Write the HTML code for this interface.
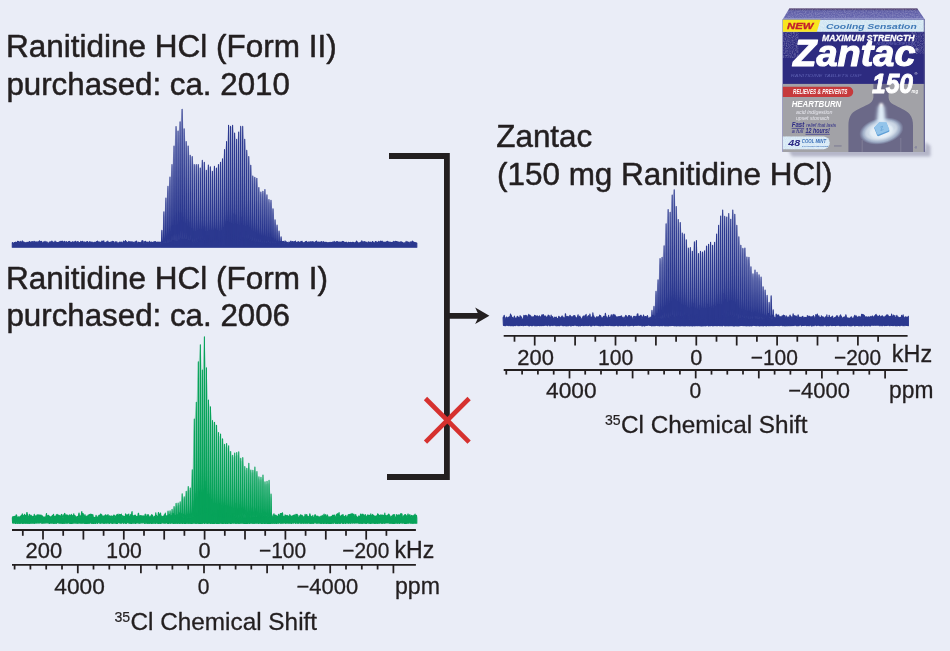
<!DOCTYPE html>
<html lang="en"><head><meta charset="utf-8"><title>Ranitidine HCl 35Cl NMR</title>
<style>
html,body{margin:0;padding:0;background:#eaedf7;}
body{width:950px;height:651px;overflow:hidden;position:relative;font-family:"Liberation Sans",Arial,sans-serif;}
svg{position:absolute;left:0;top:0;display:block}
text{font-family:"Liberation Sans",Arial,sans-serif;fill:#231f20}
</style></head><body>
<svg width="950" height="651" viewBox="0 0 950 651">
<rect x="0" y="0" width="950" height="651" fill="#eaedf7"/>

<g id="spectra" stroke-linejoin="round">
<path d="M160.9,247.7 161.9,232.3 163.9,213.9 165.9,200.1 168.0,188.6 170.0,179.3 172.0,165.5 174.0,147.1 176.0,127.5 178.1,132.1 180.1,122.9 182.1,110.2 184.1,129.8 186.1,142.5 188.2,147.1 190.2,156.3 192.2,157.5 194.2,165.5 196.2,165.5 198.3,165.5 200.3,169.0 202.3,161.4 204.3,163.2 206.3,171.3 208.4,166.0 210.4,167.8 212.4,172.4 214.4,167.4 216.4,169.0 218.5,165.5 220.5,163.2 222.5,159.8 224.5,150.5 226.5,142.5 228.6,126.2 230.6,127.4 232.6,126.2 234.6,134.0 236.6,140.3 238.7,133.1 240.7,127.4 242.7,127.4 244.7,140.3 246.7,151.4 248.8,157.5 250.8,166.3 252.8,177.0 254.8,178.2 256.8,180.5 258.9,189.7 260.9,194.3 262.9,193.2 264.9,192.0 266.9,197.3 269.0,201.9 271.0,202.4 273.0,211.1 275.0,222.0 277.0,227.3 279.1,233.5 281.1,239.2 282.1,247.7 Z" fill="#2b388f" opacity="0.12"/>
<path d="M167.0,523.2 168.0,513.8 170.1,513.5 172.1,512.3 174.1,509.2 176.1,506.1 178.1,505.5 180.2,504.6 182.2,496.9 184.2,499.4 186.2,493.8 188.2,489.2 190.3,490.8 192.3,472.3 194.3,420.1 196.3,403.2 198.3,362.8 200.4,345.7 202.4,371.1 204.4,337.9 206.4,368.8 208.4,401.0 210.5,407.8 212.5,421.6 214.5,423.2 216.5,426.2 218.5,435.5 220.6,437.0 222.6,441.6 224.6,447.1 226.6,446.2 228.6,449.3 230.7,453.9 232.7,457.6 234.7,456.3 236.7,455.4 238.7,454.5 240.8,461.6 242.8,460.0 244.8,469.2 246.8,470.8 248.8,466.2 250.9,472.3 252.9,472.9 254.9,469.9 256.9,473.9 258.9,479.1 261.0,480.0 263.0,477.9 265.0,484.6 267.0,484.0 269.0,483.1 271.1,496.9 272.1,523.2 Z" fill="#07a35a" opacity="0.2"/>
<path d="M651.0,325.8 652.0,313.0 654.0,309.0 656.0,293.9 658.0,282.4 660.1,261.6 662.1,258.2 664.1,246.7 666.1,224.8 668.1,210.5 670.2,213.3 672.2,196.0 674.2,190.7 676.2,207.5 678.2,220.6 680.3,223.6 682.3,234.0 684.3,235.1 686.3,240.9 688.3,249.0 690.4,248.5 692.4,252.2 694.4,242.9 696.4,241.6 698.4,254.5 700.5,252.2 702.5,253.1 704.5,251.9 706.5,247.1 708.5,245.2 710.6,243.2 712.6,246.2 714.6,243.2 716.6,235.1 718.6,226.3 720.7,217.1 722.7,211.1 724.7,217.4 726.7,218.1 728.7,214.6 730.8,220.2 732.8,211.1 734.8,215.3 736.8,226.3 738.8,237.9 740.9,246.2 742.9,249.4 744.9,249.1 746.9,260.5 748.9,258.2 751.0,269.7 753.0,276.6 755.0,273.2 757.0,275.0 759.0,277.8 761.1,280.1 763.1,289.3 765.1,292.8 767.1,298.5 769.1,305.4 771.2,298.5 773.2,312.3 774.2,325.8 Z" fill="#2b388f" opacity="0.12"/>
<path d="M12.30,242.8 12.55,242.5 12.80,243.4 13.05,243.3 13.30,243.3 13.55,243.4 13.80,243.2 14.05,242.9 14.30,242.7 14.55,242.5 14.80,242.5 15.05,242.4 15.30,242.6 15.55,242.2 15.80,243.0 16.05,242.5 16.30,242.5 16.55,242.6 16.80,243.1 17.05,242.9 17.30,241.8 17.55,241.2 17.80,242.3 18.05,242.1 18.30,241.4 18.55,241.7 18.80,243.1 19.05,243.6 19.30,243.0 19.55,242.1 19.80,242.9 20.05,242.5 20.30,241.4 20.55,242.0 20.80,242.3 21.05,242.6 21.30,242.1 21.55,242.1 21.80,243.0 22.05,241.9 22.30,240.8 22.55,241.7 22.80,242.5 23.05,242.3 23.30,243.0 23.55,242.5 23.80,241.8 24.05,242.6 24.30,243.1 24.55,243.4 24.80,243.4 25.05,242.6 25.30,242.9 25.55,243.0 25.80,242.9 26.05,243.2 26.30,242.8 26.55,242.9 26.80,242.4 27.05,242.4 27.30,243.0 27.55,242.7 27.80,242.3 28.05,242.8 28.30,243.2 28.55,242.6 28.80,242.2 29.05,242.1 29.30,241.5 29.55,241.8 29.80,241.8 30.05,242.9 30.30,243.0 30.55,242.2 30.80,242.6 31.05,242.7 31.30,241.8 31.55,242.3 31.80,242.1 32.05,241.8 32.30,241.6 32.55,242.0 32.80,242.1 33.05,242.7 33.30,242.6 33.55,241.9 33.80,242.0 34.05,241.3 34.30,241.8 34.55,242.4 34.80,242.7 35.05,241.7 35.30,242.2 35.55,242.5 35.80,242.7 36.05,242.6 36.30,241.8 36.55,242.4 36.80,243.3 37.05,242.7 37.30,242.7 37.55,242.3 37.80,241.8 38.05,242.2 38.30,241.7 38.55,242.3 38.80,243.0 39.05,241.8 39.30,241.3 39.55,240.7 39.80,242.5 40.05,242.9 40.30,241.6 40.55,242.1 40.80,242.9 41.05,242.2 41.30,241.7 41.55,241.4 41.80,242.1 42.05,243.2 42.30,243.7 42.55,243.8 42.80,243.7 43.05,242.9 43.30,242.0 43.55,242.2 43.80,242.2 44.05,242.1 44.30,243.0 44.55,243.0 44.80,242.1 45.05,241.2 45.30,242.3 45.55,243.1 45.80,242.4 46.05,242.5 46.30,242.2 46.55,242.3 46.80,241.8 47.05,241.9 47.30,242.5 47.55,243.2 47.80,243.5 48.05,243.5 48.30,243.6 48.55,243.4 48.80,243.0 49.05,242.3 49.30,242.6 49.55,243.5 49.80,243.0 50.05,241.5 50.30,242.2 50.55,243.0 50.80,242.9 51.05,242.4 51.30,242.8 51.55,242.1 51.80,241.1 52.05,241.6 52.30,242.7 52.55,242.6 52.80,242.1 53.05,242.0 53.30,243.1 53.55,243.7 53.80,243.4 54.05,242.7 54.30,242.3 54.55,242.4 54.80,242.2 55.05,241.1 55.30,242.0 55.55,242.6 55.80,242.4 56.05,242.0 56.30,242.2 56.55,243.0 56.80,243.3 57.05,242.8 57.30,242.5 57.55,242.7 57.80,242.5 58.05,243.1 58.30,242.9 58.55,242.2 58.80,242.7 59.05,242.4 59.30,242.1 59.55,241.7 59.80,242.8 60.05,243.2 60.30,242.2 60.55,241.7 60.80,241.2 61.05,241.6 61.30,243.1 61.55,243.1 61.80,242.1 62.05,241.1 62.30,241.1 62.55,241.8 62.80,241.6 63.05,242.1 63.30,242.6 63.55,242.5 63.80,242.3 64.05,242.1 64.30,241.3 64.55,241.4 64.80,242.0 65.05,241.6 65.30,242.8 65.55,243.4 65.80,243.2 66.05,242.9 66.30,243.0 66.55,241.6 66.80,241.9 67.05,243.3 67.30,243.3 67.55,243.1 67.80,242.9 68.05,242.2 68.30,242.2 68.55,241.6 68.80,241.8 69.05,241.6 69.30,241.4 69.55,241.5 69.80,242.3 70.05,242.3 70.30,242.1 70.55,242.6 70.80,242.6 71.05,242.6 71.30,243.2 71.55,242.7 71.80,242.4 72.05,242.1 72.30,242.3 72.55,241.8 72.80,242.3 73.05,242.8 73.30,242.1 73.55,242.4 73.80,243.2 74.05,242.8 74.30,242.0 74.55,241.9 74.80,242.7 75.05,241.6 75.30,241.8 75.55,241.3 75.80,241.8 76.05,241.9 76.30,242.2 76.55,242.4 76.80,242.7 77.05,242.4 77.30,241.9 77.55,241.6 77.80,241.8 78.05,241.8 78.30,241.8 78.55,242.4 78.80,242.4 79.05,242.5 79.30,242.7 79.55,242.7 79.80,242.8 80.05,242.7 80.30,242.4 80.55,242.1 80.80,241.2 81.05,242.0 81.30,242.9 81.55,242.8 81.80,242.6 82.05,241.8 82.30,241.4 82.55,241.4 82.80,242.1 83.05,242.9 83.30,242.7 83.55,242.0 83.80,242.1 84.05,242.0 84.30,242.1 84.55,242.1 84.80,242.2 85.05,242.0 85.30,242.3 85.55,242.6 85.80,243.0 86.05,243.3 86.30,243.1 86.55,242.7 86.80,241.5 87.05,242.3 87.30,241.9 87.55,241.5 87.80,242.0 88.05,242.5 88.30,243.0 88.55,242.8 88.80,242.9 89.05,242.9 89.30,242.6 89.55,242.4 89.80,241.5 90.05,241.5 90.30,242.8 90.55,243.3 90.80,243.1 91.05,242.5 91.30,242.3 91.55,242.9 91.80,242.8 92.05,242.0 92.30,242.4 92.55,242.5 92.80,243.0 93.05,243.2 93.30,242.7 93.55,242.7 93.80,243.0 94.05,242.5 94.30,242.3 94.55,242.4 94.80,242.8 95.05,242.4 95.30,242.8 95.55,242.5 95.80,242.3 96.05,243.2 96.30,242.8 96.55,241.7 96.80,241.6 97.05,242.0 97.30,241.5 97.55,241.1 97.80,241.4 98.05,241.9 98.30,242.8 98.55,242.4 98.80,242.1 99.05,242.1 99.30,242.2 99.55,242.9 99.80,242.2 100.05,242.1 100.30,242.8 100.55,242.9 100.80,242.5 101.05,242.5 101.30,242.1 101.55,242.3 101.80,241.6 102.05,240.9 102.30,242.4 102.55,242.8 102.80,241.9 103.05,241.8 103.30,241.2 103.55,241.3 103.80,240.8 104.05,241.9 104.30,242.6 104.55,243.1 104.80,243.1 105.05,243.5 105.30,243.1 105.55,242.5 105.80,243.2 106.05,242.7 106.30,241.8 106.55,241.9 106.80,242.3 107.05,242.9 107.30,242.7 107.55,241.9 107.80,241.1 108.05,242.5 108.30,243.1 108.55,242.8 108.80,242.2 109.05,242.7 109.30,243.2 109.55,242.9 109.80,242.7 110.05,242.2 110.30,242.9 110.55,243.3 110.80,242.4 111.05,241.9 111.30,242.3 111.55,242.2 111.80,242.3 112.05,242.1 112.30,241.2 112.55,241.9 112.80,243.0 113.05,242.5 113.30,242.1 113.55,241.6 113.80,242.7 114.05,243.2 114.30,243.3 114.55,243.0 114.80,243.0 115.05,242.3 115.30,241.8 115.55,241.9 115.80,242.1 116.05,242.4 116.30,242.0 116.55,242.2 116.80,241.9 117.05,242.3 117.30,243.2 117.55,243.6 117.80,243.7 118.05,243.5 118.30,243.0 118.55,243.3 118.80,243.3 119.05,242.4 119.30,242.4 119.55,242.2 119.80,242.5 120.05,242.6 120.30,242.6 120.55,242.4 120.80,242.1 121.05,242.2 121.30,242.0 121.55,242.8 121.80,242.5 122.05,242.8 122.30,242.8 122.55,243.3 122.80,243.0 123.05,243.0 123.30,241.5 123.55,241.2 123.80,241.5 124.05,241.7 124.30,242.9 124.55,243.3 124.80,243.0 125.05,242.2 125.30,241.1 125.55,240.6 125.80,241.6 126.05,241.8 126.30,241.6 126.55,242.5 126.80,243.1 127.05,243.3 127.30,243.0 127.55,242.3 127.80,242.9 128.05,242.8 128.30,242.2 128.55,242.1 128.80,241.3 129.05,242.4 129.30,242.7 129.55,242.5 129.80,241.8 130.05,242.4 130.30,242.7 130.55,242.2 130.80,241.8 131.05,242.8 131.30,242.2 131.55,241.9 131.80,243.0 132.05,242.8 132.30,242.5 132.55,241.9 132.80,242.1 133.05,242.2 133.30,242.4 133.55,242.4 133.80,243.0 134.05,243.4 134.30,242.8 134.55,242.7 134.80,242.3 135.05,241.7 135.30,242.4 135.55,242.9 135.80,242.5 136.05,241.3 136.30,241.0 136.55,241.3 136.80,241.6 137.05,242.8 137.30,243.4 137.55,243.2 137.80,243.0 138.05,243.0 138.30,242.5 138.55,242.4 138.80,242.2 139.05,242.7 139.30,242.5 139.55,242.7 139.80,242.6 140.05,242.9 140.30,243.4 140.55,243.0 140.80,242.4 141.05,242.4 141.30,242.6 141.55,242.9 141.80,242.0 142.05,240.5 142.30,241.3 142.55,241.8 142.80,240.9 143.05,241.2 143.30,242.4 143.55,243.4 143.80,243.6 144.05,243.4 144.30,242.9 144.55,242.3 144.80,241.5 145.05,242.1 145.30,241.3 145.55,241.5 145.80,241.7 146.05,242.0 146.30,242.2 146.55,242.7 146.80,243.4 147.05,243.0 147.30,242.5 147.55,242.2 147.80,242.5 148.05,242.8 148.30,243.3 148.55,243.4 148.80,242.5 149.05,242.2 149.30,241.3 149.55,242.5 149.80,242.8 150.05,242.4 150.30,242.1 150.55,242.6 150.80,243.2 151.05,242.9 151.30,242.5 151.55,242.1 151.80,242.2 152.05,243.2 152.30,243.5 152.55,242.6 152.80,242.3 153.05,243.1 153.30,242.4 153.55,242.2 153.80,242.2 154.05,241.6 154.30,242.3 154.55,243.3 154.80,242.6 155.05,241.7 155.30,241.6 155.55,242.0 155.80,242.1 156.05,242.4 156.30,242.8 156.55,242.4 156.80,242.3 157.05,242.4 157.30,242.1 157.55,242.6 157.80,242.4 158.05,242.5 158.30,242.2 158.55,242.3 158.80,242.1 159.05,242.7 159.30,242.8 159.55,242.3 159.80,242.5 160.05,242.1 160.30,242.1 160.55,242.9 160.80,243.2 161.05,243.2 161.15,243.2 161.30,243.1 161.40,243.5 161.54,241.1 161.55,240.5 161.66,236.5 161.78,232.3 161.80,231.7 161.90,230.2 162.02,231.9 162.05,232.9 162.14,236.5 162.26,240.7 162.30,241.6 162.40,242.1 162.55,241.5 162.65,241.9 162.79,242.6 162.80,242.6 162.91,241.6 163.03,242.7 163.05,243.1 163.17,242.8 163.30,242.8 163.42,242.1 163.55,236.5 163.56,235.9 163.68,226.3 163.80,216.1 163.92,211.8 164.04,216.1 164.05,216.8 164.16,226.1 164.28,235.6 164.30,236.9 164.42,241.6 164.55,241.4 164.67,242.1 164.80,242.3 164.81,242.8 164.93,242.3 165.05,242.8 165.19,242.9 165.30,243.0 165.44,240.0 165.55,233.6 165.58,231.2 165.70,218.1 165.80,206.2 165.82,204.3 165.94,198.1 166.05,203.3 166.06,204.1 166.18,218.0 166.30,231.1 166.44,239.6 166.55,242.0 166.69,242.5 166.80,241.4 166.83,242.5 166.95,242.8 167.05,243.0 167.07,242.4 167.21,242.5 167.30,241.7 167.46,237.6 167.55,232.0 167.60,227.1 167.72,211.1 167.80,199.1 167.84,193.9 167.96,186.4 168.05,190.7 168.08,194.0 168.20,210.9 168.30,224.6 168.32,227.0 168.46,237.4 168.55,240.2 168.71,241.0 168.80,242.5 168.85,242.7 168.97,241.6 169.05,241.4 169.09,241.9 169.23,242.3 169.30,241.8 169.48,237.2 169.55,232.5 169.62,224.9 169.74,206.0 169.80,195.5 169.86,186.1 169.98,177.1 170.05,180.4 170.10,185.9 170.22,205.8 170.30,219.3 170.34,224.9 170.48,237.0 170.55,239.6 170.73,241.5 170.80,241.7 170.87,241.8 170.99,241.7 171.05,241.5 171.11,241.2 171.25,240.5 171.30,240.0 171.50,233.7 171.55,229.7 171.64,219.1 171.76,197.1 171.80,188.7 171.88,174.9 172.00,164.5 172.05,166.4 172.12,174.8 172.24,196.6 172.30,208.5 172.36,218.6 172.50,233.1 172.55,235.7 172.75,239.6 172.80,239.8 172.89,239.8 173.01,239.9 173.05,239.9 173.13,239.9 173.27,239.3 173.30,239.0 173.52,231.7 173.55,228.9 173.66,213.4 173.78,186.5 173.80,181.5 173.90,158.9 174.02,146.1 174.05,147.0 174.14,158.9 174.26,186.3 174.30,196.4 174.38,213.7 174.52,231.8 174.55,233.6 174.77,239.7 174.80,239.9 174.91,240.2 175.03,240.7 175.05,240.5 175.15,240.4 175.29,240.2 175.30,240.2 175.54,231.3 175.55,230.5 175.68,209.8 175.80,177.8 175.92,142.3 176.04,126.5 176.05,126.6 176.16,142.3 176.28,177.8 176.30,182.8 176.40,209.9 176.54,231.6 176.55,232.2 176.79,240.5 176.80,240.8 176.93,241.2 177.05,241.3 177.17,240.9 177.30,240.3 177.31,240.2 177.55,232.4 177.56,231.4 177.70,210.6 177.80,184.8 177.82,178.9 177.94,146.2 178.05,131.2 178.06,131.1 178.18,146.1 178.30,178.8 178.42,210.5 178.55,230.0 178.56,230.7 178.80,239.1 178.81,239.0 178.95,239.4 179.05,239.4 179.07,239.3 179.19,239.0 179.30,238.4 179.33,238.0 179.55,230.6 179.58,228.1 179.72,205.8 179.80,184.5 179.84,173.4 179.96,137.8 180.05,123.0 180.08,121.9 180.20,137.7 180.30,166.9 180.32,173.2 180.44,205.6 180.55,224.4 180.58,227.5 180.80,237.0 180.83,237.3 180.97,238.3 181.05,238.4 181.09,238.5 181.21,238.6 181.30,238.4 181.35,237.9 181.55,231.6 181.60,227.5 181.74,202.9 181.80,185.9 181.86,166.8 181.98,126.9 182.05,112.5 182.10,109.2 182.22,127.0 182.30,152.7 182.34,166.9 182.46,203.2 182.55,221.4 182.60,227.8 182.80,237.7 182.85,238.4 182.99,238.9 183.05,239.0 183.11,239.0 183.23,239.0 183.30,239.0 183.37,238.6 183.55,234.2 183.62,229.4 183.76,208.6 183.80,199.2 183.88,177.8 184.00,143.9 184.05,134.2 184.12,128.8 184.24,143.9 184.30,159.9 184.36,177.8 184.48,208.5 184.55,221.2 184.62,229.5 184.80,237.6 184.87,238.3 185.01,238.7 185.05,238.8 185.13,238.9 185.25,238.8 185.30,238.4 185.39,237.5 185.55,234.4 185.64,229.5 185.78,211.2 185.80,207.1 185.90,183.1 186.02,154.6 186.05,149.1 186.14,141.5 186.26,154.7 186.30,163.7 186.38,183.2 186.50,211.2 186.55,219.8 186.64,229.8 186.80,237.4 186.89,238.8 187.03,239.6 187.05,239.7 187.15,240.0 187.27,240.3 187.30,240.3 187.41,240.1 187.55,238.0 187.66,232.7 187.80,214.9 187.92,187.5 188.04,159.2 188.05,157.2 188.16,146.1 188.28,159.2 188.30,163.5 188.40,187.6 188.52,215.0 188.55,220.3 188.66,233.1 188.80,239.1 188.91,240.3 189.05,240.4 189.17,240.0 189.29,239.9 189.30,239.9 189.43,239.1 189.55,237.3 189.68,231.9 189.80,218.8 189.82,215.5 189.94,191.3 190.05,168.5 190.06,166.7 190.18,155.3 190.30,166.8 190.42,191.4 190.54,215.9 190.55,217.6 190.68,232.1 190.80,237.6 190.93,239.5 191.05,240.0 191.07,240.2 191.19,240.8 191.30,241.0 191.31,241.0 191.45,241.0 191.55,240.2 191.70,234.8 191.80,224.8 191.84,218.7 191.96,193.6 192.05,174.2 192.08,168.3 192.20,156.5 192.30,165.0 192.32,168.4 192.44,194.1 192.55,217.5 192.56,219.2 192.70,235.6 192.80,240.1 192.95,242.0 193.05,241.5 193.09,242.5 193.21,242.4 193.30,242.3 193.33,242.2 193.47,242.3 193.55,241.7 193.72,236.1 193.80,229.1 193.86,221.2 193.98,198.4 194.05,183.6 194.10,175.3 194.22,164.5 194.30,169.5 194.34,175.3 194.46,198.4 194.55,216.4 194.58,221.4 194.72,236.3 194.80,239.8 194.97,242.1 195.05,242.4 195.11,242.5 195.23,242.0 195.30,240.7 195.35,241.3 195.49,241.7 195.55,241.2 195.74,235.8 195.80,231.1 195.88,220.9 196.00,198.2 196.05,187.3 196.12,175.3 196.24,164.5 196.30,167.3 196.36,175.2 196.48,197.9 196.55,212.1 196.60,220.7 196.74,235.3 196.80,238.2 196.99,241.3 197.05,241.4 197.13,241.6 197.25,241.4 197.30,241.1 197.37,241.1 197.51,240.4 197.55,240.0 197.76,233.8 197.80,230.9 197.90,218.9 198.02,196.7 198.05,190.7 198.14,174.9 198.26,164.5 198.30,165.7 198.38,174.9 198.50,196.7 198.55,207.0 198.62,219.0 198.76,233.6 198.80,235.7 199.01,240.1 199.05,240.2 199.15,240.5 199.27,240.8 199.30,240.9 199.39,241.1 199.53,240.9 199.55,240.7 199.78,234.9 199.80,233.4 199.92,220.7 200.04,199.5 200.05,197.4 200.16,178.1 200.28,168.0 200.30,168.3 200.40,178.1 200.52,199.7 200.55,205.6 200.64,220.9 200.78,234.8 200.80,235.9 201.03,240.7 201.05,240.7 201.17,241.1 201.29,241.2 201.30,240.9 201.41,240.7 201.55,240.1 201.80,233.4 201.94,218.4 202.05,197.3 202.06,195.2 202.18,171.4 202.30,160.4 202.42,171.4 202.54,195.1 202.55,197.3 202.66,218.2 202.80,233.7 203.05,240.8 203.19,241.4 203.30,241.5 203.31,241.2 203.43,241.1 203.55,241.2 203.57,241.0 203.80,236.3 203.82,235.0 203.96,220.1 204.05,203.3 204.08,196.6 204.20,173.2 204.30,162.5 204.32,162.2 204.44,173.3 204.55,194.7 204.56,196.9 204.68,220.3 204.80,234.1 204.82,235.5 205.05,242.0 205.07,242.1 205.21,242.0 205.30,242.1 205.33,242.4 205.45,242.5 205.55,242.2 205.59,241.9 205.80,238.4 205.84,236.5 205.98,222.5 206.05,211.1 206.10,201.4 206.22,178.9 206.30,171.5 206.34,170.3 206.46,179.0 206.55,195.4 206.58,201.3 206.70,222.4 206.80,233.3 206.84,236.1 207.05,241.7 207.09,241.9 207.23,242.0 207.30,242.1 207.35,242.1 207.47,241.8 207.55,241.3 207.61,241.0 207.80,237.5 207.86,234.7 208.00,220.1 208.05,211.7 208.12,197.9 208.24,175.5 208.30,167.8 208.36,165.0 208.48,175.4 208.55,187.4 208.60,197.8 208.72,220.1 208.80,229.7 208.86,234.2 209.05,239.9 209.11,240.4 209.25,240.8 209.30,240.7 209.37,240.7 209.49,240.8 209.55,240.8 209.63,240.2 209.80,237.6 209.88,234.1 210.02,219.9 210.05,215.4 210.14,198.6 210.26,176.9 210.30,171.5 210.38,166.8 210.50,176.9 210.55,184.1 210.62,198.3 210.74,219.8 210.80,227.2 210.88,233.9 211.05,239.5 211.13,240.3 211.27,240.9 211.30,241.0 211.39,241.1 211.51,241.1 211.55,241.0 211.65,240.7 211.80,239.0 211.90,234.8 212.04,221.5 212.05,220.2 212.16,201.4 212.28,179.9 212.30,178.2 212.40,171.4 212.52,179.7 212.55,184.6 212.64,201.3 212.76,221.6 212.80,226.6 212.90,235.0 213.05,239.8 213.15,240.4 213.29,240.6 213.30,240.6 213.41,240.8 213.53,240.7 213.55,240.6 213.67,240.0 213.80,238.1 213.92,233.4 214.05,220.7 214.06,219.4 214.18,198.2 214.30,176.5 214.42,166.4 214.54,176.5 214.55,178.1 214.66,197.8 214.78,219.2 214.80,222.1 214.92,233.6 215.05,238.5 215.17,239.8 215.30,240.5 215.31,240.5 215.43,240.4 215.55,240.4 215.69,240.1 215.80,238.9 215.94,234.0 216.05,224.1 216.08,220.1 216.20,199.1 216.30,180.1 216.32,177.9 216.44,168.0 216.55,176.5 216.56,178.0 216.68,199.1 216.80,220.4 216.94,234.3 217.05,238.7 217.19,240.7 217.30,241.0 217.33,241.2 217.45,241.3 217.55,241.4 217.57,241.5 217.71,241.3 217.80,240.4 217.96,234.9 218.05,227.0 218.10,220.3 218.22,197.7 218.30,181.1 218.34,175.2 218.46,164.5 218.55,170.7 218.58,175.2 218.70,197.8 218.80,217.0 218.82,220.5 218.96,235.5 219.05,239.5 219.21,241.7 219.30,242.0 219.35,241.9 219.47,241.8 219.55,240.7 219.59,241.2 219.73,241.6 219.80,241.0 219.98,235.2 220.05,229.1 220.12,219.8 220.24,196.7 220.30,183.7 220.36,173.2 220.48,162.2 220.55,166.1 220.60,173.2 220.72,196.7 220.80,213.0 220.84,219.8 220.98,234.7 221.05,238.4 221.23,241.3 221.30,241.3 221.37,241.5 221.49,241.7 221.55,241.8 221.61,241.6 221.75,241.1 221.80,240.6 222.00,233.9 222.05,229.8 222.14,218.3 222.26,194.4 222.30,185.3 222.38,170.2 222.50,158.8 222.55,160.9 222.62,170.1 222.74,194.2 222.80,207.2 222.86,218.1 223.00,233.5 223.05,236.3 223.25,240.1 223.30,240.2 223.39,240.4 223.51,240.3 223.55,240.0 223.63,239.7 223.77,239.1 223.80,238.9 224.02,231.4 224.05,228.8 224.16,214.3 224.28,188.3 224.30,183.2 224.40,161.8 224.52,149.5 224.55,150.3 224.64,161.6 224.76,187.9 224.80,197.5 224.88,213.9 225.02,230.9 225.05,232.9 225.27,238.2 225.30,238.2 225.41,238.4 225.53,238.5 225.55,238.7 225.65,238.3 225.79,237.5 225.80,237.5 226.04,229.3 226.05,228.4 226.18,210.4 226.30,182.4 226.42,154.6 226.54,141.5 226.55,141.6 226.66,154.5 226.78,182.6 226.80,187.8 226.90,210.3 227.04,228.7 227.05,229.6 227.29,237.0 227.30,237.0 227.43,237.4 227.55,237.4 227.67,237.4 227.80,236.7 227.81,236.5 228.05,227.9 228.06,227.1 228.20,205.7 228.30,179.5 228.32,174.6 228.44,140.4 228.55,125.3 228.56,125.2 228.68,140.5 228.80,174.8 228.92,205.9 229.05,226.5 229.06,227.5 229.30,237.1 229.31,237.0 229.45,238.1 229.55,238.8 229.57,238.9 229.69,238.9 229.80,238.5 229.83,238.5 230.05,232.3 230.08,230.0 230.22,208.6 230.30,187.8 230.34,176.9 230.46,141.9 230.55,127.4 230.58,126.4 230.70,142.0 230.80,170.8 230.82,177.1 230.94,208.7 231.05,227.0 231.08,230.1 231.30,238.9 231.33,239.2 231.47,239.6 231.55,239.5 231.59,239.6 231.71,239.3 231.80,239.2 231.85,238.9 232.05,233.6 232.10,229.6 232.24,208.0 232.30,193.0 232.36,176.1 232.48,140.9 232.55,128.1 232.60,125.2 232.72,140.8 232.80,163.5 232.84,176.0 232.96,207.6 233.05,224.0 233.10,229.6 233.30,237.9 233.35,238.5 233.49,239.1 233.55,239.1 233.61,238.9 233.73,238.6 233.80,238.3 233.87,238.4 234.05,234.5 234.12,229.9 234.26,209.6 234.30,200.2 234.38,178.8 234.50,147.5 234.55,138.2 234.62,133.0 234.74,147.5 234.80,162.8 234.86,178.9 234.98,209.2 235.05,221.6 235.12,229.8 235.30,237.7 235.37,238.6 235.51,239.3 235.55,239.0 235.63,239.1 235.75,239.2 235.80,239.0 235.89,238.7 236.05,235.7 236.14,230.2 236.28,211.1 236.30,207.2 236.40,182.3 236.52,153.0 236.55,147.2 236.64,139.3 236.76,153.0 236.80,162.4 236.88,182.5 237.00,211.2 237.05,220.2 237.14,230.8 237.30,238.1 237.39,239.2 237.53,239.7 237.55,239.7 237.65,239.6 237.77,239.5 237.80,239.7 237.91,239.0 238.05,236.4 238.16,230.3 238.30,210.3 238.42,179.2 238.54,146.9 238.55,144.7 238.66,132.1 238.78,146.9 238.80,151.8 238.90,178.8 239.02,210.3 239.05,216.4 239.16,230.9 239.30,238.1 239.41,239.8 239.55,240.3 239.67,240.3 239.79,240.3 239.80,240.3 239.93,240.1 240.05,238.4 240.18,231.5 240.30,214.0 240.32,209.4 240.44,177.6 240.55,144.7 240.56,142.2 240.68,126.4 240.80,142.1 240.92,177.5 241.04,209.4 241.05,211.8 241.18,231.2 241.30,237.9 241.43,239.8 241.55,240.2 241.57,240.2 241.69,240.0 241.80,239.5 241.81,239.4 241.95,238.4 242.05,236.9 242.20,229.0 242.30,215.7 242.34,207.5 242.46,176.2 242.55,149.4 242.58,141.7 242.70,126.4 242.80,137.3 242.82,141.7 242.94,176.2 243.05,205.4 243.06,207.7 243.20,229.1 243.30,235.4 243.45,238.7 243.55,239.5 243.59,239.6 243.71,240.0 243.80,240.1 243.83,240.1 243.97,239.9 244.05,239.3 244.22,232.4 244.30,223.5 244.36,212.9 244.48,183.3 244.55,165.5 244.60,153.3 244.72,139.3 244.80,145.8 244.84,153.3 244.96,183.8 245.05,206.8 245.08,213.3 245.22,232.5 245.30,237.1 245.47,239.9 245.55,240.1 245.61,240.0 245.73,240.0 245.80,239.9 245.85,239.6 245.99,239.1 246.05,238.3 246.24,231.2 246.30,225.8 246.38,214.4 246.50,188.6 246.55,177.7 246.62,162.5 246.74,150.4 246.80,153.6 246.86,162.4 246.98,188.2 247.05,204.0 247.10,213.9 247.24,230.8 247.30,234.5 247.49,238.7 247.55,238.9 247.63,238.8 247.75,239.0 247.80,239.1 247.87,238.8 248.01,238.4 248.05,238.2 248.26,231.6 248.30,228.4 248.40,216.0 248.52,192.2 248.55,185.4 248.64,167.7 248.76,156.5 248.80,157.8 248.88,167.8 249.00,192.0 249.05,203.0 249.12,216.1 249.26,232.0 249.30,234.4 249.51,239.2 249.55,239.2 249.65,239.7 249.77,239.9 249.80,240.1 249.89,240.1 250.03,239.5 250.05,239.1 250.28,233.2 250.30,232.1 250.42,219.2 250.54,197.3 250.55,195.1 250.66,175.5 250.78,165.3 250.80,165.6 250.90,175.6 251.02,197.5 251.05,203.6 251.14,219.4 251.28,233.7 251.30,234.9 251.53,240.2 251.55,240.2 251.67,240.7 251.79,240.9 251.80,241.1 251.91,241.1 252.05,240.5 252.30,235.4 252.44,223.1 252.55,205.8 252.56,203.8 252.68,183.9 252.80,176.0 252.92,183.9 253.04,204.2 253.05,205.9 253.16,223.2 253.30,235.8 253.55,241.3 253.69,241.7 253.80,241.5 253.81,241.6 253.93,241.6 254.05,241.1 254.07,241.0 254.30,236.6 254.32,235.3 254.46,222.8 254.55,209.4 254.58,204.4 254.70,184.8 254.80,177.5 254.82,177.2 254.94,184.9 255.05,202.9 255.06,204.6 255.18,223.2 255.30,234.5 255.32,235.5 255.55,240.9 255.57,241.3 255.71,241.7 255.80,241.7 255.83,241.7 255.95,241.8 256.05,241.6 256.09,241.5 256.30,238.2 256.34,236.8 256.48,224.7 256.55,214.4 256.60,206.2 256.72,187.0 256.80,179.4 256.84,178.3 256.96,187.2 257.05,201.4 257.08,206.5 257.20,224.7 257.30,234.2 257.34,236.4 257.55,241.2 257.59,241.6 257.73,242.0 257.80,242.0 257.85,241.6 257.97,241.9 258.05,241.7 258.11,241.6 258.30,239.1 258.36,237.0 258.50,226.9 258.55,221.1 258.62,211.3 258.74,194.7 258.80,189.4 258.86,187.5 258.98,194.7 259.05,203.8 259.10,211.0 259.22,226.7 259.30,233.9 259.36,237.1 259.55,241.1 259.61,241.4 259.75,241.7 259.80,242.0 259.87,242.1 259.99,242.0 260.05,241.9 260.13,241.8 260.30,240.1 260.38,237.7 260.52,228.0 260.55,224.8 260.64,214.0 260.76,198.8 260.80,195.2 260.88,192.1 261.00,198.9 261.05,204.7 261.12,214.2 261.24,228.5 261.30,233.2 261.38,237.6 261.55,241.6 261.63,242.3 261.77,241.5 261.80,241.7 261.89,242.1 262.01,242.6 262.05,242.2 262.15,242.6 262.30,241.6 262.40,238.8 262.54,229.0 262.55,228.1 262.66,214.0 262.78,197.9 262.80,196.0 262.90,191.2 263.02,198.4 263.05,202.0 263.14,214.5 263.26,229.4 263.30,233.0 263.40,239.3 263.55,242.7 263.65,241.5 263.79,241.0 263.80,241.5 263.91,241.4 264.03,242.5 264.05,241.8 264.17,242.3 264.30,241.9 264.42,238.6 264.55,229.6 264.56,228.7 264.68,213.2 264.80,197.0 264.92,189.6 265.04,196.8 265.05,197.9 265.16,213.5 265.28,228.8 265.30,230.7 265.42,238.9 265.55,242.3 265.67,243.0 265.80,243.1 265.81,242.8 265.93,242.1 266.05,242.5 266.19,243.0 266.30,242.2 266.44,239.3 266.55,232.8 266.58,230.3 266.70,216.3 266.80,203.5 266.82,201.7 266.94,194.9 267.05,200.4 267.06,201.7 267.18,216.6 267.30,230.4 267.44,239.5 267.55,242.1 267.69,242.8 267.80,242.6 267.83,241.5 267.95,241.4 268.05,242.0 268.07,241.9 268.21,241.9 268.30,240.7 268.46,239.8 268.55,235.6 268.60,231.7 268.72,218.8 268.80,209.6 268.84,205.6 268.96,199.6 269.05,203.1 269.08,205.7 269.20,218.8 269.30,229.6 269.32,231.5 269.46,239.6 269.55,242.1 269.71,242.5 269.80,242.5 269.85,242.5 269.97,242.5 270.05,242.3 270.09,243.2 270.23,243.6 270.30,243.2 270.48,239.9 270.55,236.5 270.62,231.4 270.74,219.2 270.80,212.2 270.86,206.0 270.98,200.3 271.05,202.5 271.10,206.3 271.22,219.5 271.30,228.0 271.34,231.6 271.48,239.9 271.55,241.8 271.73,242.6 271.80,241.5 271.87,241.5 271.99,242.1 272.05,242.6 272.11,242.7 272.25,242.3 272.30,241.3 272.50,241.2 272.55,239.7 272.64,234.8 272.76,224.4 272.80,220.4 272.88,213.6 273.00,208.8 273.05,209.8 273.12,213.5 273.24,224.5 273.30,230.2 273.36,234.7 273.50,241.4 273.55,242.0 273.75,242.8 273.80,242.4 273.89,241.6 274.01,241.8 274.05,242.0 274.13,241.4 274.27,242.5 274.30,242.5 274.52,241.3 274.55,241.3 274.66,237.5 274.78,230.7 274.80,229.4 274.90,223.2 275.02,219.9 275.05,219.9 275.14,223.0 275.26,230.6 275.30,233.3 275.38,237.7 275.52,242.3 275.55,242.4 275.77,242.4 275.80,242.4 275.91,242.2 276.03,242.6 276.05,242.0 276.15,241.6 276.29,242.9 276.30,242.7 276.54,242.9 276.55,242.6 276.68,239.5 276.80,233.9 276.92,227.6 277.04,225.0 277.05,225.2 277.16,227.8 277.28,234.1 277.30,235.1 277.40,239.8 277.54,242.7 277.55,242.7 277.79,242.3 277.80,242.1 277.93,242.3 278.05,242.1 278.17,241.7 278.30,241.8 278.31,242.2 278.55,242.6 278.56,242.4 278.70,241.2 278.80,238.1 278.82,237.5 278.94,233.1 279.05,231.1 279.06,231.3 279.18,233.0 279.30,237.3 279.42,241.5 279.55,243.4 279.56,243.0 279.80,242.0 279.81,243.0 279.95,242.9 280.05,242.5 280.07,242.4 280.19,241.5 280.30,242.5 280.33,242.6 280.55,242.4 280.58,242.8 280.72,242.7 280.80,241.6 280.84,240.6 280.96,238.1 281.05,237.1 281.08,236.9 281.20,238.2 281.30,240.3 281.32,240.8 281.44,242.7 281.55,242.1 281.58,241.8 281.80,241.3 281.83,242.5 281.97,242.4 282.05,241.7 282.09,242.0 282.21,242.1 282.30,242.4 282.55,241.9 282.80,241.5 283.05,242.4 283.30,241.7 283.55,241.4 283.80,243.1 284.05,243.4 284.30,243.1 284.55,242.5 284.80,242.3 285.05,240.8 285.30,241.7 285.55,241.9 285.80,242.7 286.05,242.5 286.30,241.9 286.55,242.2 286.80,242.5 287.05,242.5 287.30,242.4 287.55,242.7 287.80,243.2 288.05,243.4 288.30,243.4 288.55,243.3 288.80,242.5 289.05,241.9 289.30,242.7 289.55,243.2 289.80,242.8 290.05,242.4 290.30,242.4 290.55,241.7 290.80,241.1 291.05,241.4 291.30,242.0 291.55,242.4 291.80,242.5 292.05,242.8 292.30,241.6 292.55,242.2 292.80,241.7 293.05,241.6 293.30,241.9 293.55,242.8 293.80,243.0 294.05,242.5 294.30,241.9 294.55,242.1 294.80,241.6 295.05,242.3 295.30,242.0 295.55,241.0 295.80,242.1 296.05,243.2 296.30,242.9 296.55,242.7 296.80,242.6 297.05,243.0 297.30,243.1 297.55,242.3 297.80,241.9 298.05,241.9 298.30,242.6 298.55,242.0 298.80,241.7 299.05,242.2 299.30,243.0 299.55,243.0 299.80,242.7 300.05,242.5 300.30,242.5 300.55,242.4 300.80,241.7 301.05,241.4 301.30,241.5 301.55,241.6 301.80,241.8 302.05,241.3 302.30,241.9 302.55,242.4 302.80,242.6 303.05,242.6 303.30,243.3 303.55,243.4 303.80,243.1 304.05,242.6 304.30,243.0 304.55,243.1 304.80,243.4 305.05,242.7 305.30,241.5 305.55,242.3 305.80,243.0 306.05,242.3 306.30,241.3 306.55,241.6 306.80,242.5 307.05,242.7 307.30,242.3 307.55,242.8 307.80,243.2 308.05,243.0 308.30,242.1 308.55,242.3 308.80,242.3 309.05,241.9 309.30,241.9 309.55,242.6 309.80,242.8 310.05,242.3 310.30,242.7 310.55,241.7 310.80,241.8 311.05,241.7 311.30,242.2 311.55,242.9 311.80,242.9 312.05,242.2 312.30,241.5 312.55,242.6 312.80,242.7 313.05,242.6 313.30,242.0 313.55,241.9 313.80,242.6 314.05,243.2 314.30,243.4 314.55,243.3 314.80,242.9 315.05,242.2 315.30,241.9 315.55,242.4 315.80,241.5 316.05,241.7 316.30,241.6 316.55,241.1 316.80,242.2 317.05,242.4 317.30,242.2 317.55,242.5 317.80,243.0 318.05,243.3 318.30,242.9 318.55,242.1 318.80,242.0 319.05,241.9 319.30,242.4 319.55,242.8 319.80,242.5 320.05,243.0 320.30,243.1 320.55,242.0 320.80,242.4 321.05,242.5 321.30,241.8 321.55,241.6 321.80,243.0 322.05,243.3 322.30,243.0 322.55,242.9 322.80,242.4 323.05,241.7 323.30,241.6 323.55,242.3 323.80,243.0 324.05,242.9 324.30,242.4 324.55,242.7 324.80,242.4 325.05,242.2 325.30,242.9 325.55,243.3 325.80,243.6 326.05,243.0 326.30,242.2 326.55,243.0 326.80,243.3 327.05,243.3 327.30,242.6 327.55,242.8 327.80,242.9 328.05,243.1 328.30,242.9 328.55,242.7 328.80,242.6 329.05,242.8 329.30,243.0 329.55,242.4 329.80,242.9 330.05,242.9 330.30,242.9 330.55,242.8 330.80,242.3 331.05,242.5 331.30,242.9 331.55,242.8 331.80,242.6 332.05,242.4 332.30,242.6 332.55,242.0 332.80,242.3 333.05,242.6 333.30,243.0 333.55,243.1 333.80,242.2 334.05,241.3 334.30,242.7 334.55,242.8 334.80,242.0 335.05,242.2 335.30,242.8 335.55,242.9 335.80,242.7 336.05,242.3 336.30,241.9 336.55,241.7 336.80,242.1 337.05,242.5 337.30,241.6 337.55,241.8 337.80,242.7 338.05,242.6 338.30,242.1 338.55,242.7 338.80,242.6 339.05,242.6 339.30,242.1 339.55,242.4 339.80,242.3 340.05,242.8 340.30,242.5 340.55,242.1 340.80,242.6 341.05,243.0 341.30,242.3 341.55,242.1 341.80,242.7 342.05,242.4 342.30,241.5 342.55,241.4 342.80,241.9 343.05,242.1 343.30,241.6 343.55,241.8 343.80,243.2 344.05,242.9 344.30,242.3 344.55,242.3 344.80,243.0 345.05,243.0 345.30,242.9 345.55,242.7 345.80,242.5 346.05,242.3 346.30,242.4 346.55,242.3 346.80,242.4 347.05,242.9 347.30,243.6 347.55,243.3 347.80,243.1 348.05,243.0 348.30,242.5 348.55,242.3 348.80,242.5 349.05,242.7 349.30,242.5 349.55,243.2 349.80,243.4 350.05,242.5 350.30,242.4 350.55,242.4 350.80,243.1 351.05,243.4 351.30,242.8 351.55,242.5 351.80,243.1 352.05,243.1 352.30,242.7 352.55,242.2 352.80,242.2 353.05,242.9 353.30,242.6 353.55,242.5 353.80,242.4 354.05,242.8 354.30,242.8 354.55,243.2 354.80,243.5 355.05,242.9 355.30,242.9 355.55,242.4 355.80,242.2 356.05,242.1 356.30,242.0 356.55,241.0 356.80,242.0 357.05,242.4 357.30,242.1 357.55,242.3 357.80,242.7 358.05,242.7 358.30,243.0 358.55,243.1 358.80,243.3 359.05,242.9 359.30,242.8 359.55,242.8 359.80,243.2 360.05,242.8 360.30,242.7 360.55,242.4 360.80,242.1 361.05,242.4 361.30,242.4 361.55,242.1 361.80,240.7 362.05,241.9 362.30,241.8 362.55,242.6 362.80,242.5 363.05,241.8 363.30,241.9 363.55,242.1 363.80,242.4 364.05,241.8 364.30,241.5 364.55,242.3 364.80,242.7 365.05,243.2 365.30,242.9 365.55,242.3 365.80,241.9 366.05,242.7 366.30,242.3 366.55,242.3 366.80,242.6 367.05,243.4 367.30,243.4 367.55,243.3 367.80,243.4 368.05,242.3 368.30,241.7 368.55,242.2 368.80,242.4 369.05,242.4 369.30,242.8 369.55,242.7 369.80,242.3 370.05,242.1 370.30,242.8 370.55,242.8 370.80,242.3 371.05,242.8 371.30,243.5 371.55,243.4 371.80,243.1 372.05,242.6 372.30,242.1 372.55,241.5 372.80,241.6 373.05,242.4 373.30,242.3 373.55,242.7 373.80,242.9 374.05,242.9 374.30,242.9 374.55,243.0 374.80,243.1 375.05,242.8 375.30,241.6 375.55,241.8 375.80,241.5 376.05,241.8 376.30,242.3 376.55,242.1 376.80,242.3 377.05,242.7 377.30,242.5 377.55,242.3 377.80,242.9 378.05,243.5 378.30,242.9 378.55,241.8 378.80,241.4 379.05,242.2 379.30,242.8 379.55,242.3 379.80,242.2 380.05,241.9 380.30,241.4 380.55,241.2 380.80,241.7 381.05,241.7 381.30,241.8 381.55,241.8 381.80,241.4 382.05,241.1 382.30,241.5 382.55,242.6 382.80,243.0 383.05,242.1 383.30,242.2 383.55,242.2 383.80,242.2 384.05,242.8 384.30,242.3 384.55,242.9 384.80,242.4 385.05,242.2 385.30,242.3 385.55,242.7 385.80,242.9 386.05,242.4 386.30,241.7 386.55,242.1 386.80,242.3 387.05,242.1 387.30,241.2 387.55,241.8 387.80,242.5 388.05,242.3 388.30,242.1 388.55,241.9 388.80,242.8 389.05,243.3 389.30,243.2 389.55,242.6 389.80,242.0 390.05,242.5 390.30,242.4 390.55,242.3 390.80,242.8 391.05,243.1 391.30,242.4 391.55,242.7 391.80,242.8 392.05,242.6 392.30,242.5 392.55,243.0 392.80,242.9 393.05,242.8 393.30,241.4 393.55,242.0 393.80,242.8 394.05,243.0 394.30,242.1 394.55,241.7 394.80,242.3 395.05,242.3 395.30,242.3 395.55,241.4 395.80,241.8 396.05,241.9 396.30,241.6 396.55,242.2 396.80,241.6 397.05,241.8 397.30,241.9 397.55,242.1 397.80,241.8 398.05,242.2 398.30,242.9 398.55,242.6 398.80,242.5 399.05,241.9 399.30,242.7 399.55,243.2 399.80,243.3 400.05,242.8 400.30,242.4 400.55,242.1 400.80,241.7 401.05,242.5 401.30,242.4 401.55,241.9 401.80,242.1 402.05,242.3 402.30,242.7 402.55,242.6 402.80,242.5 403.05,243.2 403.30,243.6 403.55,243.3 403.80,243.0 404.05,243.2 404.30,242.8 404.55,243.2 404.80,243.1 405.05,242.9 405.30,243.2 405.55,243.3 405.80,242.9 406.05,241.3 406.30,241.9 406.55,242.9 406.80,243.4 407.05,242.9 407.30,242.3 407.55,241.7 407.80,242.4 408.05,242.4 408.30,242.4 408.55,242.9 408.80,242.5 409.05,242.2 409.30,242.9 409.55,242.8 409.80,243.5 410.05,243.9 410.30,243.5 410.55,242.5 410.80,241.7 411.05,242.6 411.30,243.0 411.55,242.1 411.80,242.3 412.05,242.4 412.30,241.1 412.55,241.3 412.80,242.7 413.05,243.0 413.30,242.3 413.55,241.9 413.80,242.5 414.05,242.6 414.30,243.1 414.55,243.0 414.80,242.4 415.05,243.0 415.30,242.9 415.55,242.6 415.80,243.5 416.05,243.6 416.30,243.1 416.55,242.9 416.80,243.1 416.8,247.3 12.3,247.3 Z" fill="#2b388f" stroke="#2b388f" stroke-width="1.1"/>
<path d="M12.30,517.7 12.55,517.9 12.80,516.8 13.05,516.6 13.30,516.8 13.55,517.2 13.80,517.2 14.05,516.5 14.30,517.0 14.55,517.1 14.80,516.2 15.05,516.5 15.30,517.4 15.55,517.0 15.80,516.9 16.05,515.3 16.30,514.8 16.55,515.5 16.80,515.5 17.05,517.2 17.30,517.2 17.55,517.7 17.80,517.4 18.05,518.0 18.30,517.7 18.55,516.7 18.80,517.4 19.05,518.0 19.30,517.6 19.55,517.0 19.80,516.9 20.05,517.1 20.30,516.2 20.55,516.3 20.80,516.5 21.05,516.3 21.30,515.4 21.55,516.1 21.80,517.0 22.05,515.3 22.30,513.9 22.55,515.1 22.80,515.0 23.05,516.2 23.30,516.4 23.55,516.5 23.80,516.3 24.05,515.5 24.30,515.3 24.55,514.2 24.80,515.9 25.05,517.7 25.30,516.7 25.55,515.3 25.80,516.7 26.05,518.2 26.30,518.0 26.55,516.8 26.80,512.7 27.05,512.5 27.30,514.5 27.55,515.4 27.80,515.7 28.05,517.2 28.30,517.2 28.55,516.6 28.80,517.2 29.05,517.0 29.30,514.2 29.55,515.6 29.80,516.6 30.05,517.0 30.30,517.3 30.55,516.5 30.80,515.1 31.05,515.3 31.30,517.0 31.55,517.8 31.80,516.1 32.05,516.6 32.30,516.8 32.55,517.7 32.80,516.5 33.05,516.5 33.30,516.5 33.55,516.7 33.80,516.8 34.05,515.5 34.30,514.2 34.55,516.8 34.80,517.7 35.05,517.7 35.30,515.9 35.55,515.9 35.80,517.1 36.05,516.7 36.30,515.9 36.55,516.0 36.80,516.6 37.05,514.9 37.30,515.3 37.55,516.6 37.80,515.1 38.05,514.8 38.30,515.1 38.55,516.2 38.80,516.5 39.05,514.8 39.30,515.7 39.55,516.9 39.80,516.6 40.05,515.0 40.30,516.0 40.55,516.2 40.80,515.6 41.05,515.0 41.30,515.9 41.55,517.1 41.80,516.4 42.05,516.3 42.30,516.0 42.55,515.9 42.80,517.1 43.05,517.8 43.30,518.0 43.55,517.9 43.80,518.1 44.05,516.7 44.30,517.1 44.55,517.8 44.80,518.0 45.05,517.6 45.30,517.5 45.55,517.2 45.80,516.6 46.05,515.8 46.30,514.1 46.55,513.5 46.80,517.0 47.05,517.4 47.30,516.5 47.55,516.7 47.80,515.6 48.05,516.4 48.30,515.7 48.55,515.3 48.80,515.7 49.05,517.8 49.30,517.4 49.55,516.4 49.80,517.9 50.05,518.4 50.30,517.2 50.55,516.7 50.80,518.1 51.05,518.6 51.30,518.3 51.55,517.0 51.80,516.2 52.05,516.6 52.30,515.3 52.55,516.0 52.80,516.3 53.05,516.7 53.30,515.5 53.55,514.2 53.80,516.1 54.05,517.3 54.30,516.9 54.55,516.6 54.80,516.4 55.05,516.8 55.30,518.1 55.55,517.8 55.80,516.6 56.05,515.5 56.30,514.9 56.55,515.2 56.80,515.3 57.05,514.3 57.30,516.1 57.55,516.3 57.80,515.2 58.05,514.9 58.30,515.7 58.55,515.2 58.80,515.9 59.05,516.3 59.30,518.4 59.55,517.8 59.80,515.3 60.05,516.7 60.30,516.5 60.55,517.1 60.80,517.5 61.05,516.3 61.30,514.6 61.55,515.0 61.80,514.4 62.05,515.2 62.30,516.1 62.55,516.6 62.80,517.7 63.05,518.4 63.30,517.1 63.55,515.8 63.80,514.7 64.05,515.0 64.30,514.4 64.55,513.5 64.80,513.4 65.05,515.0 65.30,517.2 65.55,517.4 65.80,516.8 66.05,514.9 66.30,515.1 66.55,516.4 66.80,516.0 67.05,514.9 67.30,515.1 67.55,516.5 67.80,515.6 68.05,515.6 68.30,517.8 68.55,518.0 68.80,517.2 69.05,516.7 69.30,514.9 69.55,515.0 69.80,515.2 70.05,515.4 70.30,516.8 70.55,517.1 70.80,516.3 71.05,515.8 71.30,514.4 71.55,515.4 71.80,516.1 72.05,515.3 72.30,516.6 72.55,517.1 72.80,515.8 73.05,516.3 73.30,516.8 73.55,515.1 73.80,513.7 74.05,515.8 74.30,515.3 74.55,515.6 74.80,516.8 75.05,515.6 75.30,516.4 75.55,517.4 75.80,516.8 76.05,517.2 76.30,517.9 76.55,518.2 76.80,517.7 77.05,516.7 77.30,516.4 77.55,517.2 77.80,516.5 78.05,517.6 78.30,517.4 78.55,515.5 78.80,513.8 79.05,513.0 79.30,515.0 79.55,516.7 79.80,517.5 80.05,516.9 80.30,517.2 80.55,516.5 80.80,515.6 81.05,515.2 81.30,515.5 81.55,512.4 81.80,511.6 82.05,513.9 82.30,515.2 82.55,515.0 82.80,514.0 83.05,513.4 83.30,514.3 83.55,515.9 83.80,517.4 84.05,516.6 84.30,516.9 84.55,516.9 84.80,514.8 85.05,514.7 85.30,515.9 85.55,516.4 85.80,516.6 86.05,517.1 86.30,516.9 86.55,517.2 86.80,517.5 87.05,515.9 87.30,517.5 87.55,517.6 87.80,517.9 88.05,516.9 88.30,514.8 88.55,515.8 88.80,516.1 89.05,517.4 89.30,516.9 89.55,514.6 89.80,514.5 90.05,515.6 90.30,514.0 90.55,515.1 90.80,516.3 91.05,516.8 91.30,516.2 91.55,514.2 91.80,515.0 92.05,516.5 92.30,518.0 92.55,516.9 92.80,514.6 93.05,515.7 93.30,517.3 93.55,518.4 93.80,517.8 94.05,517.6 94.30,517.6 94.55,517.4 94.80,517.8 95.05,518.4 95.30,518.0 95.55,517.2 95.80,517.0 96.05,515.2 96.30,516.6 96.55,516.8 96.80,516.8 97.05,517.2 97.30,517.3 97.55,517.5 97.80,517.6 98.05,517.5 98.30,516.0 98.55,515.9 98.80,516.2 99.05,515.2 99.30,516.1 99.55,516.1 99.80,516.3 100.05,516.2 100.30,514.3 100.55,514.1 100.80,514.0 101.05,514.4 101.30,517.5 101.55,516.3 101.80,514.8 102.05,517.0 102.30,517.4 102.55,516.4 102.80,516.0 103.05,516.8 103.30,516.7 103.55,516.1 103.80,517.2 104.05,516.0 104.30,516.1 104.55,515.8 104.80,516.0 105.05,516.8 105.30,514.8 105.55,514.8 105.80,516.6 106.05,517.8 106.30,518.1 106.55,517.1 106.80,515.5 107.05,515.2 107.30,516.7 107.55,517.4 107.80,516.3 108.05,514.6 108.30,517.1 108.55,517.5 108.80,516.4 109.05,517.4 109.30,517.0 109.55,515.7 109.80,516.5 110.05,516.2 110.30,516.3 110.55,517.2 110.80,517.4 111.05,516.7 111.30,515.7 111.55,517.9 111.80,518.2 112.05,517.4 112.30,517.2 112.55,516.4 112.80,516.2 113.05,516.5 113.30,516.9 113.55,516.2 113.80,515.1 114.05,515.0 114.30,515.6 114.55,515.8 114.80,517.8 115.05,517.6 115.30,516.0 115.55,516.6 115.80,516.9 116.05,516.4 116.30,516.1 116.55,514.9 116.80,515.7 117.05,515.2 117.30,515.1 117.55,514.6 117.80,515.1 118.05,514.1 118.30,515.9 118.55,517.6 118.80,515.7 119.05,515.2 119.30,516.3 119.55,514.4 119.80,515.2 120.05,515.8 120.30,516.2 120.55,514.5 120.80,515.2 121.05,515.4 121.30,514.0 121.55,515.4 121.80,516.7 122.05,517.7 122.30,516.4 122.55,515.7 122.80,516.3 123.05,515.9 123.30,516.3 123.55,517.1 123.80,516.5 124.05,516.5 124.30,516.7 124.55,516.5 124.80,517.6 125.05,517.2 125.30,515.8 125.55,513.7 125.80,514.8 126.05,516.1 126.30,517.3 126.55,517.0 126.80,516.1 127.05,514.6 127.30,515.4 127.55,515.0 127.80,515.0 128.05,515.4 128.30,517.1 128.55,514.5 128.80,514.0 129.05,517.1 129.30,518.2 129.55,517.2 129.80,516.3 130.05,516.3 130.30,516.0 130.55,514.7 130.80,515.0 131.05,514.3 131.30,515.8 131.55,516.3 131.80,512.6 132.05,511.6 132.30,514.9 132.55,515.4 132.80,516.0 133.05,517.0 133.30,516.3 133.55,515.7 133.80,515.9 134.05,516.1 134.30,515.8 134.55,515.3 134.80,515.7 135.05,516.7 135.30,515.1 135.55,515.7 135.80,515.9 136.05,516.9 136.30,517.7 136.55,516.5 136.80,516.5 137.05,516.5 137.30,517.2 137.55,517.6 137.80,516.8 138.05,514.7 138.30,513.3 138.55,513.2 138.80,515.4 139.05,515.9 139.30,516.7 139.55,516.0 139.80,515.9 140.05,515.5 140.30,516.4 140.55,516.0 140.80,516.9 141.05,515.6 141.30,516.5 141.55,517.6 141.80,517.0 142.05,515.9 142.30,516.5 142.55,517.4 142.80,517.1 143.05,515.9 143.30,516.2 143.55,517.2 143.80,516.1 144.05,517.3 144.30,518.0 144.55,518.2 144.80,516.5 145.05,514.5 145.30,514.1 145.55,516.2 145.80,517.6 146.05,517.0 146.30,517.1 146.55,517.3 146.80,516.5 147.05,514.6 147.30,516.5 147.55,518.2 147.80,516.8 148.05,515.4 148.30,514.8 148.55,515.0 148.80,515.8 149.05,517.1 149.30,517.1 149.55,516.9 149.80,517.5 150.05,517.3 150.30,518.0 150.55,517.6 150.80,515.9 151.05,516.9 151.30,516.6 151.55,515.4 151.80,514.5 152.05,516.5 152.30,517.0 152.55,515.4 152.80,516.6 153.05,517.5 153.30,517.6 153.55,517.1 153.80,517.3 154.05,517.1 154.30,516.8 154.55,516.2 154.80,516.2 155.05,516.1 155.30,516.9 155.55,515.7 155.80,512.9 156.05,515.5 156.30,515.5 156.55,515.3 156.80,516.1 157.05,517.9 157.30,518.2 157.55,516.6 157.80,517.6 158.05,516.5 158.30,512.8 158.55,512.5 158.80,513.8 159.05,515.6 159.30,516.4 159.55,516.6 159.80,516.0 160.05,513.8 160.30,513.5 160.55,513.0 160.80,515.8 161.05,516.1 161.30,515.8 161.55,516.4 161.80,516.5 162.05,517.3 162.30,517.5 162.55,517.4 162.80,516.4 163.05,516.7 163.30,516.8 163.55,517.2 163.80,517.3 164.05,515.0 164.30,515.3 164.55,516.1 164.80,514.8 165.05,514.3 165.30,513.1 165.55,515.8 165.80,517.9 166.05,517.6 166.30,515.9 166.55,516.1 166.80,517.0 167.05,516.5 167.29,515.8 167.30,515.5 167.54,517.7 167.55,518.0 167.68,517.2 167.80,515.4 167.92,511.9 168.04,511.1 168.05,511.2 168.16,512.4 168.28,515.2 168.30,516.1 168.40,517.3 168.54,517.0 168.55,517.4 168.79,516.3 168.80,515.7 168.93,515.2 169.05,516.3 169.17,517.1 169.30,517.3 169.31,516.6 169.55,514.4 169.56,514.9 169.70,516.5 169.80,516.0 169.82,515.5 169.94,512.2 170.05,510.7 170.06,511.0 170.18,512.3 170.30,515.1 170.42,516.3 170.55,516.5 170.56,516.8 170.80,516.0 170.81,517.2 170.95,517.0 171.05,517.3 171.07,517.3 171.19,515.7 171.30,516.8 171.33,516.6 171.55,516.3 171.58,516.9 171.72,516.6 171.80,515.7 171.84,514.6 171.96,511.3 172.05,509.8 172.08,509.3 172.20,511.0 172.30,513.7 172.32,514.5 172.44,516.9 172.55,516.2 172.58,514.8 172.80,513.9 172.83,514.2 172.97,516.6 173.05,517.4 173.09,516.6 173.21,513.7 173.30,514.8 173.35,515.7 173.55,516.6 173.60,517.2 173.74,516.9 173.80,515.0 173.86,512.6 173.98,508.1 174.05,506.6 174.10,506.7 174.22,508.7 174.30,511.1 174.34,512.7 174.46,516.9 174.55,516.7 174.60,517.8 174.80,518.5 174.85,518.7 174.99,517.7 175.05,517.0 175.11,517.8 175.23,518.0 175.30,516.3 175.37,515.3 175.55,517.7 175.62,517.1 175.76,514.9 175.80,514.1 175.88,510.5 176.00,505.3 176.05,504.3 176.12,503.4 176.24,505.7 176.30,507.6 176.36,510.3 176.48,515.8 176.55,516.1 176.62,517.3 176.80,516.6 176.87,516.2 177.01,515.8 177.05,515.0 177.13,514.7 177.25,516.3 177.30,517.1 177.39,515.5 177.55,516.8 177.64,516.2 177.78,515.6 177.80,514.5 177.90,510.4 178.02,505.2 178.05,504.0 178.14,503.0 178.26,505.5 178.30,507.0 178.38,510.7 178.50,515.6 178.55,514.9 178.64,515.2 178.80,514.5 178.89,516.4 179.03,516.3 179.05,514.4 179.15,513.1 179.27,515.5 179.30,515.8 179.41,514.5 179.55,515.9 179.66,515.9 179.80,514.3 179.92,509.8 180.04,504.5 180.05,503.6 180.16,501.8 180.28,504.3 180.30,504.9 180.40,509.8 180.52,514.5 180.55,516.0 180.66,517.4 180.80,514.8 180.91,516.1 181.05,516.4 181.17,514.1 181.29,515.2 181.30,514.6 181.43,515.9 181.55,516.7 181.68,515.7 181.80,512.6 181.82,511.4 181.94,504.8 182.05,498.1 182.06,497.2 182.18,493.7 182.30,497.4 182.42,504.8 182.54,511.8 182.55,512.4 182.68,515.8 182.80,516.4 182.93,516.4 183.05,517.3 183.07,517.9 183.19,517.4 183.30,516.9 183.31,516.6 183.45,516.0 183.55,516.5 183.70,516.6 183.80,514.9 183.84,513.4 183.96,506.6 184.05,501.5 184.08,499.9 184.20,496.7 184.30,498.8 184.32,499.9 184.44,506.7 184.55,512.3 184.56,513.0 184.70,516.6 184.80,515.7 184.95,516.0 185.05,516.9 185.09,517.9 185.21,517.9 185.30,517.6 185.33,515.9 185.47,515.4 185.55,516.7 185.72,517.8 185.80,515.1 185.86,511.5 185.98,503.3 186.05,498.5 186.10,495.4 186.22,491.3 186.30,493.2 186.34,495.4 186.46,503.7 186.55,510.0 186.58,511.8 186.72,514.9 186.80,515.2 186.97,517.2 187.05,518.0 187.11,516.7 187.23,514.7 187.30,515.2 187.35,516.5 187.49,515.8 187.55,516.1 187.74,516.6 187.80,514.4 187.88,510.5 188.00,501.2 188.05,496.8 188.12,491.0 188.24,486.6 188.30,487.8 188.36,491.4 188.48,501.3 188.55,507.2 188.60,510.6 188.74,516.8 188.80,516.1 188.99,514.1 189.05,514.5 189.13,516.1 189.25,517.4 189.30,518.2 189.37,516.7 189.51,516.8 189.55,516.7 189.76,516.4 189.80,515.9 189.90,511.1 190.02,502.1 190.05,499.5 190.14,492.1 190.26,488.0 190.30,488.7 190.38,492.2 190.50,502.2 190.55,506.3 190.62,511.1 190.76,516.8 190.80,517.6 191.01,517.4 191.05,516.9 191.15,516.7 191.27,517.4 191.30,517.8 191.39,516.6 191.53,515.8 191.55,516.3 191.78,513.8 191.80,512.9 191.92,504.3 192.04,491.0 192.05,489.8 192.16,476.3 192.28,469.7 192.30,469.9 192.40,476.4 192.52,490.7 192.55,494.4 192.64,504.2 192.78,513.3 192.80,513.8 193.03,517.2 193.05,516.9 193.17,515.2 193.29,516.6 193.30,516.3 193.41,515.7 193.55,514.7 193.80,508.4 193.94,489.8 194.05,463.2 194.06,461.0 194.18,431.2 194.30,419.1 194.42,430.9 194.54,460.9 194.55,463.9 194.66,489.3 194.80,507.3 195.05,513.5 195.19,514.1 195.30,515.5 195.31,516.1 195.43,516.1 195.55,515.3 195.57,514.6 195.80,507.1 195.82,505.6 195.96,483.5 196.05,460.1 196.08,451.3 196.20,417.8 196.30,402.7 196.32,402.2 196.44,417.7 196.55,447.9 196.56,451.1 196.68,483.6 196.80,503.3 196.82,505.5 197.05,514.6 197.07,514.7 197.21,515.3 197.30,515.0 197.33,515.0 197.45,514.8 197.55,514.9 197.59,514.6 197.80,506.7 197.84,502.3 197.98,473.7 198.05,449.5 198.10,429.1 198.22,383.0 198.30,364.3 198.34,361.8 198.46,383.0 198.55,417.9 198.58,428.7 198.70,472.9 198.80,496.0 198.84,502.6 199.05,513.8 199.09,514.0 199.23,515.0 199.30,515.3 199.35,515.3 199.47,514.9 199.55,514.7 199.61,514.2 199.80,507.1 199.86,500.3 200.00,467.6 200.05,449.0 200.12,420.7 200.24,368.1 200.30,350.9 200.36,344.7 200.48,368.0 200.55,397.3 200.60,420.5 200.72,468.2 200.80,490.0 200.86,500.4 201.05,512.4 201.11,513.3 201.25,514.2 201.30,514.4 201.37,514.2 201.49,513.8 201.55,513.7 201.63,513.0 201.80,508.0 201.88,500.9 202.02,473.6 202.05,464.6 202.14,431.9 202.26,389.7 202.30,379.2 202.38,370.1 202.50,389.6 202.55,406.6 202.62,432.1 202.74,473.2 202.80,487.5 202.88,500.2 203.05,510.7 203.13,512.3 203.27,513.2 203.30,512.8 203.39,512.5 203.51,512.9 203.55,513.1 203.65,512.7 203.80,508.4 203.90,498.8 204.04,465.2 204.05,460.8 204.16,415.7 204.28,361.2 204.30,354.1 204.40,336.9 204.52,361.1 204.55,373.2 204.64,415.5 204.76,465.3 204.80,477.5 204.90,498.1 205.05,509.6 205.15,511.6 205.29,512.2 205.30,512.3 205.41,512.1 205.53,511.6 205.55,511.6 205.67,510.6 205.80,506.8 205.92,498.1 206.05,473.8 206.06,470.8 206.18,429.1 206.30,387.2 206.42,367.8 206.54,387.3 206.55,390.4 206.66,429.8 206.78,471.3 206.80,476.4 206.92,498.0 207.05,507.7 207.17,511.0 207.30,512.0 207.31,512.0 207.43,512.9 207.55,513.0 207.69,513.0 207.80,511.8 207.94,504.3 208.05,488.7 208.08,482.2 208.20,449.2 208.30,420.8 208.32,415.7 208.44,400.0 208.55,413.5 208.56,415.8 208.68,449.9 208.80,483.0 208.94,504.7 209.05,511.7 209.19,514.0 209.30,514.5 209.33,514.4 209.45,514.2 209.55,514.1 209.57,514.3 209.71,513.5 209.80,511.8 209.96,504.0 210.05,492.5 210.10,483.5 210.22,453.0 210.30,430.1 210.34,421.4 210.46,406.8 210.55,415.3 210.58,421.5 210.70,452.8 210.80,479.8 210.82,484.2 210.96,504.5 211.05,509.9 211.21,513.7 211.30,513.9 211.35,514.5 211.47,514.9 211.55,515.0 211.59,515.0 211.73,514.3 211.80,513.6 211.98,506.8 212.05,500.2 212.12,489.2 212.24,461.3 212.30,445.9 212.36,431.5 212.48,420.6 212.55,425.3 212.60,432.0 212.72,461.6 212.80,481.2 212.84,489.7 212.98,507.8 213.05,511.7 213.23,515.0 213.30,512.2 213.37,511.7 213.49,515.8 213.55,516.2 213.61,516.2 213.75,515.3 213.80,514.4 214.00,507.6 214.05,503.4 214.14,489.8 214.26,461.9 214.30,451.3 214.38,432.8 214.50,422.2 214.55,424.6 214.62,433.2 214.74,462.6 214.80,477.3 214.86,490.4 215.00,508.4 215.05,511.2 215.25,516.0 215.30,516.3 215.39,516.6 215.51,516.8 215.55,516.8 215.63,516.1 215.77,515.1 215.80,515.1 216.02,508.7 216.05,506.4 216.16,492.0 216.28,465.1 216.30,459.9 216.40,436.5 216.52,425.2 216.55,426.1 216.64,436.2 216.76,464.5 216.80,474.0 216.88,491.6 217.02,509.0 217.05,511.2 217.27,515.1 217.30,516.4 217.41,516.6 217.53,515.1 217.55,516.5 217.65,516.5 217.79,515.7 217.80,515.5 218.04,509.0 218.05,508.3 218.18,493.3 218.30,469.4 218.42,444.3 218.54,432.6 218.55,432.8 218.66,444.0 218.78,469.3 218.80,473.6 218.90,493.2 219.04,508.7 219.05,508.8 219.29,515.2 219.30,515.3 219.43,515.8 219.55,516.0 219.67,515.8 219.80,515.5 219.81,515.3 220.05,509.5 220.06,508.9 220.20,493.6 220.30,475.0 220.32,470.6 220.44,445.8 220.55,434.6 220.56,434.1 220.68,444.8 220.80,470.3 220.92,493.7 221.05,507.9 221.06,508.7 221.30,514.2 221.31,515.9 221.45,516.9 221.55,516.0 221.57,514.2 221.69,516.8 221.80,516.4 221.83,515.4 222.05,512.4 222.08,510.7 222.22,496.4 222.30,482.2 222.34,473.7 222.46,449.1 222.55,439.4 222.58,438.9 222.70,449.2 222.80,469.3 222.82,473.7 222.94,496.0 223.05,508.3 223.08,510.3 223.30,516.5 223.33,515.2 223.47,515.8 223.55,517.2 223.59,517.2 223.71,517.0 223.80,515.8 223.85,516.5 224.05,512.8 224.10,510.0 224.24,496.4 224.30,487.3 224.36,476.5 224.48,454.8 224.55,446.6 224.60,444.3 224.72,454.3 224.80,468.3 224.84,475.5 224.96,495.6 225.05,505.7 225.10,509.3 225.30,514.7 225.35,515.9 225.49,515.9 225.55,515.7 225.61,516.3 225.73,515.3 225.80,514.0 225.87,515.4 226.05,512.6 226.12,509.2 226.26,495.9 226.30,489.7 226.38,475.2 226.50,453.3 226.55,447.2 226.62,443.5 226.74,453.5 226.80,463.9 226.86,475.8 226.98,496.3 227.05,504.8 227.12,509.9 227.30,514.8 227.37,516.5 227.51,516.9 227.55,513.3 227.63,513.1 227.75,516.5 227.80,516.5 227.89,516.7 228.05,514.8 228.14,510.8 228.28,497.7 228.30,495.3 228.40,477.9 228.52,456.1 228.55,451.3 228.64,445.7 228.76,456.1 228.80,462.5 228.88,477.5 229.00,497.8 229.05,503.9 229.14,511.2 229.30,516.2 229.39,515.7 229.53,514.5 229.55,514.1 229.65,516.1 229.77,516.9 229.80,515.2 229.91,516.3 230.05,515.0 230.16,511.0 230.30,498.4 230.42,479.8 230.54,460.0 230.55,459.1 230.66,451.6 230.78,459.7 230.80,463.1 230.90,480.2 231.02,498.8 231.05,501.7 231.16,510.3 231.30,515.1 231.41,516.4 231.55,516.1 231.67,517.2 231.79,517.1 231.80,515.7 231.93,512.0 232.05,512.2 232.18,511.4 232.30,502.5 232.32,500.3 232.44,482.4 232.55,464.8 232.56,463.7 232.68,455.2 232.80,463.2 232.92,481.9 233.04,499.6 233.05,501.1 233.18,512.0 233.30,516.1 233.43,517.4 233.55,517.5 233.57,516.3 233.69,516.8 233.80,517.1 233.81,517.4 233.95,516.9 234.05,515.8 234.20,511.0 234.30,503.2 234.34,499.5 234.46,481.3 234.55,465.5 234.58,461.3 234.70,453.0 234.80,459.6 234.82,462.4 234.94,481.6 235.05,497.9 235.06,498.9 235.20,511.1 235.30,514.7 235.45,514.9 235.55,516.5 235.59,516.3 235.71,515.5 235.80,514.7 235.83,516.6 235.97,517.8 236.05,517.3 236.22,512.8 236.30,507.2 236.36,500.5 236.48,481.6 236.55,469.3 236.60,461.5 236.72,452.6 236.80,456.7 236.84,461.6 236.96,481.5 237.05,496.3 237.08,500.2 237.22,512.4 237.30,515.1 237.47,516.7 237.55,516.5 237.61,517.9 237.73,517.1 237.80,516.8 237.85,518.3 237.99,518.6 238.05,517.7 238.24,513.0 238.30,508.8 238.38,500.6 238.50,481.4 238.55,472.0 238.62,460.9 238.74,451.7 238.80,454.2 238.86,461.0 238.98,480.8 239.05,493.3 239.10,500.3 239.24,512.2 239.30,514.9 239.49,514.4 239.55,515.5 239.63,517.4 239.75,516.8 239.80,514.0 239.87,515.4 240.01,516.0 240.05,516.8 240.26,512.0 240.30,509.9 240.40,501.1 240.52,484.9 240.55,480.0 240.64,466.3 240.76,458.4 240.80,459.5 240.88,466.7 241.00,484.4 241.05,491.6 241.12,500.9 241.26,512.0 241.30,513.4 241.51,516.2 241.55,515.7 241.65,515.2 241.77,516.6 241.80,517.4 241.89,517.4 242.03,516.7 242.05,515.2 242.28,511.9 242.30,510.7 242.42,500.6 242.54,483.7 242.55,481.8 242.66,465.4 242.78,457.6 242.80,457.7 242.90,465.8 243.02,483.8 243.05,488.3 243.14,500.4 243.28,511.7 243.30,512.4 243.53,514.4 243.55,514.0 243.67,515.2 243.79,514.1 243.80,516.6 243.91,517.8 244.05,517.7 244.30,513.6 244.44,503.8 244.55,490.8 244.56,488.9 244.68,473.4 244.80,466.5 244.92,473.1 245.04,488.7 245.05,490.5 245.16,504.0 245.30,513.1 245.55,514.7 245.69,515.0 245.80,517.3 245.81,518.4 245.93,517.1 246.05,515.2 246.07,514.4 246.30,514.6 246.32,514.3 246.46,504.8 246.55,494.6 246.58,490.6 246.70,475.3 246.80,468.3 246.82,468.3 246.94,475.3 247.05,489.2 247.06,490.6 247.18,505.2 247.30,513.8 247.32,514.4 247.55,515.8 247.57,515.3 247.71,517.0 247.80,516.5 247.83,515.0 247.95,515.4 248.05,515.2 248.09,514.9 248.30,515.8 248.34,514.7 248.48,504.3 248.55,495.6 248.60,488.4 248.72,471.2 248.80,464.5 248.84,463.3 248.96,470.9 249.05,483.2 249.08,487.6 249.20,503.6 249.30,511.8 249.34,513.8 249.55,516.0 249.59,516.8 249.73,516.9 249.80,517.0 249.85,516.7 249.97,516.8 250.05,517.3 250.11,517.7 250.30,515.8 250.36,514.0 250.50,504.8 250.55,499.7 250.62,490.9 250.74,476.2 250.80,471.7 250.86,470.0 250.98,476.3 251.05,484.4 251.10,490.7 251.22,504.2 251.30,510.5 251.36,513.9 251.55,517.4 251.61,516.6 251.75,517.1 251.80,518.1 251.87,516.8 251.99,513.5 252.05,513.3 252.13,516.4 252.30,517.4 252.38,514.8 252.52,506.0 252.55,503.2 252.64,492.2 252.76,477.1 252.80,473.1 252.88,470.3 253.00,476.9 253.05,483.0 253.12,492.4 253.24,506.2 253.30,510.8 253.38,515.0 253.55,515.2 253.63,516.0 253.77,516.5 253.80,517.3 253.89,515.8 254.01,515.2 254.05,515.5 254.15,517.2 254.30,516.7 254.40,515.0 254.54,505.5 254.55,503.9 254.66,489.9 254.78,474.3 254.80,472.3 254.90,467.0 255.02,473.9 255.05,477.6 255.14,489.9 255.26,505.3 255.30,508.9 255.40,514.7 255.55,516.5 255.65,516.3 255.79,515.8 255.80,516.0 255.91,516.8 256.03,517.5 256.05,517.2 256.17,516.8 256.30,515.2 256.42,514.0 256.55,506.4 256.56,505.3 256.68,491.8 256.80,477.7 256.92,471.5 257.04,477.6 257.05,478.8 257.16,492.0 257.28,505.6 257.30,507.1 257.42,514.3 257.55,515.9 257.67,512.9 257.80,513.3 257.81,515.3 257.93,515.4 258.05,514.9 258.19,515.7 258.30,517.2 258.44,515.0 258.55,509.0 258.58,506.8 258.70,495.0 258.80,483.7 258.82,482.0 258.94,476.7 259.05,481.7 259.06,482.1 259.18,494.9 259.30,506.7 259.44,515.3 259.55,518.1 259.69,517.6 259.80,517.3 259.83,518.0 259.95,517.4 260.05,516.1 260.07,513.9 260.21,515.9 260.30,515.8 260.46,516.1 260.55,511.7 260.60,508.0 260.72,495.8 260.80,486.5 260.84,483.0 260.96,477.2 261.05,480.4 261.08,483.2 261.20,495.9 261.30,505.8 261.32,507.7 261.46,515.5 261.55,516.0 261.71,514.8 261.80,514.8 261.85,516.1 261.97,516.0 262.05,515.4 262.09,515.3 262.23,516.3 262.30,517.2 262.48,516.0 262.55,512.4 262.62,507.3 262.74,494.9 262.80,487.5 262.86,481.3 262.98,475.1 263.05,477.5 263.10,481.2 263.22,494.8 263.30,503.8 263.34,507.2 263.48,514.8 263.55,514.6 263.73,515.9 263.80,516.2 263.87,515.3 263.99,514.7 264.05,516.0 264.11,515.8 264.25,516.2 264.30,517.0 264.50,515.3 264.55,513.3 264.64,508.2 264.76,497.5 264.80,493.7 264.88,486.5 265.00,481.7 265.05,482.9 265.12,487.1 265.24,498.2 265.30,503.9 265.36,509.0 265.50,516.0 265.55,517.0 265.75,516.9 265.80,514.6 265.89,513.9 266.01,516.0 266.05,516.0 266.13,516.1 266.27,515.2 266.30,515.4 266.52,514.3 266.55,514.8 266.66,509.3 266.78,498.5 266.80,496.2 266.90,486.5 267.02,481.2 267.05,481.5 267.14,486.9 267.26,498.6 267.30,502.2 267.38,508.8 267.52,516.4 267.55,517.1 267.77,518.1 267.80,516.9 267.91,516.7 268.03,517.3 268.05,516.4 268.15,516.0 268.29,516.0 268.30,515.9 268.54,515.8 268.55,515.4 268.68,508.3 268.80,497.5 268.92,486.0 269.04,480.8 269.05,480.4 269.16,485.7 269.28,497.2 269.30,499.1 269.40,508.5 269.54,515.9 269.55,515.9 269.79,515.4 269.80,516.0 269.93,514.4 270.05,513.2 270.17,514.5 270.30,515.1 270.31,517.2 270.55,516.6 270.56,514.9 270.70,512.9 270.80,507.3 270.82,506.0 270.94,497.9 271.05,494.2 271.06,494.0 271.18,497.9 271.30,506.1 271.42,513.0 271.55,514.2 271.56,515.8 271.80,515.4 271.81,516.0 271.95,515.8 272.05,515.1 272.07,517.5 272.19,517.4 272.30,517.2 272.55,516.7 272.80,516.8 273.05,517.2 273.30,516.5 273.55,515.9 273.80,513.9 274.05,513.9 274.30,515.8 274.55,515.5 274.80,515.8 275.05,516.8 275.30,516.5 275.55,515.1 275.80,516.3 276.05,515.4 276.30,515.5 276.55,517.0 276.80,517.0 277.05,516.6 277.30,516.3 277.55,516.2 277.80,516.6 278.05,516.3 278.30,515.7 278.55,514.2 278.80,515.1 279.05,516.0 279.30,516.5 279.55,517.6 279.80,517.1 280.05,515.0 280.30,513.5 280.55,514.9 280.80,513.6 281.05,515.8 281.30,515.8 281.55,513.5 281.80,514.4 282.05,515.0 282.30,512.7 282.55,512.9 282.80,516.1 283.05,515.9 283.30,516.8 283.55,517.2 283.80,516.7 284.05,516.8 284.30,517.1 284.55,516.4 284.80,516.8 285.05,514.8 285.30,516.0 285.55,515.9 285.80,515.7 286.05,515.4 286.30,517.3 286.55,518.4 286.80,517.6 287.05,515.8 287.30,515.4 287.55,516.9 287.80,516.9 288.05,517.3 288.30,516.1 288.55,517.5 288.80,517.5 289.05,516.2 289.30,516.5 289.55,516.3 289.80,514.5 290.05,515.8 290.30,517.3 290.55,516.7 290.80,515.8 291.05,516.6 291.30,517.8 291.55,517.9 291.80,517.3 292.05,516.3 292.30,515.9 292.55,516.6 292.80,517.3 293.05,516.6 293.30,515.4 293.55,516.4 293.80,516.2 294.05,515.8 294.30,514.8 294.55,517.5 294.80,517.2 295.05,516.2 295.30,517.7 295.55,516.5 295.80,514.2 296.05,515.5 296.30,517.7 296.55,517.3 296.80,514.2 297.05,514.3 297.30,516.2 297.55,515.1 297.80,515.2 298.05,516.6 298.30,517.5 298.55,517.9 298.80,517.5 299.05,517.1 299.30,517.8 299.55,516.4 299.80,515.8 300.05,515.5 300.30,515.6 300.55,516.6 300.80,514.5 301.05,515.6 301.30,516.8 301.55,517.2 301.80,515.7 302.05,515.2 302.30,517.3 302.55,517.0 302.80,516.1 303.05,517.4 303.30,516.9 303.55,517.0 303.80,516.9 304.05,517.5 304.30,517.2 304.55,517.0 304.80,515.9 305.05,514.3 305.30,516.8 305.55,517.1 305.80,516.2 306.05,516.0 306.30,514.8 306.55,515.4 306.80,514.5 307.05,516.5 307.30,516.7 307.55,516.2 307.80,516.2 308.05,516.5 308.30,516.6 308.55,517.3 308.80,517.7 309.05,517.8 309.30,516.7 309.55,515.6 309.80,513.7 310.05,514.4 310.30,515.7 310.55,517.0 310.80,517.1 311.05,516.3 311.30,517.4 311.55,518.0 311.80,517.2 312.05,516.6 312.30,517.5 312.55,517.3 312.80,515.4 313.05,516.6 313.30,518.4 313.55,518.1 313.80,518.2 314.05,517.6 314.30,517.1 314.55,516.8 314.80,514.8 315.05,515.4 315.30,514.7 315.55,515.2 315.80,517.5 316.05,517.9 316.30,517.1 316.55,517.5 316.80,516.1 317.05,516.3 317.30,516.1 317.55,517.1 317.80,517.0 318.05,516.3 318.30,517.2 318.55,517.6 318.80,517.6 319.05,518.0 319.30,516.7 319.55,517.5 319.80,517.9 320.05,518.0 320.30,517.2 320.55,517.0 320.80,516.3 321.05,516.1 321.30,517.2 321.55,517.0 321.80,516.6 322.05,516.4 322.30,515.4 322.55,517.6 322.80,518.0 323.05,517.1 323.30,516.4 323.55,516.9 323.80,514.7 324.05,514.1 324.30,515.5 324.55,516.7 324.80,517.2 325.05,516.5 325.30,515.0 325.55,515.2 325.80,514.5 326.05,516.0 326.30,517.6 326.55,517.6 326.80,516.4 327.05,516.6 327.30,515.5 327.55,514.9 327.80,517.8 328.05,518.4 328.30,517.4 328.55,517.1 328.80,516.9 329.05,516.7 329.30,517.0 329.55,517.8 329.80,517.6 330.05,517.9 330.30,517.4 330.55,516.8 330.80,517.9 331.05,517.3 331.30,516.5 331.55,516.9 331.80,516.6 332.05,516.4 332.30,515.7 332.55,515.2 332.80,516.1 333.05,515.0 333.30,515.5 333.55,516.1 333.80,515.5 334.05,516.0 334.30,515.4 334.55,515.0 334.80,516.4 335.05,516.7 335.30,517.0 335.55,517.9 335.80,518.3 336.05,517.4 336.30,514.8 336.55,514.5 336.80,515.8 337.05,514.4 337.30,513.6 337.55,515.1 337.80,516.6 338.05,516.2 338.30,516.4 338.55,514.7 338.80,513.2 339.05,512.6 339.30,514.9 339.55,516.5 339.80,515.8 340.05,517.1 340.30,518.1 340.55,517.9 340.80,517.3 341.05,516.0 341.30,515.5 341.55,516.6 341.80,515.9 342.05,514.9 342.30,516.4 342.55,517.8 342.80,516.1 343.05,514.6 343.30,516.2 343.55,516.9 343.80,516.5 344.05,516.7 344.30,517.6 344.55,517.0 344.80,516.9 345.05,516.1 345.30,516.1 345.55,515.8 345.80,515.3 346.05,516.2 346.30,517.3 346.55,518.1 346.80,518.1 347.05,517.3 347.30,517.1 347.55,516.8 347.80,515.7 348.05,515.2 348.30,514.6 348.55,517.1 348.80,517.8 349.05,516.5 349.30,514.6 349.55,515.0 349.80,515.4 350.05,514.4 350.30,516.3 350.55,515.6 350.80,514.1 351.05,514.6 351.30,517.1 351.55,516.8 351.80,513.9 352.05,513.4 352.30,516.0 352.55,517.1 352.80,514.7 353.05,514.0 353.30,517.2 353.55,518.3 353.80,516.0 354.05,514.4 354.30,516.2 354.55,517.1 354.80,516.7 355.05,516.8 355.30,516.6 355.55,514.8 355.80,514.6 356.05,517.1 356.30,518.1 356.55,516.6 356.80,516.3 357.05,517.5 357.30,518.3 357.55,518.0 357.80,517.4 358.05,517.5 358.30,517.9 358.55,516.8 358.80,515.8 359.05,517.3 359.30,518.1 359.55,517.3 359.80,517.0 360.05,516.2 360.30,515.8 360.55,514.0 360.80,514.6 361.05,515.9 361.30,517.7 361.55,517.3 361.80,516.0 362.05,514.1 362.30,514.3 362.55,517.3 362.80,516.0 363.05,514.3 363.30,514.8 363.55,515.5 363.80,517.2 364.05,517.6 364.30,518.1 364.55,516.9 364.80,515.1 365.05,515.0 365.30,514.5 365.55,517.1 365.80,516.7 366.05,516.5 366.30,518.0 366.55,517.4 366.80,517.6 367.05,516.1 367.30,515.1 367.55,515.6 367.80,515.0 368.05,515.8 368.30,516.2 368.55,515.2 368.80,515.7 369.05,515.2 369.30,515.4 369.55,516.2 369.80,516.3 370.05,515.5 370.30,515.0 370.55,515.7 370.80,513.7 371.05,516.7 371.30,518.3 371.55,518.6 371.80,517.5 372.05,515.5 372.30,514.9 372.55,514.4 372.80,515.2 373.05,516.4 373.30,516.9 373.55,515.4 373.80,515.3 374.05,516.5 374.30,516.7 374.55,516.8 374.80,517.5 375.05,516.0 375.30,516.5 375.55,518.1 375.80,517.7 376.05,516.7 376.30,515.9 376.55,516.3 376.80,515.7 377.05,517.6 377.30,517.1 377.55,513.9 377.80,514.7 378.05,514.7 378.30,514.3 378.55,516.0 378.80,515.7 379.05,516.1 379.30,515.2 379.55,515.6 379.80,517.9 380.05,518.0 380.30,517.1 380.55,515.8 380.80,514.7 381.05,516.8 381.30,517.6 381.55,515.3 381.80,515.1 382.05,515.7 382.30,515.8 382.55,515.0 382.80,516.6 383.05,515.8 383.30,515.2 383.55,517.5 383.80,516.5 384.05,515.4 384.30,516.5 384.55,515.6 384.80,513.1 385.05,515.3 385.30,517.5 385.55,516.5 385.80,515.5 386.05,515.7 386.30,517.5 386.55,517.0 386.80,516.7 387.05,516.5 387.30,515.0 387.55,516.6 387.80,515.6 388.05,516.4 388.30,515.6 388.55,514.1 388.80,514.4 389.05,514.3 389.30,515.1 389.55,515.7 389.80,515.8 390.05,516.0 390.30,517.6 390.55,517.6 390.80,517.4 391.05,518.2 391.30,517.5 391.55,516.1 391.80,516.6 392.05,516.6 392.30,515.9 392.55,515.8 392.80,515.0 393.05,516.2 393.30,515.6 393.55,514.8 393.80,514.5 394.05,515.7 394.30,514.5 394.55,516.6 394.80,518.4 395.05,517.8 395.30,517.4 395.55,517.1 395.80,518.2 396.05,517.1 396.30,514.5 396.55,515.3 396.80,515.9 397.05,515.8 397.30,515.8 397.55,516.5 397.80,515.4 398.05,514.8 398.30,516.2 398.55,517.2 398.80,515.8 399.05,514.9 399.30,514.9 399.55,516.9 399.80,516.6 400.05,517.7 400.30,517.0 400.55,514.4 400.80,513.6 401.05,513.6 401.30,516.1 401.55,516.1 401.80,513.9 402.05,514.3 402.30,517.4 402.55,518.5 402.80,517.7 403.05,517.0 403.30,517.4 403.55,515.9 403.80,515.9 404.05,516.5 404.30,515.6 404.55,514.7 404.80,516.8 405.05,516.0 405.30,514.6 405.55,514.6 405.80,516.4 406.05,515.7 406.30,515.7 406.55,515.8 406.80,516.2 407.05,517.7 407.30,517.5 407.55,517.2 407.80,514.4 408.05,513.9 408.30,514.9 408.55,515.6 408.80,516.2 409.05,515.9 409.30,516.2 409.55,516.9 409.80,514.5 410.05,515.0 410.30,517.2 410.55,516.5 410.80,516.3 411.05,517.7 411.30,517.3 411.55,515.4 411.80,516.2 412.05,516.3 412.30,515.7 412.55,515.8 412.80,516.8 413.05,517.0 413.30,517.2 413.55,516.8 413.80,515.2 414.05,515.6 414.30,515.4 414.55,515.1 414.80,514.9 415.05,514.1 415.30,515.4 415.55,516.1 415.80,516.8 416.05,517.1 416.30,515.4 416.55,515.8 416.80,518.0 416.8,523.3 416.3,522.9 415.8,523.2 415.3,523.2 414.8,523.0 414.3,523.0 413.8,523.4 413.3,523.1 412.8,523.0 412.3,523.4 411.8,523.3 411.3,523.0 410.8,523.0 410.3,523.3 409.8,522.7 409.3,522.8 408.8,523.1 408.3,523.2 407.8,522.9 407.3,523.3 406.8,522.9 406.3,523.5 405.8,523.5 405.3,523.2 404.8,523.5 404.3,523.4 403.8,522.7 403.3,523.1 402.8,522.9 402.3,523.3 401.8,523.3 401.3,522.6 400.8,522.9 400.3,523.0 399.8,523.2 399.3,523.5 398.8,522.8 398.3,522.9 397.8,523.5 397.3,522.9 396.8,522.7 396.3,523.3 395.8,523.2 395.3,522.8 394.8,523.2 394.3,523.4 393.8,523.2 393.3,523.4 392.8,523.5 392.3,523.3 391.8,523.2 391.3,523.3 390.8,523.4 390.3,523.0 389.8,522.7 389.3,523.3 388.8,522.9 388.3,522.7 387.8,523.0 387.3,522.9 386.8,522.9 386.3,523.0 385.8,522.9 385.3,522.9 384.8,523.5 384.3,522.7 383.8,523.1 383.3,522.8 382.8,523.4 382.3,523.3 381.8,523.0 381.3,523.4 380.8,523.1 380.3,522.7 379.8,523.2 379.3,523.2 378.8,523.3 378.3,522.8 377.8,523.5 377.3,523.0 376.8,523.1 376.3,523.0 375.8,523.5 375.3,522.9 374.8,523.3 374.3,523.5 373.8,523.1 373.3,523.1 372.8,522.8 372.3,523.2 371.8,523.2 371.3,523.3 370.8,523.4 370.3,523.5 369.8,523.2 369.3,523.3 368.8,523.3 368.3,522.8 367.8,523.0 367.3,522.9 366.8,523.3 366.3,523.5 365.8,522.8 365.3,523.4 364.8,523.3 364.3,523.1 363.8,522.8 363.3,523.1 362.8,523.5 362.3,523.0 361.8,523.1 361.3,523.4 360.8,523.2 360.3,523.2 359.8,522.8 359.3,523.4 358.8,523.1 358.3,523.2 357.8,522.7 357.3,523.0 356.8,522.9 356.3,523.1 355.8,522.9 355.3,523.1 354.8,522.9 354.3,523.2 353.8,522.9 353.3,522.9 352.8,522.7 352.3,523.3 351.8,523.0 351.3,522.7 350.8,522.7 350.3,523.4 349.8,522.9 349.3,523.1 348.8,523.1 348.3,523.4 347.8,523.1 347.3,523.0 346.8,522.7 346.3,522.9 345.8,523.4 345.3,523.5 344.8,522.8 344.3,522.8 343.8,523.2 343.3,523.5 342.8,522.7 342.3,523.4 341.8,522.7 341.3,522.8 340.8,522.9 340.3,523.5 339.8,523.0 339.3,523.4 338.8,522.7 338.3,523.3 337.8,523.0 337.3,523.5 336.8,523.4 336.3,523.0 335.8,523.1 335.3,523.5 334.8,522.7 334.3,522.8 333.8,522.7 333.3,523.4 332.8,522.7 332.3,523.2 331.8,523.3 331.3,523.4 330.8,523.2 330.3,523.4 329.8,523.5 329.3,523.1 328.8,523.5 328.3,523.0 327.8,523.2 327.3,523.2 326.8,523.4 326.3,523.3 325.8,523.4 325.3,522.8 324.8,523.1 324.3,523.4 323.8,523.2 323.3,523.5 322.8,522.7 322.3,523.1 321.8,523.5 321.3,523.2 320.8,522.9 320.3,523.5 319.8,523.3 319.3,523.1 318.8,522.7 318.3,523.2 317.8,523.0 317.3,523.3 316.8,523.2 316.3,523.3 315.8,523.1 315.3,522.8 314.8,522.7 314.3,522.8 313.8,523.5 313.3,523.0 312.8,523.3 312.3,523.2 311.8,523.5 311.3,522.9 310.8,523.1 310.3,523.5 309.8,523.5 309.3,522.9 308.8,522.8 308.3,522.9 307.8,523.4 307.3,523.0 306.8,522.9 306.3,523.3 305.8,523.4 305.3,522.9 304.8,522.8 304.3,523.3 303.8,523.0 303.3,523.4 302.8,522.7 302.3,523.1 301.8,523.2 301.3,523.2 300.8,523.4 300.3,523.1 299.8,522.6 299.3,523.0 298.8,523.2 298.3,523.3 297.8,523.4 297.3,523.1 296.8,522.8 296.3,522.7 295.8,523.5 295.3,523.0 294.8,522.6 294.3,522.8 293.8,523.0 293.3,523.2 292.8,522.7 292.3,523.1 291.8,523.2 291.3,523.5 290.8,522.8 290.3,523.2 289.8,523.0 289.3,523.3 288.8,523.0 288.3,523.2 287.8,523.3 287.3,523.1 286.8,522.9 286.3,523.3 285.8,522.8 285.3,523.4 284.8,522.9 284.3,523.0 283.8,522.8 283.3,523.2 282.8,523.1 282.3,523.2 281.8,523.0 281.3,523.3 280.8,523.4 280.3,522.7 279.8,522.9 279.3,522.9 278.8,522.7 278.3,523.3 277.8,522.7 277.3,523.1 276.8,523.5 276.3,523.4 275.8,523.3 275.3,523.2 274.8,522.8 274.3,523.4 273.8,523.3 273.3,523.3 272.8,522.8 272.3,523.4 272.1,522.7 271.9,523.2 271.8,523.1 271.6,523.0 271.3,522.9 271.1,523.4 270.9,523.0 270.8,523.1 270.6,523.1 270.3,523.4 270.2,522.9 269.9,523.5 269.8,523.5 269.5,523.0 269.3,523.0 269.2,522.8 269.0,523.5 268.8,523.3 268.6,523.4 268.3,523.2 268.1,523.4 268.0,523.3 267.8,522.9 267.6,522.8 267.4,523.3 267.3,523.5 267.1,523.1 266.9,522.6 266.8,523.0 266.6,523.0 266.3,523.1 266.1,523.5 266.0,523.2 265.8,522.7 265.6,523.1 265.4,523.1 265.2,523.0 265.1,523.5 264.9,522.8 264.8,522.9 264.6,522.9 264.3,523.4 264.1,523.1 264.0,523.0 263.8,523.4 263.6,522.9 263.3,522.6 263.2,522.8 263.1,522.7 262.9,522.7 262.7,522.8 262.6,523.4 262.3,523.0 262.1,523.2 262.0,523.4 261.8,523.3 261.6,523.4 261.3,522.7 261.2,523.5 261.1,522.7 260.8,523.0 260.7,522.9 260.6,523.2 260.3,523.1 260.1,523.0 259.9,523.1 259.8,522.9 259.6,523.2 259.3,523.1 259.1,522.7 258.9,522.7 258.8,523.4 258.6,522.8 258.4,523.4 258.2,523.2 257.9,523.1 257.8,523.1 257.6,522.8 257.3,522.7 257.2,522.6 257.0,523.2 256.8,523.3 256.6,523.2 256.4,523.0 256.2,523.0 256.0,523.3 255.8,523.3 255.7,523.0 255.4,522.7 255.3,523.1 255.1,522.8 254.9,523.3 254.8,523.0 254.6,523.0 254.4,522.7 254.2,523.5 254.0,522.7 253.8,523.2 253.6,522.9 253.4,522.8 253.2,523.0 253.1,523.5 252.9,523.0 252.8,523.4 252.6,523.2 252.4,523.2 252.1,522.6 252.0,523.0 251.8,523.0 251.6,522.9 251.4,523.2 251.2,523.3 251.1,523.0 250.9,522.9 250.7,522.8 250.6,522.6 250.4,523.1 250.1,522.7 250.0,522.8 249.8,523.4 249.6,523.1 249.3,523.5 249.2,523.3 249.1,522.6 248.8,523.2 248.7,522.7 248.6,522.8 248.3,522.7 248.1,522.7 247.9,523.4 247.8,523.1 247.6,523.0 247.3,523.5 247.2,523.0 247.1,523.3 246.8,523.2 246.7,523.1 246.6,523.4 246.3,523.5 246.1,523.2 245.9,522.8 245.8,522.8 245.6,523.5 245.2,523.5 245.0,523.5 244.8,523.4 244.6,523.2 244.4,523.5 244.1,522.8 243.8,523.1 243.7,523.4 243.5,523.3 243.3,523.0 243.1,523.2 242.9,523.3 242.8,522.9 242.6,522.6 242.4,522.8 242.3,523.3 242.0,522.7 241.8,523.3 241.7,523.0 241.5,523.0 241.3,522.8 241.1,523.3 240.9,522.9 240.8,522.9 240.6,523.1 240.4,523.0 240.3,523.2 240.0,523.4 239.8,523.2 239.6,522.7 239.5,522.8 239.2,522.8 239.1,522.9 238.9,523.5 238.7,523.4 238.6,523.0 238.4,523.0 238.2,523.1 238.0,523.1 237.8,523.0 237.6,523.2 237.5,522.9 237.2,523.0 237.1,523.2 236.8,523.1 236.7,523.5 236.6,522.8 236.4,522.8 236.2,522.9 236.0,522.9 235.8,523.2 235.6,522.8 235.4,523.4 235.2,522.9 235.1,523.4 234.8,523.1 234.7,522.8 234.6,522.6 234.3,522.7 234.2,522.7 233.9,522.7 233.8,523.1 233.6,522.9 233.4,523.1 233.2,523.2 233.0,523.0 232.8,523.0 232.6,523.1 232.4,523.0 232.3,523.0 232.1,522.9 231.8,522.7 231.7,523.4 231.4,523.1 231.2,523.2 231.0,522.7 230.8,523.1 230.7,523.5 230.5,523.2 230.3,523.4 230.1,523.1 229.8,522.9 229.7,523.3 229.5,523.2 229.3,522.9 229.1,523.1 228.9,522.8 228.8,523.3 228.6,523.1 228.4,522.9 228.3,523.0 228.1,522.8 227.8,523.5 227.6,523.4 227.5,523.5 227.3,523.0 227.1,523.3 226.9,523.0 226.7,523.0 226.6,522.7 226.4,522.9 226.3,523.4 226.1,522.7 225.8,523.4 225.6,523.1 225.5,523.0 225.3,523.5 225.1,523.1 224.8,522.7 224.7,522.8 224.6,523.3 224.4,523.3 224.2,523.1 224.1,522.7 223.8,522.8 223.6,523.4 223.5,522.7 223.3,523.5 223.1,523.4 222.8,523.2 222.7,523.5 222.6,523.3 222.3,522.9 222.2,523.4 222.1,523.3 221.8,523.4 221.6,522.9 221.4,523.1 221.3,523.3 221.1,523.0 220.8,522.6 220.6,522.9 220.4,522.7 220.3,523.2 220.1,523.4 219.8,522.6 219.7,523.4 219.4,522.7 219.3,522.8 219.0,523.3 218.8,522.9 218.7,523.5 218.5,522.7 218.3,523.1 218.1,522.7 217.8,523.5 217.7,523.3 217.5,522.7 217.3,523.4 217.1,522.9 216.9,523.1 216.8,523.4 216.6,522.8 216.4,523.5 216.3,522.6 216.1,523.4 215.8,522.7 215.6,523.0 215.5,523.0 215.3,522.6 215.1,523.1 214.9,523.4 214.7,523.2 214.6,522.9 214.4,523.5 214.3,523.5 214.1,522.9 213.8,523.5 213.6,523.0 213.5,523.0 213.3,523.1 213.1,523.3 212.8,523.5 212.7,522.9 212.6,522.7 212.4,522.9 212.2,523.4 212.1,523.4 211.8,523.3 211.6,523.0 211.5,523.0 211.3,522.7 211.1,523.4 210.8,522.9 210.7,523.3 210.6,523.1 210.3,523.4 210.2,522.9 210.1,523.1 209.8,523.1 209.6,523.1 209.4,523.1 209.3,522.8 209.1,523.2 208.8,523.3 208.6,522.9 208.4,523.2 208.3,523.3 208.1,523.2 207.9,523.0 207.7,522.9 207.4,523.4 207.3,522.7 207.1,523.4 206.8,523.1 206.7,522.8 206.5,523.2 206.3,522.9 206.1,522.7 205.9,523.1 205.7,523.0 205.5,522.8 205.3,522.8 205.2,523.1 204.9,522.9 204.8,523.4 204.6,523.1 204.4,523.0 204.3,523.4 204.1,523.2 203.9,523.1 203.7,522.9 203.5,522.7 203.3,522.6 203.1,522.9 202.9,522.9 202.7,523.4 202.6,522.8 202.4,523.2 202.3,523.3 202.1,523.3 201.9,522.8 201.6,523.0 201.5,523.1 201.3,523.5 201.1,523.2 200.9,522.9 200.7,523.5 200.6,522.7 200.4,523.3 200.2,523.0 200.1,523.1 199.9,523.4 199.6,523.4 199.5,522.6 199.3,522.9 199.1,523.2 198.8,523.5 198.7,523.1 198.6,522.9 198.3,523.0 198.2,523.1 198.1,523.3 197.8,523.2 197.6,523.3 197.4,523.1 197.3,523.0 197.1,523.2 196.8,522.7 196.7,522.8 196.6,523.5 196.3,522.7 196.2,523.2 196.1,522.7 195.8,523.0 195.6,522.9 195.4,523.3 195.3,523.4 195.1,522.9 194.7,523.2 194.5,522.7 194.3,523.1 194.1,522.7 193.9,522.8 193.6,523.1 193.3,523.0 193.2,523.0 193.0,523.3 192.8,523.4 192.6,523.3 192.4,523.2 192.3,522.7 192.1,522.8 191.9,522.7 191.8,522.9 191.5,523.5 191.3,522.9 191.2,523.1 191.0,523.4 190.8,522.8 190.6,523.3 190.4,522.8 190.3,523.5 190.1,523.5 189.9,523.3 189.8,523.3 189.5,522.7 189.3,523.2 189.1,523.0 189.0,522.7 188.7,523.3 188.6,523.2 188.4,523.1 188.2,523.5 188.1,523.2 187.9,523.5 187.7,522.8 187.5,522.8 187.3,522.8 187.1,522.9 187.0,522.7 186.7,523.1 186.6,523.0 186.3,522.7 186.2,523.1 186.1,523.0 185.9,523.4 185.7,523.0 185.5,523.3 185.3,523.5 185.1,523.4 184.9,523.5 184.7,523.0 184.6,523.5 184.3,523.5 184.2,522.8 184.1,523.3 183.8,523.2 183.7,522.7 183.4,522.7 183.3,522.7 183.1,523.1 182.9,523.1 182.7,523.5 182.5,522.9 182.3,523.1 182.1,523.4 181.9,523.2 181.8,523.2 181.6,522.7 181.3,523.2 181.2,523.0 180.9,522.7 180.7,523.1 180.5,522.8 180.3,522.9 180.2,523.4 180.0,522.9 179.8,523.3 179.6,523.5 179.3,523.2 179.2,522.7 179.0,522.8 178.8,523.1 178.6,522.9 178.4,523.3 178.3,523.2 178.1,523.0 177.9,523.3 177.8,522.8 177.6,523.1 177.3,523.1 177.1,523.5 177.0,522.8 176.8,522.6 176.6,522.9 176.4,523.2 176.2,522.7 176.1,523.3 175.9,523.1 175.8,523.4 175.6,523.2 175.3,522.9 175.1,523.1 175.0,523.2 174.8,522.9 174.6,523.1 174.3,523.4 174.2,523.0 174.1,522.9 173.9,523.5 173.7,523.2 173.6,523.0 173.3,523.4 173.1,522.8 173.0,522.6 172.8,523.3 172.6,522.9 172.3,523.0 172.2,522.7 172.1,523.3 171.8,522.8 171.7,522.9 171.6,522.9 171.3,522.9 171.1,522.9 170.9,523.3 170.8,523.2 170.6,522.7 170.3,523.3 170.1,523.4 169.9,522.7 169.8,522.8 169.6,522.7 169.3,522.9 169.2,522.7 168.9,523.1 168.8,523.4 168.5,523.0 168.3,523.5 168.2,523.0 168.0,522.9 167.8,522.7 167.6,523.5 167.3,523.1 167.1,522.9 166.6,522.9 166.1,523.1 165.6,523.3 165.1,522.9 164.6,523.0 164.1,523.4 163.6,522.9 163.1,522.9 162.6,522.7 162.1,522.9 161.6,523.2 161.1,522.8 160.6,523.5 160.1,523.5 159.6,523.1 159.1,523.2 158.6,523.5 158.1,523.5 157.6,523.1 157.1,523.3 156.6,522.7 156.1,522.9 155.6,523.4 155.1,523.2 154.6,523.3 154.1,522.8 153.6,522.8 153.1,523.5 152.6,523.3 152.1,523.3 151.6,523.5 151.1,523.2 150.6,523.1 150.1,523.1 149.6,523.2 149.1,523.4 148.6,523.3 148.1,523.2 147.6,523.4 147.1,523.0 146.6,523.2 146.1,522.8 145.6,522.7 145.1,523.5 144.6,523.5 144.1,522.8 143.6,522.8 143.1,523.0 142.6,522.9 142.1,522.8 141.6,522.9 141.1,522.7 140.6,522.8 140.1,523.2 139.6,522.8 139.1,523.3 138.6,522.8 138.1,523.1 137.6,522.7 137.1,523.0 136.6,523.0 136.1,523.0 135.6,523.5 135.1,523.1 134.6,523.2 134.1,522.6 133.6,522.8 133.1,523.3 132.6,522.6 132.1,523.3 131.6,523.4 131.1,523.4 130.6,522.9 130.1,523.4 129.6,522.9 129.1,523.3 128.6,523.0 128.1,522.7 127.5,522.7 127.0,522.7 126.5,523.4 126.0,522.8 125.5,523.4 125.0,523.1 124.5,522.9 124.0,522.7 123.5,523.4 123.0,522.7 122.5,522.8 122.0,522.9 121.5,523.3 121.0,523.3 120.5,523.3 120.0,522.9 119.5,523.1 119.0,522.7 118.5,522.8 118.0,522.6 117.5,523.5 117.0,523.5 116.5,523.0 116.0,523.5 115.5,522.8 115.0,523.1 114.5,523.1 114.0,522.6 113.5,522.8 113.0,523.4 112.5,523.4 112.0,522.7 111.5,523.2 111.0,522.9 110.5,523.0 110.0,522.7 109.5,523.4 109.0,523.4 108.5,523.0 108.0,523.0 107.5,522.8 107.0,523.3 106.5,523.3 106.0,522.7 105.5,523.2 105.0,523.1 104.5,523.2 104.0,523.4 103.5,523.2 103.0,522.8 102.5,522.9 102.0,523.2 101.5,523.0 101.0,522.8 100.5,523.2 100.0,523.4 99.5,522.8 99.0,522.7 98.5,522.8 98.0,522.8 97.5,523.5 97.0,523.1 96.5,522.8 96.0,522.7 95.5,523.5 95.0,523.0 94.5,522.8 94.0,523.4 93.5,523.4 93.0,523.2 92.5,523.2 92.0,523.5 91.5,523.2 91.0,522.8 90.5,522.7 90.0,523.1 89.5,523.3 89.0,523.4 88.5,523.2 88.0,522.9 87.5,523.5 87.0,522.7 86.5,523.5 86.0,523.0 85.5,523.4 85.0,523.5 84.5,522.7 84.0,523.4 83.5,522.8 83.0,522.9 82.5,523.2 82.0,523.2 81.5,523.3 81.0,523.3 80.5,522.9 80.0,523.3 79.5,523.0 79.0,523.0 78.5,522.6 78.0,523.5 77.5,523.1 77.0,523.1 76.5,522.8 76.0,523.4 75.5,522.9 75.0,522.7 74.5,522.7 74.0,523.3 73.5,522.8 73.0,523.1 72.5,523.2 72.0,523.4 71.5,523.5 71.0,522.7 70.5,523.5 70.0,523.0 69.5,523.4 69.0,522.6 68.5,522.7 68.0,522.9 67.5,523.2 67.0,523.0 66.5,523.3 66.0,522.8 65.5,522.8 65.0,523.4 64.5,522.8 64.0,523.4 63.5,523.2 63.0,522.8 62.5,523.4 62.0,523.4 61.5,523.0 61.0,523.2 60.5,523.2 60.0,522.9 59.5,523.3 59.0,523.1 58.5,523.0 58.0,522.7 57.5,522.6 57.0,522.7 56.5,523.4 56.0,522.7 55.5,523.1 55.0,523.5 54.5,523.0 54.0,522.8 53.5,523.5 53.0,522.7 52.5,523.0 52.0,523.4 51.5,523.0 51.0,523.0 50.5,523.1 50.0,523.1 49.5,523.5 49.0,523.0 48.5,523.1 48.0,522.7 47.5,523.0 47.0,522.8 46.5,523.0 46.0,522.8 45.5,523.0 45.0,523.1 44.5,523.1 44.0,522.7 43.5,523.2 43.0,523.1 42.5,523.1 42.0,523.4 41.5,523.0 41.0,522.6 40.5,522.8 40.0,523.0 39.5,522.7 39.0,523.2 38.5,522.9 38.0,522.8 37.5,522.8 37.0,523.3 36.5,522.9 36.0,522.9 35.5,522.7 35.0,523.3 34.5,523.2 34.0,523.5 33.5,522.7 33.0,523.1 32.5,523.0 32.0,523.3 31.6,523.3 31.1,522.8 30.6,523.3 30.1,523.3 29.6,523.5 29.1,522.8 28.6,523.4 28.1,522.6 27.6,523.4 27.1,523.0 26.6,523.1 26.1,523.4 25.6,523.2 25.1,523.2 24.6,523.2 24.1,523.0 23.6,523.4 23.1,522.9 22.6,523.4 22.1,523.5 21.6,522.6 21.1,523.0 20.6,523.4 20.1,523.0 19.6,523.2 19.1,523.5 18.6,522.8 18.1,523.3 17.6,523.4 17.1,522.8 16.6,522.8 16.1,523.5 15.6,523.5 15.1,523.3 14.6,523.0 14.1,522.8 13.6,523.0 13.1,523.3 12.6,522.9Z" fill="#07a35a" stroke="#07a35a" stroke-width="1.1"/>
<path d="M503.10,317.8 503.35,317.0 503.60,317.9 503.85,317.1 504.10,315.4 504.35,315.7 504.60,318.4 504.85,319.2 505.10,319.3 505.35,318.7 505.60,319.2 505.85,318.0 506.10,317.3 506.35,317.8 506.60,317.1 506.85,317.6 507.10,319.0 507.35,318.1 507.60,318.2 507.85,318.2 508.10,318.0 508.35,317.2 508.60,317.8 508.85,318.5 509.10,317.4 509.35,316.7 509.60,318.0 509.85,318.6 510.10,317.4 510.35,314.7 510.60,314.0 510.85,315.5 511.10,315.2 511.35,315.8 511.60,317.8 511.85,318.7 512.10,317.4 512.35,317.3 512.60,318.1 512.85,318.5 513.10,318.1 513.35,317.9 513.60,318.4 513.85,318.4 514.10,317.4 514.35,316.1 514.60,317.0 514.85,318.2 515.10,318.4 515.35,318.1 515.60,318.7 515.85,318.6 516.10,318.2 516.35,318.8 516.60,318.1 516.85,317.7 517.10,316.7 517.35,316.3 517.60,316.4 517.85,316.8 518.10,317.5 518.35,317.3 518.60,317.7 518.85,317.6 519.10,318.0 519.35,318.3 519.60,319.2 519.85,317.9 520.10,315.5 520.35,317.2 520.60,317.0 520.85,316.6 521.10,316.7 521.35,317.2 521.60,317.7 521.85,319.2 522.10,319.6 522.35,319.2 522.60,319.2 522.85,319.4 523.10,319.0 523.35,318.0 523.60,317.6 523.85,315.4 524.10,316.2 524.35,317.0 524.60,317.0 524.85,317.3 525.10,315.4 525.35,315.4 525.60,316.4 525.85,316.9 526.10,316.0 526.35,316.1 526.60,316.2 526.85,315.4 527.10,316.6 527.35,317.7 527.60,317.8 527.85,318.6 528.10,318.5 528.35,316.7 528.60,315.4 528.85,314.2 529.10,315.3 529.35,317.4 529.60,318.7 529.85,317.3 530.10,315.3 530.35,315.9 530.60,317.3 530.85,317.9 531.10,318.7 531.35,319.2 531.60,318.6 531.85,316.2 532.10,316.9 532.35,318.5 532.60,318.6 532.85,319.3 533.10,318.6 533.35,316.9 533.60,316.8 533.85,317.6 534.10,318.0 534.35,316.5 534.60,315.2 534.85,317.4 535.10,319.4 535.35,319.8 535.60,318.5 535.85,315.6 536.10,316.2 536.35,316.5 536.60,318.3 536.85,318.3 537.10,316.6 537.35,315.8 537.60,317.9 537.85,318.6 538.10,316.8 538.35,317.4 538.60,317.2 538.85,318.0 539.10,316.8 539.35,315.8 539.60,316.5 539.85,317.4 540.10,317.3 540.35,318.5 540.60,318.5 540.85,317.4 541.10,316.4 541.35,317.5 541.60,316.0 541.85,315.1 542.10,314.7 542.35,317.3 542.60,318.7 542.85,318.1 543.10,315.8 543.35,314.5 543.60,316.1 543.85,317.6 544.10,317.7 544.35,316.0 544.60,316.1 544.85,318.6 545.10,318.3 545.35,316.1 545.60,316.0 545.85,317.8 546.10,318.4 546.35,317.9 546.60,317.9 546.85,318.3 547.10,316.7 547.35,316.7 547.60,316.8 547.85,317.2 548.10,315.1 548.35,316.0 548.60,317.0 548.85,315.3 549.10,315.7 549.35,316.5 549.60,319.1 549.85,319.2 550.10,317.4 550.35,317.8 550.60,318.0 550.85,317.6 551.10,315.1 551.35,316.2 551.60,316.8 551.85,318.5 552.10,318.5 552.35,318.4 552.60,316.5 552.85,317.6 553.10,319.4 553.35,319.3 553.60,318.3 553.85,319.1 554.10,318.9 554.35,318.0 554.60,317.5 554.85,317.1 555.10,317.2 555.35,317.6 555.60,317.6 555.85,318.6 556.10,318.1 556.35,317.0 556.60,318.5 556.85,318.9 557.10,318.5 557.35,318.5 557.60,320.0 557.85,319.8 558.10,318.5 558.35,318.4 558.60,316.9 558.85,316.2 559.10,316.7 559.35,316.9 559.60,318.1 559.85,319.2 560.10,318.3 560.35,317.8 560.60,317.7 560.85,318.8 561.10,318.3 561.35,316.9 561.60,317.9 561.85,317.3 562.10,315.8 562.35,317.8 562.60,318.6 562.85,317.1 563.10,317.0 563.35,317.6 563.60,319.0 563.85,318.9 564.10,319.7 564.35,318.6 564.60,317.6 564.85,318.9 565.10,317.5 565.35,313.8 565.60,314.0 565.85,316.5 566.10,316.6 566.35,316.9 566.60,317.0 566.85,316.5 567.10,317.6 567.35,317.1 567.60,318.1 567.85,316.4 568.10,316.5 568.35,317.3 568.60,317.1 568.85,317.1 569.10,317.0 569.35,318.4 569.60,317.4 569.85,315.4 570.10,315.4 570.35,317.9 570.60,317.9 570.85,316.2 571.10,317.9 571.35,318.8 571.60,317.4 571.85,317.3 572.10,316.8 572.35,317.3 572.60,317.6 572.85,317.9 573.10,317.6 573.35,315.9 573.60,316.1 573.85,315.8 574.10,315.8 574.35,317.1 574.60,315.5 574.85,315.5 575.10,317.0 575.35,317.7 575.60,318.3 575.85,317.3 576.10,318.1 576.35,318.1 576.60,319.0 576.85,319.1 577.10,317.6 577.35,317.2 577.60,316.6 577.85,315.4 578.10,314.8 578.35,317.7 578.60,317.5 578.85,317.0 579.10,316.9 579.35,317.2 579.60,316.8 579.85,316.1 580.10,317.1 580.35,317.3 580.60,317.3 580.85,318.6 581.10,318.5 581.35,319.1 581.60,319.6 581.85,320.0 582.10,319.3 582.35,318.6 582.60,317.7 582.85,316.9 583.10,316.3 583.35,316.6 583.60,316.0 583.85,317.0 584.10,316.7 584.35,317.0 584.60,317.3 584.85,317.4 585.10,315.4 585.35,316.3 585.60,318.2 585.85,316.5 586.10,314.3 586.35,318.0 586.60,318.3 586.85,317.4 587.10,318.5 587.35,317.1 587.60,316.8 587.85,316.6 588.10,316.4 588.35,315.6 588.60,317.2 588.85,317.9 589.10,318.8 589.35,317.9 589.60,316.7 589.85,314.0 590.10,314.8 590.35,318.4 590.60,319.8 590.85,319.5 591.10,318.5 591.35,317.0 591.60,317.1 591.85,317.4 592.10,318.2 592.35,319.5 592.60,317.0 592.85,312.9 593.10,314.9 593.35,317.2 593.60,317.7 593.85,316.0 594.10,317.0 594.35,317.5 594.60,318.4 594.85,318.4 595.10,318.2 595.35,318.5 595.60,319.1 595.85,317.9 596.10,318.2 596.35,317.4 596.60,316.8 596.85,317.0 597.10,318.1 597.35,318.0 597.60,317.0 597.85,317.9 598.10,318.1 598.35,316.7 598.60,318.2 598.85,316.7 599.10,317.7 599.35,317.1 599.60,315.0 599.85,316.6 600.10,317.0 600.35,316.9 600.60,315.6 600.85,316.2 601.10,317.8 601.35,318.9 601.60,318.3 601.85,317.9 602.10,318.1 602.35,317.9 602.60,318.3 602.85,317.8 603.10,317.3 603.35,316.7 603.60,316.3 603.85,316.6 604.10,317.5 604.35,317.2 604.60,316.2 604.85,317.2 605.10,315.7 605.35,313.2 605.60,314.4 605.85,316.9 606.10,317.9 606.35,317.1 606.60,316.8 606.85,317.4 607.10,318.0 607.35,318.2 607.60,319.1 607.85,318.9 608.10,318.6 608.35,316.6 608.60,315.4 608.85,318.3 609.10,319.2 609.35,317.4 609.60,317.7 609.85,318.1 610.10,319.2 610.35,318.7 610.60,317.1 610.85,316.5 611.10,315.3 611.35,314.8 611.60,317.0 611.85,317.3 612.10,317.5 612.35,317.6 612.60,316.9 612.85,314.8 613.10,316.6 613.35,318.2 613.60,316.4 613.85,314.3 614.10,315.0 614.35,317.4 614.60,318.8 614.85,316.4 615.10,315.0 615.35,316.2 615.60,317.6 615.85,317.6 616.10,317.2 616.35,318.1 616.60,316.9 616.85,317.6 617.10,318.5 617.35,316.9 617.60,317.8 617.85,319.1 618.10,318.4 618.35,316.8 618.60,317.7 618.85,316.5 619.10,316.5 619.35,318.5 619.60,317.8 619.85,316.6 620.10,316.7 620.35,316.2 620.60,317.2 620.85,317.5 621.10,317.8 621.35,316.1 621.60,315.8 621.85,317.1 622.10,318.1 622.35,318.0 622.60,317.7 622.85,318.5 623.10,318.0 623.35,318.2 623.60,318.3 623.85,317.8 624.10,316.8 624.35,318.3 624.60,318.9 624.85,319.3 625.10,319.6 625.35,317.9 625.60,315.7 625.85,315.4 626.10,317.1 626.35,317.3 626.60,316.1 626.85,316.9 627.10,317.2 627.35,317.4 627.60,318.3 627.85,317.1 628.10,318.3 628.35,317.2 628.60,315.5 628.85,316.9 629.10,317.7 629.35,316.4 629.60,315.5 629.85,317.1 630.10,318.3 630.35,317.1 630.60,318.5 630.85,317.0 631.10,316.0 631.35,317.9 631.60,317.5 631.85,317.1 632.10,318.5 632.35,319.0 632.60,319.5 632.85,319.4 633.10,319.2 633.35,318.2 633.60,316.7 633.85,316.3 634.10,316.3 634.35,316.4 634.60,316.7 634.85,318.2 635.10,318.2 635.35,319.1 635.60,317.7 635.85,316.3 636.10,317.4 636.35,318.3 636.60,318.4 636.85,317.4 637.10,315.0 637.35,314.0 637.60,314.8 637.85,313.9 638.10,315.8 638.35,317.9 638.60,317.7 638.85,316.6 639.10,316.4 639.35,316.7 639.60,317.7 639.85,317.8 640.10,315.8 640.35,316.6 640.60,315.4 640.85,316.8 641.10,315.2 641.35,316.6 641.60,317.1 641.85,319.0 642.10,318.5 642.35,318.1 642.60,317.0 642.85,316.8 643.10,317.2 643.35,316.0 643.60,315.0 643.85,317.8 644.10,317.6 644.35,316.8 644.60,317.1 644.85,317.6 645.10,316.5 645.35,317.3 645.60,316.5 645.85,317.5 646.10,318.2 646.35,317.1 646.60,318.1 646.85,316.8 647.10,316.4 647.35,315.6 647.60,316.0 647.85,317.8 648.10,318.9 648.35,319.2 648.60,319.5 648.85,318.1 649.10,318.9 649.35,319.1 649.60,318.6 649.85,317.8 650.10,317.1 650.35,317.5 650.60,318.0 650.85,318.9 651.10,318.7 651.23,318.2 651.35,317.6 651.48,318.8 651.60,317.5 651.62,316.8 651.74,315.7 651.85,312.5 651.86,312.2 651.98,310.4 652.10,312.1 652.22,315.6 652.34,314.8 652.35,315.1 652.48,315.4 652.60,316.4 652.73,317.0 652.85,315.6 652.87,317.2 652.99,318.2 653.10,317.3 653.11,317.6 653.25,316.3 653.35,316.5 653.50,317.9 653.60,317.6 653.64,316.7 653.76,313.0 653.85,309.4 653.88,308.5 654.00,306.2 654.10,307.5 654.12,308.2 654.24,312.9 654.35,316.8 654.36,317.9 654.50,318.7 654.60,317.5 654.75,317.7 654.85,317.8 654.89,318.9 655.01,319.0 655.10,317.9 655.13,317.4 655.27,318.2 655.35,316.5 655.52,315.7 655.60,315.9 655.66,312.9 655.78,304.6 655.85,299.1 655.90,295.4 656.02,291.3 656.10,292.9 656.14,294.9 656.26,304.2 656.35,310.7 656.38,312.8 656.52,318.4 656.60,317.5 656.77,317.7 656.85,318.0 656.91,316.5 657.03,314.0 657.10,315.8 657.15,317.2 657.29,316.1 657.35,317.9 657.54,317.0 657.60,314.1 657.68,308.5 657.80,297.6 657.85,291.9 657.92,285.0 658.04,279.7 658.10,280.8 658.16,284.5 658.28,297.0 658.35,304.7 658.40,308.7 658.54,316.4 658.60,316.3 658.79,317.3 658.85,318.5 658.93,317.1 659.05,317.1 659.10,317.4 659.17,317.2 659.31,318.0 659.35,318.5 659.56,314.5 659.60,312.5 659.70,303.6 659.82,286.1 659.85,280.5 659.94,266.5 660.06,258.5 660.10,259.4 660.18,267.0 660.30,285.8 660.35,293.8 660.42,303.3 660.56,314.6 660.60,316.5 660.81,318.9 660.85,317.5 660.95,318.0 661.07,318.3 661.10,319.0 661.19,319.1 661.33,317.6 661.35,316.9 661.58,313.6 661.60,313.0 661.72,301.8 661.84,283.9 661.85,282.3 661.96,264.5 662.08,257.2 662.10,257.4 662.20,263.8 662.32,282.7 662.35,287.9 662.44,300.9 662.58,312.9 662.60,314.3 662.83,317.5 662.85,318.4 662.97,318.0 663.09,317.0 663.10,317.5 663.21,318.5 663.35,317.8 663.60,310.8 663.74,296.7 663.85,277.8 663.86,276.0 663.98,255.6 664.10,245.7 664.22,255.6 664.34,276.3 664.35,277.7 664.46,296.3 664.60,310.8 664.85,317.6 664.99,317.3 665.10,318.0 665.11,317.4 665.23,318.1 665.35,318.9 665.37,318.0 665.60,312.5 665.62,310.7 665.76,292.8 665.85,272.9 665.88,265.1 666.00,237.1 666.10,224.2 666.12,223.8 666.24,237.2 666.35,262.7 666.36,265.1 666.48,293.1 666.60,309.8 666.62,311.8 666.85,316.5 666.87,315.0 667.01,316.9 667.10,317.9 667.13,316.0 667.25,316.9 667.35,318.0 667.39,316.9 667.60,312.7 667.64,310.2 667.78,289.1 667.85,271.4 667.90,256.6 668.02,224.7 668.10,211.3 668.14,209.5 668.26,224.7 668.35,249.7 668.38,256.6 668.50,288.7 668.60,305.5 668.64,309.8 668.85,316.5 668.89,317.6 669.03,318.8 669.10,316.7 669.15,316.4 669.27,317.3 669.35,318.5 669.41,317.5 669.60,313.4 669.66,309.2 669.80,289.3 669.85,277.8 669.92,258.6 670.04,227.0 670.10,216.2 670.16,212.3 670.28,226.9 670.35,245.2 670.40,257.3 670.52,288.1 670.60,301.6 670.66,308.7 670.85,316.3 670.91,315.8 671.05,317.1 671.10,316.3 671.17,314.8 671.29,316.0 671.35,316.1 671.43,315.7 671.60,311.4 671.68,305.6 671.82,282.2 671.85,274.5 671.94,248.8 672.06,211.6 672.10,202.7 672.18,195.0 672.30,211.5 672.35,225.9 672.42,248.8 672.54,281.9 672.60,293.9 672.68,304.9 672.85,313.9 672.93,315.1 673.07,316.2 673.10,316.2 673.19,316.6 673.31,316.5 673.35,316.6 673.45,315.9 673.60,312.9 673.70,305.7 673.84,282.0 673.85,279.2 673.96,246.8 674.08,207.3 674.10,202.2 674.20,189.7 674.32,207.3 674.35,216.2 674.44,247.0 674.56,282.1 674.60,291.2 674.70,306.0 674.85,315.0 674.95,317.0 675.09,317.5 675.10,317.0 675.21,317.1 675.33,317.1 675.35,317.3 675.47,316.9 675.60,314.3 675.72,307.6 675.85,288.7 675.86,286.6 675.98,256.1 676.10,221.8 676.22,206.5 676.34,221.7 676.35,224.2 676.46,256.1 676.58,285.7 676.60,290.1 676.72,307.0 676.85,314.4 676.97,316.3 677.10,316.2 677.11,316.7 677.23,317.0 677.35,316.8 677.49,316.0 677.60,314.6 677.74,308.2 677.85,294.8 677.88,289.2 678.00,261.2 678.10,237.3 678.12,232.9 678.24,219.6 678.35,230.9 678.36,232.9 678.48,261.3 678.60,289.3 678.74,307.6 678.85,313.4 678.99,315.3 679.10,315.1 679.13,315.4 679.25,315.6 679.35,316.9 679.37,317.1 679.51,315.8 679.60,313.7 679.76,308.5 679.85,298.9 679.90,290.1 680.02,262.3 680.10,244.5 680.14,235.6 680.26,222.6 680.35,230.2 680.38,235.7 680.50,262.1 680.60,285.7 680.62,290.3 680.76,308.9 680.85,314.0 681.01,317.1 681.10,317.6 681.15,316.1 681.27,316.8 681.35,318.0 681.39,318.1 681.53,317.8 681.60,317.1 681.78,310.6 681.85,304.4 681.92,294.4 682.04,269.3 682.10,257.3 682.16,244.8 682.28,233.0 682.35,237.2 682.40,244.8 682.52,269.3 682.60,287.2 682.64,294.3 682.78,310.6 682.85,314.3 683.03,317.2 683.10,317.1 683.17,317.6 683.29,317.6 683.35,317.6 683.41,317.4 683.55,316.2 683.60,315.2 683.80,309.2 683.85,304.9 683.94,293.0 684.06,268.9 684.10,260.1 684.18,245.4 684.30,234.1 684.35,236.2 684.42,245.4 684.54,268.7 684.60,282.2 684.66,293.4 684.80,309.3 684.85,312.0 685.05,316.6 685.10,316.6 685.19,316.2 685.31,317.4 685.35,317.8 685.43,317.8 685.57,317.3 685.60,317.0 685.82,311.2 685.85,308.7 685.96,295.6 686.08,272.7 686.10,268.2 686.20,250.7 686.32,239.9 686.35,240.6 686.44,250.8 686.56,273.5 686.60,282.2 686.68,296.5 686.82,311.8 686.85,313.5 687.07,316.0 687.10,315.9 687.21,314.5 687.33,317.5 687.35,318.6 687.45,316.5 687.59,316.9 687.60,315.9 687.84,313.3 687.85,312.8 687.98,300.1 688.10,278.9 688.22,255.8 688.34,248.0 688.35,248.1 688.46,255.5 688.58,278.0 688.60,281.9 688.70,299.8 688.84,313.8 688.85,314.2 689.09,317.6 689.10,318.3 689.23,319.5 689.35,319.3 689.47,318.7 689.60,318.2 689.61,318.0 689.85,312.2 689.86,311.4 690.00,297.6 690.10,280.9 690.12,276.8 690.24,257.3 690.35,247.6 690.36,247.5 690.48,257.2 690.60,276.8 690.72,297.7 690.85,310.9 690.86,311.7 691.10,317.6 691.11,317.7 691.25,318.0 691.35,318.0 691.37,317.1 691.49,316.6 691.60,317.3 691.63,317.2 691.85,312.8 691.88,310.6 692.02,297.4 692.10,285.7 692.14,278.7 692.26,258.4 692.35,251.8 692.38,251.2 692.50,257.9 692.60,275.1 692.62,278.7 692.74,298.6 692.85,310.1 692.88,311.9 693.10,316.8 693.13,315.5 693.27,316.6 693.35,317.6 693.39,317.0 693.51,316.1 693.60,314.7 693.65,316.9 693.85,315.1 693.90,311.8 694.04,297.6 694.10,287.2 694.16,274.3 694.28,252.6 694.35,243.9 694.40,241.9 694.52,252.7 694.60,266.5 694.64,274.9 694.76,297.8 694.85,309.1 694.90,312.9 695.10,318.3 695.15,316.4 695.29,317.9 695.35,318.3 695.41,317.5 695.53,317.6 695.60,316.4 695.67,316.5 695.85,315.0 695.92,311.7 696.06,296.8 696.10,289.9 696.18,273.8 696.30,251.4 696.35,244.4 696.42,240.6 696.54,251.4 696.60,260.9 696.66,274.1 696.78,297.0 696.85,306.0 696.92,312.0 697.10,316.6 697.17,316.1 697.31,316.4 697.35,316.3 697.43,315.7 697.55,317.0 697.60,318.3 697.69,318.9 697.85,317.9 697.94,314.2 698.08,301.2 698.10,298.6 698.20,282.0 698.32,260.8 698.35,256.8 698.44,253.5 698.56,261.0 698.60,267.6 698.68,282.1 698.80,302.0 698.85,307.6 698.94,314.1 699.10,316.9 699.19,317.1 699.33,315.7 699.35,315.9 699.45,315.5 699.57,316.7 699.60,316.9 699.71,317.4 699.85,318.1 699.96,314.1 700.10,300.9 700.22,280.3 700.34,258.1 700.35,257.0 700.46,251.2 700.58,258.3 700.60,261.8 700.70,280.0 700.82,300.0 700.85,303.9 700.96,312.9 701.10,316.1 701.21,316.7 701.35,316.4 701.47,316.1 701.59,317.1 701.60,316.4 701.73,316.6 701.85,315.5 701.98,311.4 702.10,301.1 702.12,298.2 702.24,279.5 702.35,260.9 702.36,259.3 702.48,252.1 702.60,258.7 702.72,279.6 702.84,298.8 702.85,300.2 702.98,311.9 703.10,315.9 703.23,317.1 703.35,316.9 703.37,315.8 703.49,317.8 703.60,317.7 703.61,318.0 703.75,317.8 703.85,317.4 704.00,312.5 704.10,304.2 704.14,299.9 704.26,279.8 704.35,263.0 704.38,258.5 704.50,250.9 704.60,255.3 704.62,258.6 704.74,279.8 704.85,298.2 704.86,299.8 705.00,313.1 705.10,316.2 705.25,318.9 705.35,319.5 705.39,318.3 705.51,319.0 705.60,318.1 705.63,316.6 705.77,316.9 705.85,316.6 706.02,312.3 706.10,306.1 706.16,297.9 706.28,276.8 706.35,263.1 706.40,256.3 706.52,246.1 706.60,250.8 706.64,256.3 706.76,277.2 706.85,293.9 706.88,298.1 707.02,312.2 707.10,316.4 707.27,318.5 707.35,316.9 707.41,314.4 707.53,317.0 707.60,318.0 707.65,318.4 707.79,317.1 707.85,315.4 708.04,313.1 708.10,308.8 708.18,298.6 708.30,276.2 708.35,266.1 708.42,254.7 708.54,244.2 708.60,247.0 708.66,254.7 708.78,276.9 708.85,290.4 708.90,298.8 709.04,313.2 709.10,316.2 709.29,318.6 709.35,318.3 709.43,318.2 709.55,318.0 709.60,317.2 709.67,313.5 709.81,314.8 709.85,316.6 710.06,313.1 710.10,309.5 710.20,297.5 710.32,275.6 710.35,269.3 710.44,253.0 710.56,242.2 710.60,243.5 710.68,253.0 710.80,275.3 710.85,285.9 710.92,298.0 711.06,312.9 711.10,315.3 711.31,317.6 711.35,317.8 711.45,317.8 711.57,318.1 711.60,318.1 711.69,315.9 711.83,316.6 711.85,316.9 712.08,313.7 712.10,312.3 712.22,299.4 712.34,276.9 712.35,274.6 712.46,255.7 712.58,245.2 712.60,245.5 712.70,255.7 712.82,277.4 712.85,283.7 712.94,299.0 713.08,313.2 713.10,314.9 713.33,317.4 713.35,318.4 713.47,317.7 713.59,318.4 713.60,319.5 713.71,318.6 713.85,318.1 714.10,313.8 714.24,298.4 714.35,277.8 714.36,275.5 714.48,253.1 714.60,242.2 714.72,253.0 714.84,275.1 714.85,277.2 714.96,298.0 715.10,312.8 715.35,316.3 715.49,317.2 715.60,315.3 715.61,317.5 715.73,318.4 715.85,317.3 715.87,317.2 716.10,311.1 716.12,309.8 716.26,294.2 716.35,276.7 716.38,269.8 716.50,245.6 716.60,234.5 716.62,234.1 716.74,245.5 716.85,267.3 716.86,269.1 716.98,293.4 717.10,308.1 717.12,309.5 717.35,316.0 717.37,316.4 717.51,317.4 717.60,317.1 717.63,314.7 717.75,317.1 717.85,317.2 717.89,317.1 718.10,312.1 718.14,309.4 718.28,291.3 718.35,276.1 718.40,263.7 718.52,237.9 718.60,226.8 718.64,225.3 718.76,238.0 718.85,257.0 718.88,264.7 719.00,291.5 719.10,305.8 719.14,309.4 719.35,316.8 719.39,317.1 719.53,318.1 719.60,318.3 719.65,317.3 719.77,316.6 719.85,316.8 719.91,315.4 720.10,314.0 720.16,310.3 720.30,290.6 720.35,278.9 720.42,260.5 720.54,230.4 720.60,219.9 720.66,216.1 720.78,230.4 720.85,248.4 720.90,260.5 721.02,290.7 721.10,304.2 721.16,310.4 721.35,318.0 721.41,318.8 721.55,319.1 721.60,318.2 721.67,316.1 721.79,317.2 721.85,317.7 721.93,316.5 722.10,314.5 722.18,309.5 722.32,289.0 722.35,282.3 722.44,257.5 722.56,225.2 722.60,217.1 722.68,210.1 722.80,225.0 722.85,238.0 722.92,257.1 723.04,288.5 723.10,299.4 723.18,309.0 723.35,315.9 723.43,315.4 723.57,316.9 723.60,316.9 723.69,315.5 723.81,316.5 723.85,316.4 723.95,315.1 724.10,311.9 724.20,306.5 724.34,287.6 724.35,285.3 724.46,258.5 724.58,230.0 724.60,226.0 724.70,216.4 724.82,229.8 724.85,236.6 724.94,257.4 725.06,286.6 725.10,293.7 725.20,305.3 725.35,312.5 725.45,314.6 725.59,315.3 725.60,315.1 725.71,315.5 725.83,315.2 725.85,314.6 725.97,314.5 726.10,312.7 726.22,306.8 726.35,289.7 726.36,287.2 726.48,258.7 726.60,230.6 726.72,217.1 726.84,230.7 726.85,232.8 726.96,259.0 727.08,288.2 727.10,291.8 727.22,306.7 727.35,313.5 727.47,315.7 727.60,316.7 727.61,316.8 727.73,317.1 727.85,317.0 727.99,316.7 728.10,315.5 728.24,308.6 728.35,294.9 728.38,289.1 728.50,258.2 728.60,232.7 728.62,228.0 728.74,213.6 728.85,225.8 728.86,228.0 728.98,257.9 729.10,288.8 729.24,308.4 729.35,314.4 729.49,316.5 729.60,316.2 729.63,316.7 729.75,316.9 729.85,316.4 729.87,316.1 730.01,315.3 730.10,314.1 730.26,306.8 730.35,296.6 730.40,287.7 730.52,258.9 730.60,241.3 730.64,232.3 730.76,219.2 730.85,226.8 730.88,232.3 731.00,259.6 731.10,283.9 731.12,287.8 731.26,306.3 731.35,311.5 731.51,314.2 731.60,315.1 731.65,315.6 731.77,316.1 731.85,315.8 731.89,315.6 732.03,314.9 732.10,314.4 732.28,306.3 732.35,298.5 732.42,285.9 732.54,257.4 732.60,240.0 732.66,224.6 732.78,210.1 732.85,215.3 732.90,224.7 733.02,256.0 733.10,277.3 733.14,286.4 733.28,307.1 733.35,311.7 733.53,315.6 733.60,316.5 733.67,316.9 733.79,316.7 733.85,317.0 733.91,317.0 734.05,316.5 734.10,316.1 734.30,308.5 734.35,303.4 734.44,288.7 734.56,258.7 734.60,249.1 734.68,228.5 734.80,214.3 734.85,217.0 734.92,228.6 735.04,258.5 735.10,275.0 735.16,288.7 735.30,308.6 735.35,312.6 735.55,317.2 735.60,316.5 735.69,317.2 735.81,315.8 735.85,316.7 735.93,316.3 736.07,314.3 736.10,316.6 736.32,310.7 736.35,308.5 736.46,293.3 736.58,266.1 736.60,260.8 736.70,238.3 736.82,225.3 736.85,226.2 736.94,238.4 737.06,266.3 737.10,275.8 737.18,292.6 737.32,310.6 737.35,312.9 737.57,316.2 737.60,317.6 737.71,318.5 737.83,316.0 737.85,316.7 737.95,318.1 738.09,319.5 738.10,319.2 738.34,312.8 738.35,311.5 738.48,296.6 738.60,272.4 738.72,248.5 738.84,236.9 738.85,237.0 738.96,248.5 739.08,272.7 739.10,277.3 739.20,296.8 739.34,312.9 739.35,313.4 739.59,315.7 739.60,317.2 739.73,317.2 739.85,316.9 739.97,317.7 740.10,318.2 740.11,317.3 740.35,313.5 740.36,313.1 740.50,298.8 740.60,281.2 740.62,276.9 740.74,255.6 740.85,245.3 740.86,245.2 740.98,255.6 741.10,276.8 741.22,298.8 741.35,312.5 741.36,313.4 741.60,319.1 741.61,319.7 741.75,319.8 741.85,319.0 741.87,319.3 741.99,318.1 742.10,316.0 742.13,316.5 742.35,315.5 742.38,314.4 742.52,300.3 742.60,286.0 742.64,278.7 742.76,256.4 742.85,249.1 742.88,248.4 743.00,256.2 743.10,274.9 743.12,279.0 743.24,299.9 743.35,311.2 743.38,312.9 743.60,317.2 743.63,317.8 743.77,316.1 743.85,317.2 743.89,317.3 744.01,317.9 744.10,317.6 744.15,318.4 744.35,316.1 744.40,313.7 744.54,299.6 744.60,289.8 744.66,278.5 744.78,256.2 744.85,249.9 744.90,248.1 745.02,256.0 745.10,270.2 745.14,278.3 745.26,299.4 745.35,309.9 745.40,313.6 745.60,318.8 745.65,318.3 745.79,318.9 745.85,318.3 745.91,317.7 746.03,317.2 746.10,316.7 746.17,317.5 746.35,316.9 746.42,314.2 746.56,302.4 746.60,297.1 746.68,284.8 746.80,265.9 746.85,260.1 746.92,257.1 747.04,265.5 747.10,274.8 747.16,284.7 747.28,302.4 747.35,309.7 747.42,314.3 747.60,317.0 747.67,318.4 747.81,317.1 747.85,317.0 747.93,316.8 748.05,319.1 748.10,319.6 748.19,318.2 748.35,317.1 748.44,314.1 748.58,302.2 748.60,299.4 748.70,283.8 748.82,264.4 748.85,260.8 748.94,257.2 749.06,263.8 749.10,270.0 749.18,283.8 749.30,302.2 749.35,307.0 749.44,313.8 749.60,318.2 749.69,318.1 749.83,316.5 749.85,318.0 749.95,318.8 750.07,318.0 750.10,318.9 750.21,319.1 750.35,316.7 750.46,315.1 750.60,305.6 750.72,290.1 750.84,273.7 750.85,272.6 750.96,266.8 751.08,274.2 751.10,276.4 751.20,290.6 751.32,305.9 751.35,308.7 751.46,315.4 751.60,317.5 751.71,318.0 751.85,316.4 751.97,318.2 752.09,319.3 752.10,317.9 752.23,317.0 752.35,317.0 752.48,315.4 752.60,308.4 752.62,306.5 752.74,293.6 752.85,280.9 752.86,279.6 752.98,273.9 753.10,280.0 753.22,293.4 753.34,306.1 753.35,307.6 753.48,315.6 753.60,316.9 753.73,316.4 753.85,317.7 753.87,317.4 753.99,316.7 754.10,316.6 754.11,316.2 754.25,317.5 754.35,317.0 754.50,315.8 754.60,309.9 754.64,305.9 754.76,291.8 754.85,279.8 754.88,276.6 755.00,270.1 755.10,275.1 755.12,277.1 755.24,292.1 755.35,305.4 755.36,306.3 755.50,315.3 755.60,315.4 755.75,317.2 755.85,318.8 755.89,318.4 756.01,318.4 756.10,318.4 756.13,318.1 756.27,317.8 756.35,316.7 756.52,315.0 756.60,310.6 756.66,305.9 756.78,292.1 756.85,283.9 756.90,278.5 757.02,272.4 757.10,275.2 757.14,278.2 757.26,292.7 757.35,303.5 757.38,306.5 757.52,315.0 757.60,317.1 757.77,319.0 757.85,318.4 757.91,318.1 758.03,319.4 758.10,319.1 758.15,317.0 758.29,315.9 758.35,317.9 758.54,317.0 758.60,313.9 758.68,307.8 758.80,294.6 758.85,288.4 758.92,280.7 759.04,274.7 759.10,276.8 759.16,280.9 759.28,294.5 759.35,303.2 759.40,308.3 759.54,316.0 759.60,316.1 759.79,317.6 759.85,319.3 759.93,318.4 760.05,317.6 760.10,316.1 760.17,315.0 760.31,316.8 760.35,317.6 760.56,317.1 760.60,315.5 760.70,308.9 760.82,296.7 760.85,292.9 760.94,282.8 761.06,277.1 761.10,278.0 761.18,283.5 761.30,296.9 761.35,302.5 761.42,308.7 761.56,316.5 761.60,316.5 761.81,316.6 761.85,317.4 761.95,318.6 762.07,318.2 762.10,318.7 762.19,319.5 762.33,317.5 762.35,314.8 762.58,314.9 762.60,317.2 762.72,311.3 762.84,301.9 762.85,301.0 762.96,291.4 763.08,286.8 763.10,287.0 763.20,291.5 763.32,301.9 763.35,304.1 763.44,311.0 763.58,317.4 763.60,318.8 763.83,319.1 763.85,318.1 763.97,315.1 764.09,316.9 764.10,318.4 764.21,317.9 764.35,318.0 764.60,317.4 764.74,312.9 764.85,304.6 764.86,303.6 764.98,294.2 765.10,290.1 765.22,294.3 765.34,303.9 765.35,304.9 765.46,312.7 765.60,316.9 765.85,318.1 765.99,316.7 766.10,316.3 766.11,316.9 766.23,317.4 766.35,317.9 766.37,319.2 766.60,319.1 766.62,317.0 766.76,314.0 766.85,308.7 766.88,306.5 767.00,298.5 767.10,295.4 767.12,295.6 767.24,299.1 767.35,306.1 767.36,306.4 767.48,314.0 767.60,318.5 767.62,316.0 767.85,313.3 767.87,314.3 768.01,316.2 768.10,315.8 768.13,313.8 768.25,315.5 768.35,317.1 768.39,315.5 768.60,315.1 768.64,317.1 768.78,316.7 768.85,313.7 768.90,311.2 769.02,305.0 769.10,302.8 769.14,302.4 769.26,305.2 769.35,309.6 769.38,310.6 769.50,314.5 769.60,316.4 769.64,316.1 769.85,317.9 769.89,318.2 770.03,317.9 770.10,317.4 770.15,318.0 770.27,318.2 770.35,317.3 770.41,317.2 770.60,316.9 770.66,317.3 770.80,314.3 770.85,311.4 770.92,306.5 771.04,298.8 771.10,296.6 771.16,295.8 771.28,299.3 771.35,303.0 771.40,306.1 771.52,313.8 771.60,316.0 771.66,318.1 771.85,318.6 771.91,319.2 772.05,319.4 772.10,318.3 772.17,317.1 772.29,315.9 772.35,316.0 772.43,317.3 772.60,315.7 772.68,315.2 772.82,316.3 772.85,315.7 772.94,314.4 773.06,311.0 773.10,310.5 773.18,309.7 773.30,311.1 773.35,312.6 773.42,315.2 773.54,317.9 773.60,316.6 773.68,316.1 773.85,315.7 773.93,316.4 774.07,316.9 774.10,317.5 774.19,317.7 774.31,317.1 774.35,317.3 774.60,318.3 774.85,318.6 775.10,318.7 775.35,317.8 775.60,318.4 775.85,316.9 776.10,314.1 776.35,314.6 776.60,315.8 776.85,315.9 777.10,315.7 777.35,315.1 777.60,317.5 777.85,317.5 778.10,317.8 778.35,317.2 778.60,314.9 778.85,315.8 779.10,317.6 779.35,317.3 779.60,316.8 779.85,317.2 780.10,318.3 780.35,318.8 780.60,317.0 780.85,316.6 781.10,318.1 781.35,319.5 781.60,319.1 781.85,317.0 782.10,316.0 782.35,315.8 782.60,317.2 782.85,317.2 783.10,316.6 783.35,315.8 783.60,315.1 783.85,317.0 784.10,316.8 784.35,315.5 784.60,315.9 784.85,318.1 785.10,318.7 785.35,318.4 785.60,318.6 785.85,317.9 786.10,315.9 786.35,316.3 786.60,316.4 786.85,317.5 787.10,319.0 787.35,318.4 787.60,318.6 787.85,318.1 788.10,316.8 788.35,317.2 788.60,317.5 788.85,318.7 789.10,319.8 789.35,319.3 789.60,318.3 789.85,315.4 790.10,315.1 790.35,316.5 790.60,316.4 790.85,317.2 791.10,316.6 791.35,317.7 791.60,317.8 791.85,318.2 792.10,318.2 792.35,317.6 792.60,317.9 792.85,316.1 793.10,313.8 793.35,315.3 793.60,318.7 793.85,319.6 794.10,317.5 794.35,315.8 794.60,315.9 794.85,315.7 795.10,316.7 795.35,317.8 795.60,317.8 795.85,316.7 796.10,316.0 796.35,316.3 796.60,318.2 796.85,318.9 797.10,319.6 797.35,319.0 797.60,317.6 797.85,315.9 798.10,314.8 798.35,315.7 798.60,316.7 798.85,317.5 799.10,318.1 799.35,317.3 799.60,317.7 799.85,317.2 800.10,317.2 800.35,317.3 800.60,317.2 800.85,318.4 801.10,318.3 801.35,318.8 801.60,318.2 801.85,317.2 802.10,316.6 802.35,317.7 802.60,316.8 802.85,316.3 803.10,318.4 803.35,318.9 803.60,317.7 803.85,318.7 804.10,319.1 804.35,318.4 804.60,317.3 804.85,317.6 805.10,318.7 805.35,319.0 805.60,317.4 805.85,318.0 806.10,318.4 806.35,317.6 806.60,318.0 806.85,319.1 807.10,318.2 807.35,315.6 807.60,316.2 807.85,318.5 808.10,318.7 808.35,318.4 808.60,317.2 808.85,316.0 809.10,317.4 809.35,318.1 809.60,316.3 809.85,318.0 810.10,317.8 810.35,316.8 810.60,317.1 810.85,317.9 811.10,317.4 811.35,317.6 811.60,318.3 811.85,316.6 812.10,317.4 812.35,317.8 812.60,317.3 812.85,316.5 813.10,316.7 813.35,315.5 813.60,316.5 813.85,316.4 814.10,316.8 814.35,318.4 814.60,318.1 814.85,318.6 815.10,318.3 815.35,317.9 815.60,316.9 815.85,314.5 816.10,317.1 816.35,318.1 816.60,317.7 816.85,317.4 817.10,314.6 817.35,314.0 817.60,315.9 817.85,316.3 818.10,317.5 818.35,318.0 818.60,317.5 818.85,315.7 819.10,316.5 819.35,319.1 819.60,319.0 819.85,317.9 820.10,317.5 820.35,317.7 820.60,318.4 820.85,319.3 821.10,318.2 821.35,315.7 821.60,316.5 821.85,317.9 822.10,318.7 822.35,319.4 822.60,318.5 822.85,316.6 823.10,317.3 823.35,317.7 823.60,318.0 823.85,317.2 824.10,318.5 824.35,319.1 824.60,319.9 824.85,319.9 825.10,318.8 825.35,317.2 825.60,316.7 825.85,318.3 826.10,318.9 826.35,318.7 826.60,316.7 826.85,314.7 827.10,317.1 827.35,318.9 827.60,317.6 827.85,318.5 828.10,318.9 828.35,317.5 828.60,318.9 828.85,318.3 829.10,315.2 829.35,315.7 829.60,317.6 829.85,318.2 830.10,318.4 830.35,317.6 830.60,318.1 830.85,319.0 831.10,318.2 831.35,316.9 831.60,318.3 831.85,319.1 832.10,318.8 832.35,316.8 832.60,316.1 832.85,317.4 833.10,318.9 833.35,318.8 833.60,318.6 833.85,318.6 834.10,318.4 834.35,318.0 834.60,317.6 834.85,318.9 835.10,318.6 835.35,317.1 835.60,318.0 835.85,317.6 836.10,317.3 836.35,316.7 836.60,315.7 836.85,317.9 837.10,319.6 837.35,318.6 837.60,315.9 837.85,317.0 838.10,318.2 838.35,318.2 838.60,318.2 838.85,317.6 839.10,318.3 839.35,317.3 839.60,316.8 839.85,317.0 840.10,315.3 840.35,316.1 840.60,314.8 840.85,316.9 841.10,317.5 841.35,316.4 841.60,317.0 841.85,318.8 842.10,318.6 842.35,318.0 842.60,318.0 842.85,318.0 843.10,318.4 843.35,317.4 843.60,318.0 843.85,317.5 844.10,317.2 844.35,318.1 844.60,317.1 844.85,316.9 845.10,318.1 845.35,317.5 845.60,316.4 845.85,314.7 846.10,315.7 846.35,317.2 846.60,317.1 846.85,317.8 847.10,318.6 847.35,318.8 847.60,318.7 847.85,317.9 848.10,318.0 848.35,319.6 848.60,319.9 848.85,318.6 849.10,318.1 849.35,318.6 849.60,319.7 849.85,319.8 850.10,318.6 850.35,318.5 850.60,317.8 850.85,317.1 851.10,318.7 851.35,317.2 851.60,316.9 851.85,318.5 852.10,318.2 852.35,318.8 852.60,319.0 852.85,318.5 853.10,318.2 853.35,319.5 853.60,318.5 853.85,317.9 854.10,316.8 854.35,316.4 854.60,315.7 854.85,315.3 855.10,317.5 855.35,318.6 855.60,316.7 855.85,317.6 856.10,315.8 856.35,316.2 856.60,318.2 856.85,318.1 857.10,317.5 857.35,317.4 857.60,317.2 857.85,318.7 858.10,318.2 858.35,318.7 858.60,317.8 858.85,316.3 859.10,316.4 859.35,318.0 859.60,317.7 859.85,318.2 860.10,316.8 860.35,317.7 860.60,318.4 860.85,318.0 861.10,318.5 861.35,316.1 861.60,314.3 861.85,314.3 862.10,317.2 862.35,317.7 862.60,315.2 862.85,314.4 863.10,314.5 863.35,314.9 863.60,317.1 863.85,319.0 864.10,316.6 864.35,315.4 864.60,317.9 864.85,318.7 865.10,318.1 865.35,316.7 865.60,317.4 865.85,318.9 866.10,318.1 866.35,317.7 866.60,316.7 866.85,317.0 867.10,318.2 867.35,319.1 867.60,318.9 867.85,317.1 868.10,317.1 868.35,317.5 868.60,316.8 868.85,317.9 869.10,316.9 869.35,317.7 869.60,317.4 869.85,318.3 870.10,319.1 870.35,318.1 870.60,316.6 870.85,316.4 871.10,316.8 871.35,317.5 871.60,317.0 871.85,318.8 872.10,318.2 872.35,315.9 872.60,316.5 872.85,316.5 873.10,317.2 873.35,318.3 873.60,318.1 873.85,317.0 874.10,317.1 874.35,316.3 874.60,315.9 874.85,316.7 875.10,316.3 875.35,316.0 875.60,314.7 875.85,315.6 876.10,314.4 876.35,316.0 876.60,316.1 876.85,315.5 877.10,315.8 877.35,317.7 877.60,319.3 877.85,319.0 878.10,316.5 878.35,317.3 878.60,316.5 878.85,317.2 879.10,317.0 879.35,315.4 879.60,317.2 879.85,318.5 880.10,317.4 880.35,318.4 880.60,317.5 880.85,316.4 881.10,316.7 881.35,316.4 881.60,318.4 881.85,317.9 882.10,315.7 882.35,315.8 882.60,317.2 882.85,318.4 883.10,318.3 883.35,316.8 883.60,317.6 883.85,317.2 884.10,317.4 884.35,317.6 884.60,318.3 884.85,317.2 885.10,316.2 885.35,317.3 885.60,317.8 885.85,317.7 886.10,315.6 886.35,316.4 886.60,317.4 886.85,314.7 887.10,314.9 887.35,316.0 887.60,315.1 887.85,315.1 888.10,315.6 888.35,316.3 888.60,318.8 888.85,318.6 889.10,316.7 889.35,316.6 889.60,318.2 889.85,318.1 890.10,317.5 890.35,316.2 890.60,317.0 890.85,316.7 891.10,316.9 891.35,316.8 891.60,314.0 891.85,315.4 892.10,317.8 892.35,318.4 892.60,318.0 892.85,316.2 893.10,316.9 893.35,315.1 893.60,316.9 893.85,317.4 894.10,317.6 894.35,316.7 894.60,316.0 894.85,315.5 895.10,317.1 895.35,317.9 895.60,317.7 895.85,318.8 896.10,318.2 896.35,318.4 896.60,316.1 896.85,315.3 897.10,316.2 897.35,317.6 897.60,319.5 897.85,318.5 898.10,316.8 898.35,318.8 898.60,319.1 898.85,319.1 899.10,317.7 899.35,317.5 899.60,319.1 899.85,319.4 900.10,318.5 900.35,317.5 900.60,318.0 900.85,318.8 901.10,318.8 901.35,316.3 901.60,315.4 901.85,316.7 902.10,315.9 902.35,317.8 902.60,317.8 902.85,316.5 903.10,314.9 903.35,316.8 903.60,316.6 903.85,318.0 904.10,319.0 904.35,319.4 904.60,319.2 904.85,318.6 905.10,317.1 905.35,318.5 905.60,316.7 905.85,317.2 906.10,318.7 906.35,318.2 906.60,317.4 906.85,317.1 907.10,317.9 907.35,318.8 907.60,318.6 907.85,317.8 908.10,316.7 908.35,316.2 908.4,325.7 907.9,325.2 907.4,325.6 906.9,325.2 906.4,325.5 905.9,325.2 905.4,324.9 904.9,325.8 904.4,325.0 903.9,324.9 903.4,325.8 902.9,325.7 902.4,325.0 901.9,325.1 901.4,325.4 900.9,325.0 900.4,325.3 899.9,325.9 899.4,325.6 898.9,325.5 898.4,325.0 897.9,325.5 897.4,325.8 896.9,325.8 896.4,325.6 895.9,325.6 895.4,325.6 894.9,324.9 894.4,324.9 893.9,325.6 893.4,325.4 892.9,325.7 892.4,325.2 891.9,325.5 891.4,325.4 890.9,325.6 890.4,325.0 889.9,325.4 889.4,325.7 888.9,324.9 888.4,325.2 887.9,325.2 887.4,325.3 886.9,325.6 886.4,325.4 885.9,325.6 885.4,325.4 884.9,325.2 884.4,325.7 883.9,325.4 883.4,325.1 882.9,325.2 882.4,325.8 881.9,325.8 881.4,325.5 880.9,325.1 880.4,325.3 879.9,325.8 879.4,325.1 878.9,325.2 878.4,325.2 877.9,325.3 877.4,325.0 876.9,325.1 876.4,325.0 875.9,325.4 875.4,325.1 874.9,325.1 874.4,325.2 873.9,325.3 873.4,325.3 872.9,325.4 872.4,325.0 871.9,324.9 871.4,325.2 870.9,325.3 870.4,325.9 869.9,324.9 869.4,325.7 868.9,325.1 868.4,325.4 867.9,325.7 867.4,325.7 866.9,325.1 866.4,325.7 865.9,325.0 865.4,325.3 864.9,325.9 864.4,325.7 863.9,325.3 863.4,325.1 862.9,325.3 862.4,325.3 861.9,325.9 861.4,325.1 860.9,325.7 860.4,325.7 859.9,325.2 859.4,325.7 858.9,325.9 858.4,325.4 857.9,325.2 857.4,325.4 856.9,325.5 856.4,325.5 855.9,325.4 855.4,325.7 854.9,325.2 854.4,325.9 853.9,325.4 853.4,325.0 852.9,325.1 852.4,325.5 851.9,325.7 851.4,325.1 850.9,325.9 850.4,325.0 849.9,325.9 849.4,325.1 848.9,325.5 848.4,325.6 847.9,325.1 847.4,325.3 846.9,325.0 846.4,325.8 845.9,325.4 845.4,325.6 844.9,325.4 844.4,325.8 843.9,325.5 843.4,325.3 842.9,325.7 842.4,325.5 841.9,325.4 841.4,325.0 840.9,325.9 840.4,325.0 839.9,325.3 839.4,325.7 838.9,325.1 838.4,325.2 837.9,325.1 837.4,325.0 836.9,325.5 836.4,325.2 835.9,325.0 835.4,325.8 834.9,325.2 834.4,325.4 833.9,325.5 833.4,325.5 832.9,325.3 832.4,325.5 831.9,325.7 831.4,325.4 830.9,325.2 830.4,325.1 829.9,325.2 829.4,325.4 828.9,325.8 828.4,325.5 827.9,325.6 827.4,325.5 826.9,325.2 826.4,325.9 825.9,325.0 825.4,325.3 824.9,325.2 824.4,325.1 823.9,324.9 823.4,325.3 822.9,325.9 822.4,325.6 821.9,325.0 821.4,325.8 820.9,325.7 820.4,325.8 819.9,325.1 819.4,325.7 818.9,324.9 818.4,325.2 817.9,325.3 817.4,325.3 816.9,325.5 816.4,325.6 815.9,325.2 815.4,325.0 814.9,324.9 814.4,325.3 813.9,325.8 813.4,325.5 812.9,325.3 812.4,325.7 811.9,325.9 811.4,325.9 810.9,325.0 810.4,325.1 809.9,325.1 809.4,325.8 808.9,325.8 808.4,325.4 807.9,325.5 807.4,325.4 806.9,325.7 806.4,325.6 805.9,325.2 805.4,325.0 804.9,325.4 804.4,324.9 803.9,325.4 803.4,325.2 802.9,325.5 802.4,325.2 801.9,325.4 801.4,325.8 800.9,325.0 800.4,325.0 799.9,325.1 799.4,325.0 798.9,325.8 798.4,325.1 797.9,325.6 797.4,325.7 796.9,325.4 796.4,325.7 795.9,325.1 795.4,325.1 794.9,325.3 794.4,325.1 793.9,325.6 793.4,325.3 792.9,325.6 792.4,325.5 791.9,325.4 791.4,325.2 790.9,325.8 790.4,324.9 789.9,325.5 789.4,325.7 788.9,325.7 788.4,325.0 787.9,325.8 787.4,325.7 786.9,325.8 786.4,325.5 785.9,325.8 785.4,325.7 784.9,325.9 784.4,325.5 783.9,325.7 783.4,325.1 782.9,325.8 782.4,325.3 781.9,325.5 781.4,324.9 780.9,325.0 780.4,325.4 779.9,325.5 779.4,325.7 778.9,325.7 778.4,325.4 777.9,325.6 777.4,325.0 776.9,325.5 776.4,325.4 775.9,325.6 775.4,325.4 774.9,325.0 774.4,325.6 774.2,325.7 774.1,325.5 773.9,325.8 773.6,325.6 773.4,325.3 773.3,325.3 773.1,325.1 772.9,325.5 772.8,324.9 772.6,325.4 772.4,325.8 772.2,325.5 772.0,325.4 771.9,325.1 771.6,325.0 771.4,325.1 771.3,325.7 771.1,325.4 770.9,325.0 770.8,325.4 770.6,325.6 770.4,325.3 770.1,325.4 770.0,325.0 769.9,325.1 769.6,325.5 769.4,325.3 769.3,325.3 769.1,325.9 768.9,325.0 768.8,324.9 768.6,325.1 768.4,325.6 768.1,325.1 768.0,325.2 767.9,325.4 767.6,325.3 767.4,325.5 767.2,325.6 767.1,325.3 766.9,325.3 766.8,325.9 766.6,325.4 766.4,325.7 766.1,325.9 766.0,325.0 765.6,325.0 765.4,325.1 765.2,325.0 765.0,325.6 764.9,325.1 764.6,325.0 764.2,325.2 764.1,325.7 763.9,325.2 763.6,325.4 763.4,325.2 763.3,325.9 763.1,325.5 763.0,325.2 762.8,325.1 762.6,325.1 762.4,325.2 762.2,325.8 762.1,325.0 761.9,325.8 761.6,325.8 761.4,325.1 761.3,324.9 761.1,325.1 760.9,324.9 760.8,325.5 760.6,325.4 760.4,325.2 760.2,325.9 760.0,325.8 759.9,325.5 759.6,325.6 759.4,325.9 759.3,325.5 759.1,325.7 758.9,325.5 758.8,325.3 758.6,325.7 758.4,325.6 758.1,324.9 758.0,325.0 757.9,325.1 757.6,325.1 757.4,325.1 757.3,325.0 757.1,325.8 756.9,325.3 756.8,325.4 756.6,325.7 756.4,324.9 756.1,325.0 756.0,325.6 755.9,325.3 755.6,325.1 755.4,325.6 755.2,325.2 755.1,325.0 754.9,325.0 754.8,325.4 754.6,325.0 754.4,325.0 754.1,325.5 754.0,325.5 753.9,325.1 753.6,325.1 753.4,325.2 753.2,324.9 753.0,325.0 752.9,325.5 752.6,325.2 752.5,325.3 752.2,325.7 752.1,325.7 751.9,324.9 751.6,325.6 751.4,325.9 751.2,325.0 751.1,325.0 750.9,325.7 750.7,325.5 750.5,325.0 750.2,325.8 750.1,325.2 749.9,325.7 749.7,325.9 749.4,324.9 749.3,325.7 749.1,325.7 748.9,325.4 748.8,325.5 748.6,325.6 748.4,325.7 748.2,325.1 748.0,325.6 747.9,324.9 747.7,325.6 747.4,325.7 747.3,325.5 747.1,325.7 746.9,325.0 746.8,325.5 746.6,325.0 746.4,325.6 746.2,325.9 746.0,325.6 745.9,324.9 745.6,325.8 745.4,325.6 745.3,325.1 745.1,325.1 744.9,325.0 744.8,325.7 744.6,325.6 744.4,325.0 744.1,325.5 744.0,325.4 743.9,325.7 743.6,325.1 743.4,325.1 743.2,325.1 743.1,325.5 742.9,325.7 742.8,325.1 742.6,325.5 742.4,325.4 742.1,325.4 742.0,325.1 741.9,325.3 741.6,325.5 741.4,325.0 741.2,325.5 741.0,325.0 740.9,324.9 740.6,325.1 740.5,325.5 740.4,325.4 740.1,324.9 739.9,325.8 739.6,325.0 739.4,325.2 739.2,325.4 739.1,325.6 738.9,325.8 738.7,325.9 738.5,325.0 738.3,325.7 738.1,325.1 737.9,325.8 737.7,324.9 737.6,325.5 737.3,325.8 737.1,325.1 736.9,325.9 736.8,325.9 736.6,325.3 736.5,325.1 736.3,325.7 736.1,325.4 735.9,325.0 735.7,325.7 735.5,325.8 735.3,325.5 735.1,325.4 734.9,325.3 734.8,325.6 734.6,325.9 734.4,325.3 734.3,325.3 734.0,325.9 733.9,325.9 733.7,325.3 733.5,325.0 733.3,325.9 733.1,325.6 732.9,325.5 732.8,325.7 732.6,325.1 732.4,325.8 732.3,325.5 732.0,325.5 731.9,325.1 731.6,325.1 731.5,325.0 731.3,325.8 731.1,325.7 730.9,325.6 730.8,325.8 730.6,325.0 730.4,325.7 730.3,325.3 730.0,325.4 729.9,325.0 729.6,325.2 729.5,325.7 729.2,325.5 729.0,325.9 728.9,325.2 728.6,325.4 728.5,325.7 728.4,325.0 728.1,325.8 727.9,325.5 727.6,325.3 727.5,325.8 727.2,325.8 727.1,325.8 726.9,325.6 726.7,325.4 726.5,325.4 726.4,325.8 726.1,325.8 725.9,325.3 725.7,325.4 725.6,325.8 725.4,325.5 725.1,325.9 724.9,325.0 724.8,325.7 724.6,325.6 724.5,325.4 724.3,325.6 724.1,325.2 723.9,324.9 723.7,325.1 723.6,325.2 723.4,325.1 723.1,325.2 722.9,325.6 722.8,325.2 722.6,325.2 722.4,325.9 722.3,325.1 722.1,325.7 721.9,325.0 721.7,325.3 721.5,325.7 721.4,325.2 721.1,325.6 720.9,325.4 720.8,325.6 720.6,325.7 720.4,325.0 720.3,325.0 720.1,325.7 719.9,325.5 719.6,325.2 719.5,325.2 719.4,325.8 719.1,325.5 718.9,325.1 718.8,325.2 718.6,325.5 718.4,325.4 718.3,325.0 718.1,325.2 717.9,325.0 717.6,325.8 717.5,325.3 717.4,325.7 717.1,325.6 716.9,325.2 716.7,325.7 716.6,325.4 716.4,325.3 716.3,325.7 716.1,325.7 715.9,325.6 715.6,325.3 715.5,325.5 715.1,325.2 714.9,325.7 714.7,325.6 714.5,325.1 714.4,324.9 714.1,325.5 713.7,325.7 713.6,325.1 713.4,325.7 713.1,325.6 712.9,325.8 712.8,325.1 712.6,325.8 712.5,325.0 712.3,325.0 712.1,325.1 711.9,325.6 711.7,325.4 711.6,325.1 711.4,325.1 711.1,325.5 710.9,325.3 710.8,325.0 710.6,325.8 710.4,325.7 710.3,325.3 710.1,325.8 709.9,325.6 709.7,324.9 709.5,325.7 709.4,325.5 709.1,325.5 708.9,325.4 708.8,325.5 708.6,325.9 708.4,325.1 708.3,324.9 708.1,325.6 707.9,324.9 707.6,325.4 707.5,325.2 707.4,325.1 707.1,325.1 706.9,325.0 706.8,325.5 706.6,325.2 706.4,325.4 706.3,325.7 706.1,325.3 705.9,325.9 705.6,325.6 705.5,325.8 705.4,325.5 705.1,325.2 704.9,325.2 704.7,325.5 704.6,325.6 704.4,325.4 704.3,325.8 704.1,325.3 703.9,325.7 703.6,325.7 703.5,325.7 703.4,325.0 703.1,325.9 702.9,325.6 702.7,325.3 702.5,325.8 702.4,325.5 702.1,325.8 702.0,325.9 701.7,325.3 701.6,325.2 701.4,325.9 701.1,325.8 700.9,325.8 700.7,325.1 700.6,325.5 700.4,325.7 700.2,325.9 700.0,325.3 699.7,325.7 699.6,325.0 699.4,325.0 699.2,325.6 698.9,325.1 698.8,325.5 698.6,325.6 698.4,325.1 698.3,325.7 698.1,325.1 697.9,325.1 697.7,325.8 697.5,324.9 697.4,325.8 697.2,325.5 696.9,325.7 696.8,325.1 696.6,325.1 696.4,325.1 696.3,325.4 696.1,325.4 695.9,325.8 695.7,325.3 695.5,325.2 695.4,325.4 695.1,325.7 694.9,325.4 694.8,325.6 694.6,325.9 694.4,325.2 694.3,325.6 694.1,325.4 693.9,325.3 693.6,325.5 693.5,325.2 693.4,325.6 693.1,325.9 692.9,325.8 692.7,325.2 692.6,325.3 692.4,325.9 692.3,325.7 692.1,325.1 691.9,325.6 691.6,325.6 691.5,325.3 691.4,325.3 691.1,325.8 690.9,325.4 690.7,325.2 690.5,325.4 690.4,325.3 690.1,325.8 690.0,324.9 689.9,325.7 689.6,325.6 689.4,325.8 689.1,325.1 688.9,325.8 688.7,325.5 688.6,325.0 688.4,325.5 688.2,325.6 688.0,325.4 687.8,325.9 687.6,325.3 687.4,325.1 687.2,325.5 687.1,325.2 686.8,325.3 686.6,325.1 686.4,325.7 686.3,325.2 686.1,325.2 686.0,325.0 685.8,325.7 685.6,325.7 685.4,325.6 685.2,325.8 685.0,324.9 684.8,325.0 684.6,324.9 684.4,325.4 684.3,325.9 684.1,325.4 683.9,325.9 683.8,325.0 683.5,325.7 683.4,325.2 683.2,325.1 683.0,325.7 682.8,325.4 682.6,325.2 682.4,325.2 682.3,325.7 682.1,325.7 681.9,325.7 681.8,324.9 681.5,325.8 681.4,325.7 681.1,325.1 681.0,325.1 680.8,325.6 680.6,325.0 680.4,325.9 680.3,325.3 680.1,325.4 679.9,325.4 679.8,325.0 679.5,325.6 679.4,325.9 679.1,325.5 679.0,325.8 678.7,325.7 678.5,325.8 678.4,325.1 678.1,325.0 678.0,325.5 677.9,325.1 677.6,325.8 677.4,325.6 677.1,325.2 677.0,325.7 676.7,325.8 676.6,325.8 676.4,325.9 676.2,325.1 676.0,325.6 675.9,325.2 675.6,325.6 675.4,325.7 675.2,325.0 675.1,325.2 674.9,325.2 674.6,325.5 674.4,325.4 674.3,325.9 674.1,325.3 674.0,325.3 673.8,325.7 673.6,324.9 673.4,325.1 673.2,325.3 673.1,325.2 672.9,325.2 672.6,325.3 672.4,325.4 672.3,324.9 672.1,325.5 671.9,325.6 671.8,324.9 671.6,325.4 671.4,325.2 671.2,325.3 671.0,325.3 670.9,325.4 670.6,325.7 670.4,325.3 670.3,325.6 670.1,325.0 669.9,325.3 669.8,325.3 669.6,324.9 669.4,325.5 669.1,325.0 669.0,325.9 668.9,325.4 668.6,325.9 668.4,325.1 668.3,325.7 668.1,325.8 667.9,325.6 667.8,325.2 667.6,325.1 667.4,325.5 667.1,325.8 667.0,325.2 666.9,325.3 666.6,325.7 666.4,325.3 666.2,325.2 666.1,325.0 665.9,325.3 665.8,325.0 665.6,325.8 665.4,325.1 665.1,325.7 665.0,325.9 664.6,325.8 664.4,325.1 664.2,325.1 664.0,325.2 663.9,325.2 663.6,324.9 663.2,325.4 663.1,325.6 662.9,325.3 662.6,325.0 662.4,325.8 662.3,325.5 662.1,325.0 662.0,325.6 661.8,325.1 661.6,325.5 661.4,325.6 661.2,325.2 661.1,325.0 660.9,325.6 660.6,325.1 660.4,325.2 660.3,325.2 660.1,325.8 659.9,325.3 659.8,325.6 659.6,325.9 659.4,325.6 659.2,324.9 659.0,325.3 658.9,325.6 658.6,325.3 658.4,325.4 658.3,325.7 658.1,325.4 657.9,325.1 657.8,325.0 657.6,325.6 657.4,325.5 657.1,325.3 657.0,325.5 656.9,325.2 656.6,325.0 656.4,324.9 656.3,325.2 656.1,325.1 655.9,325.2 655.8,325.6 655.6,325.2 655.4,325.0 655.1,325.6 655.0,325.6 654.9,325.1 654.6,325.4 654.4,325.2 654.2,325.7 654.1,324.9 653.9,325.6 653.8,325.2 653.6,325.4 653.4,325.8 653.1,325.1 653.0,325.7 652.9,325.1 652.6,325.7 652.4,325.0 652.2,325.6 652.0,325.5 651.9,325.8 651.6,325.9 651.5,325.2 651.2,325.3 650.9,325.4 650.4,325.3 649.9,325.4 649.4,325.2 648.9,324.9 648.4,325.0 647.9,325.4 647.4,325.3 646.9,325.2 646.4,325.4 645.9,324.9 645.4,325.6 644.9,325.9 644.4,325.9 643.9,325.8 643.4,325.6 642.9,325.3 642.4,325.9 641.9,325.7 641.4,325.8 640.9,325.4 640.4,324.9 639.9,325.5 639.4,325.1 638.9,325.0 638.4,325.1 637.9,325.3 637.4,325.1 636.9,325.5 636.4,325.2 635.9,325.0 635.4,325.4 634.9,324.9 634.4,325.5 633.9,325.3 633.4,325.9 632.9,325.0 632.4,325.2 631.9,325.4 631.4,325.2 630.9,325.1 630.4,325.6 629.9,325.8 629.4,325.5 628.9,325.7 628.4,325.8 627.9,325.7 627.4,325.6 626.9,325.1 626.4,324.9 625.9,325.2 625.4,325.7 624.9,325.4 624.4,325.6 623.9,325.7 623.4,325.3 622.9,325.7 622.4,325.1 621.9,325.6 621.4,325.2 620.9,325.3 620.4,325.7 619.9,325.2 619.4,324.9 618.9,325.7 618.4,325.7 617.9,325.9 617.4,325.3 616.9,325.0 616.4,325.3 615.9,325.5 615.4,325.0 614.9,325.7 614.4,325.6 613.9,325.7 613.4,325.6 612.9,325.7 612.4,325.0 611.9,325.6 611.4,325.4 610.9,325.7 610.4,325.1 609.9,325.0 609.4,325.2 608.9,325.4 608.4,325.6 607.9,325.5 607.4,325.1 606.9,325.6 606.4,325.4 605.9,325.5 605.4,325.0 604.9,325.1 604.4,325.1 603.9,325.7 603.4,325.6 602.9,325.4 602.4,325.7 601.9,325.7 601.4,325.1 600.9,325.1 600.4,325.9 599.9,325.0 599.4,325.8 598.9,325.7 598.4,325.4 597.9,325.5 597.4,325.1 596.9,325.2 596.4,325.2 595.9,325.3 595.4,325.2 594.9,325.1 594.4,325.7 593.9,325.2 593.4,325.2 592.9,325.2 592.4,325.0 591.9,325.7 591.4,325.9 590.9,325.4 590.4,325.8 589.9,324.9 589.4,325.2 588.9,325.1 588.4,325.6 587.9,325.8 587.4,324.9 586.9,325.1 586.4,325.5 585.9,325.6 585.4,325.1 584.9,324.9 584.4,325.5 583.9,325.7 583.4,324.9 582.9,325.6 582.4,325.1 581.9,325.4 581.4,325.5 580.9,325.3 580.4,325.9 579.9,325.3 579.4,325.7 578.9,325.7 578.4,325.9 577.9,325.4 577.4,325.5 576.9,325.7 576.4,325.4 575.9,325.2 575.4,325.1 574.9,325.3 574.4,325.0 573.9,325.3 573.4,325.6 572.9,325.4 572.4,325.5 571.9,325.4 571.4,325.7 570.9,325.9 570.4,325.8 569.9,325.3 569.4,325.2 568.9,325.3 568.4,325.7 567.9,325.0 567.4,325.8 566.9,325.9 566.4,325.3 565.9,325.7 565.4,325.8 564.9,325.5 564.4,325.5 563.9,325.6 563.4,325.8 562.9,325.2 562.4,325.6 561.9,325.1 561.4,325.3 560.9,325.2 560.4,325.3 559.9,325.3 559.4,325.8 558.9,325.4 558.4,325.6 557.9,325.0 557.4,325.7 556.9,325.6 556.4,325.7 555.9,325.8 555.4,325.1 554.9,325.2 554.4,325.1 553.9,325.0 553.4,325.1 552.9,325.6 552.4,325.2 551.9,325.2 551.4,325.2 550.9,325.4 550.4,325.8 549.9,325.8 549.4,325.7 548.9,325.1 548.4,324.9 547.9,325.0 547.4,325.8 546.9,325.2 546.4,325.2 545.9,325.1 545.4,325.2 544.9,325.0 544.4,325.4 543.9,325.6 543.4,325.1 542.9,325.5 542.4,325.5 541.9,325.7 541.4,325.1 540.9,325.6 540.4,325.4 539.9,325.8 539.4,325.6 538.9,325.5 538.4,325.5 537.9,325.0 537.4,325.4 536.9,325.9 536.4,325.2 535.9,325.1 535.4,325.8 534.9,325.9 534.4,325.6 533.9,325.1 533.4,325.3 532.9,325.4 532.4,325.7 531.9,325.5 531.4,325.8 530.9,325.6 530.4,325.0 529.9,325.4 529.4,325.9 528.9,325.9 528.4,325.4 527.9,325.4 527.4,325.0 526.9,325.0 526.4,325.2 525.9,325.2 525.4,325.4 524.9,325.4 524.4,325.1 523.9,325.5 523.4,325.6 522.9,325.6 522.4,325.3 521.9,325.0 521.4,325.5 520.9,325.0 520.4,325.0 519.9,325.7 519.4,325.4 518.9,325.1 518.4,325.7 517.9,325.6 517.4,325.1 516.9,325.3 516.4,325.1 515.9,325.1 515.4,325.6 514.9,325.5 514.4,325.0 513.9,325.7 513.4,325.3 512.9,325.9 512.4,325.4 511.9,325.1 511.4,325.7 510.9,325.6 510.4,325.6 509.9,325.0 509.4,325.3 508.9,325.7 508.4,325.3 507.9,324.9 507.4,325.4 506.9,325.4 506.4,325.1 505.9,324.9 505.4,325.7 504.9,325.8 504.4,325.0 503.9,325.5 503.4,325.2Z" fill="#2b388f" stroke="#2b388f" stroke-width="1.1"/>
<path d="M162.91,245.7V244.8M164.93,245.7V244.5M166.95,245.7V238.0M168.97,245.7V232.3M170.99,245.7V234.9M173.01,245.7V230.8M175.03,245.7V239.4M177.05,245.7V225.9M179.07,245.7V212.9M181.09,245.7V212.6M183.11,245.7V217.0M185.13,245.7V236.8M187.15,245.7V219.0M189.17,245.7V221.8M191.19,245.7V237.6M193.21,245.7V228.8M195.23,245.7V241.3M197.25,245.7V239.5M199.27,245.7V236.0M201.29,245.7V238.7M203.31,245.7V226.5M205.33,245.7V226.6M207.35,245.7V235.6M209.37,245.7V235.9M211.39,245.7V240.0M213.41,245.7V240.5M215.43,245.7V228.8M217.45,245.7V230.7M219.47,245.7V240.6M221.49,245.7V231.9M223.51,245.7V232.4M225.53,245.7V220.6M227.55,245.7V220.8M229.57,245.7V222.2M231.59,245.7V223.6M233.61,245.7V213.5M235.63,245.7V214.6M237.65,245.7V231.0M239.67,245.7V232.7M241.69,245.7V216.9M243.71,245.7V237.8M245.73,245.7V231.7M247.75,245.7V239.4M249.77,245.7V235.1M251.79,245.7V240.9M253.81,245.7V237.9M255.83,245.7V230.2M257.85,245.7V230.0M259.87,245.7V233.4M261.89,245.7V236.7M263.91,245.7V235.8M265.93,245.7V239.4M267.95,245.7V242.3M269.97,245.7V239.7M271.99,245.7V237.7M274.01,245.7V244.9M276.03,245.7V245.9M278.05,245.7V243.2M280.07,245.7V246.0" fill="none" stroke="#2b388f" stroke-width="0.65" opacity="0.75"/>
<path d="M169.05,521.2V522.1M171.07,521.2V520.5M173.09,521.2V521.4M175.11,521.2V520.0M177.13,521.2V521.8M179.15,521.2V517.8M181.17,521.2V516.7M183.19,521.2V521.1M185.21,521.2V515.2M187.23,521.2V519.8M189.25,521.2V518.5M191.27,521.2V514.2M193.29,521.2V500.8M195.31,521.2V493.2M197.33,521.2V513.0M199.35,521.2V490.8M201.37,521.2V490.4M203.39,521.2V492.2M205.41,521.2V481.0M207.43,521.2V508.1M209.45,521.2V493.7M211.47,521.2V514.8M213.49,521.2V512.7M215.51,521.2V513.4M217.53,521.2V509.9M219.55,521.2V503.4M221.57,521.2V508.0M223.59,521.2V502.6M225.61,521.2V512.5M227.63,521.2V504.9M229.65,521.2V506.3M231.67,521.2V513.2M233.69,521.2V513.2M235.71,521.2V503.0M237.73,521.2V508.4M239.75,521.2V504.1M241.77,521.2V507.5M243.79,521.2V507.7M245.81,521.2V514.3M247.83,521.2V513.5M249.85,521.2V514.2M251.87,521.2V507.8M253.89,521.2V517.3M255.91,521.2V508.0M257.93,521.2V515.2M259.95,521.2V515.7M261.97,521.2V515.2M263.99,521.2V516.4M266.01,521.2V516.1M268.03,521.2V519.9M270.05,521.2V520.1" fill="none" stroke="#07a35a" stroke-width="0.65" opacity="0.75"/>
<path d="M652.99,323.8V321.9M655.01,323.8V322.6M657.03,323.8V315.8M659.05,323.8V309.8M661.07,323.8V306.1M663.09,323.8V312.8M665.11,323.8V306.6M667.13,323.8V298.6M669.15,323.8V300.7M671.17,323.8V296.9M673.19,323.8V315.1M675.21,323.8V307.9M677.23,323.8V316.2M679.25,323.8V297.8M681.27,323.8V310.4M683.29,323.8V304.9M685.31,323.8V314.2M687.33,323.8V313.4M689.35,323.8V320.0M691.37,323.8V314.0M693.39,323.8V302.9M695.41,323.8V315.5M697.43,323.8V314.4M699.45,323.8V305.1M701.47,323.8V319.9M703.49,323.8V319.3M705.51,323.8V309.1M707.53,323.8V303.9M709.55,323.8V319.7M711.57,323.8V305.9M713.59,323.8V304.7M715.61,323.8V318.0M717.63,323.8V304.5M719.65,323.8V306.0M721.67,323.8V305.4M723.69,323.8V293.2M725.71,323.8V317.9M727.73,323.8V311.6M729.75,323.8V300.2M731.77,323.8V309.6M733.79,323.8V310.4M735.81,323.8V301.4M737.83,323.8V299.1M739.85,323.8V315.0M741.87,323.8V311.9M743.89,323.8V315.7M745.91,323.8V314.4M747.93,323.8V311.6M749.95,323.8V310.2M751.97,323.8V321.1M753.99,323.8V313.9M756.01,323.8V315.4M758.03,323.8V320.6M760.05,323.8V321.3M762.07,323.8V320.4M764.09,323.8V322.0M766.11,323.8V317.0M768.13,323.8V320.2M770.15,323.8V322.7M772.17,323.8V321.5" fill="none" stroke="#2b388f" stroke-width="0.65" opacity="0.75"/>
</g>
<g stroke="#231f20" stroke-width="1.9" fill="none">
<line x1="12.0" y1="530.0" x2="415.9" y2="530.0"/>
<line x1="22.8" y1="530.0" x2="22.8" y2="535.8" stroke-width="1.75"/>
<line x1="43.0" y1="530.0" x2="43.0" y2="539.6" stroke-width="1.75"/>
<line x1="63.2" y1="530.0" x2="63.2" y2="535.8" stroke-width="1.75"/>
<line x1="83.4" y1="530.0" x2="83.4" y2="539.6" stroke-width="1.75"/>
<line x1="103.6" y1="530.0" x2="103.6" y2="535.8" stroke-width="1.75"/>
<line x1="123.8" y1="530.0" x2="123.8" y2="539.6" stroke-width="1.75"/>
<line x1="144.0" y1="530.0" x2="144.0" y2="535.8" stroke-width="1.75"/>
<line x1="164.2" y1="530.0" x2="164.2" y2="539.6" stroke-width="1.75"/>
<line x1="184.4" y1="530.0" x2="184.4" y2="535.8" stroke-width="1.75"/>
<line x1="204.6" y1="530.0" x2="204.6" y2="539.6" stroke-width="1.75"/>
<line x1="224.8" y1="530.0" x2="224.8" y2="535.8" stroke-width="1.75"/>
<line x1="245.0" y1="530.0" x2="245.0" y2="539.6" stroke-width="1.75"/>
<line x1="265.2" y1="530.0" x2="265.2" y2="535.8" stroke-width="1.75"/>
<line x1="285.4" y1="530.0" x2="285.4" y2="539.6" stroke-width="1.75"/>
<line x1="305.6" y1="530.0" x2="305.6" y2="535.8" stroke-width="1.75"/>
<line x1="325.8" y1="530.0" x2="325.8" y2="539.6" stroke-width="1.75"/>
<line x1="346.0" y1="530.0" x2="346.0" y2="535.8" stroke-width="1.75"/>
<line x1="366.2" y1="530.0" x2="366.2" y2="539.6" stroke-width="1.75"/>
<line x1="386.4" y1="530.0" x2="386.4" y2="535.8" stroke-width="1.75"/>
<line x1="12.0" y1="564.9" x2="415.9" y2="564.9"/>
<line x1="14.6" y1="564.9" x2="14.6" y2="569.5" stroke-width="1.75"/>
<line x1="30.4" y1="564.9" x2="30.4" y2="569.5" stroke-width="1.75"/>
<line x1="46.2" y1="564.9" x2="46.2" y2="569.5" stroke-width="1.75"/>
<line x1="62.0" y1="564.9" x2="62.0" y2="569.5" stroke-width="1.75"/>
<line x1="77.8" y1="564.9" x2="77.8" y2="573.3" stroke-width="1.75"/>
<line x1="93.5" y1="564.9" x2="93.5" y2="569.5" stroke-width="1.75"/>
<line x1="109.3" y1="564.9" x2="109.3" y2="569.5" stroke-width="1.75"/>
<line x1="125.1" y1="564.9" x2="125.1" y2="569.5" stroke-width="1.75"/>
<line x1="140.9" y1="564.9" x2="140.9" y2="573.3" stroke-width="1.75"/>
<line x1="156.7" y1="564.9" x2="156.7" y2="569.5" stroke-width="1.75"/>
<line x1="172.4" y1="564.9" x2="172.4" y2="569.5" stroke-width="1.75"/>
<line x1="188.2" y1="564.9" x2="188.2" y2="569.5" stroke-width="1.75"/>
<line x1="204.0" y1="564.9" x2="204.0" y2="573.3" stroke-width="1.75"/>
<line x1="219.8" y1="564.9" x2="219.8" y2="569.5" stroke-width="1.75"/>
<line x1="235.6" y1="564.9" x2="235.6" y2="569.5" stroke-width="1.75"/>
<line x1="251.3" y1="564.9" x2="251.3" y2="569.5" stroke-width="1.75"/>
<line x1="267.1" y1="564.9" x2="267.1" y2="573.3" stroke-width="1.75"/>
<line x1="282.9" y1="564.9" x2="282.9" y2="569.5" stroke-width="1.75"/>
<line x1="298.7" y1="564.9" x2="298.7" y2="569.5" stroke-width="1.75"/>
<line x1="314.5" y1="564.9" x2="314.5" y2="569.5" stroke-width="1.75"/>
<line x1="330.2" y1="564.9" x2="330.2" y2="573.3" stroke-width="1.75"/>
<line x1="346.0" y1="564.9" x2="346.0" y2="569.5" stroke-width="1.75"/>
<line x1="361.8" y1="564.9" x2="361.8" y2="569.5" stroke-width="1.75"/>
<line x1="377.6" y1="564.9" x2="377.6" y2="569.5" stroke-width="1.75"/>
<line x1="393.4" y1="564.9" x2="393.4" y2="573.3" stroke-width="1.75"/>
</g>
<text transform="translate(25.55,558.40) scale(0.9893,1)" font-size="22.20" stroke="#231f20" stroke-width="0.3" stroke-linejoin="round">200</text>
<text transform="translate(106.36,558.40) scale(0.9545,1)" font-size="22.20" stroke="#231f20" stroke-width="0.3" stroke-linejoin="round">100</text>
<text transform="translate(198.43,558.40) scale(0.9807,1)" font-size="22.20" stroke="#231f20" stroke-width="0.3" stroke-linejoin="round">0</text>
<text transform="translate(258.95,558.40) scale(0.9456,1)" font-size="22.20" stroke="#231f20" stroke-width="0.3" stroke-linejoin="round">−100</text>
<text transform="translate(342.31,558.40) scale(0.9404,1)" font-size="22.20" stroke="#231f20" stroke-width="0.3" stroke-linejoin="round">−200</text>
<text transform="translate(394.55,558.10) scale(0.9878,1)" font-size="23.40" stroke="#231f20" stroke-width="0.3" stroke-linejoin="round">kHz</text>
<text transform="translate(54.30,593.50) scale(1.0234,1)" font-size="22.20" stroke="#231f20" stroke-width="0.3" stroke-linejoin="round">4000</text>
<text transform="translate(197.81,593.50) scale(0.9478,1)" font-size="22.20" stroke="#231f20" stroke-width="0.3" stroke-linejoin="round">0</text>
<text transform="translate(296.45,593.50) scale(0.9902,1)" font-size="22.20" stroke="#231f20" stroke-width="0.3" stroke-linejoin="round">−4000</text>
<text transform="translate(394.95,593.70) scale(0.9889,1)" font-size="23.40" stroke="#231f20" stroke-width="0.3" stroke-linejoin="round">ppm</text>
<text transform="translate(114.38,621.60) scale(1.0236,1)" font-size="13.80" stroke="#231f20" stroke-width="0.2" stroke-linejoin="round">35</text>
<text transform="translate(130.43,629.70) scale(1.0059,1)" font-size="24.20" stroke="#231f20" stroke-width="0.3" stroke-linejoin="round">Cl Chemical Shift</text>
<g stroke="#231f20" stroke-width="1.9" fill="none">
<line x1="503.7" y1="335.9" x2="907.6" y2="335.9"/>
<line x1="514.5" y1="335.9" x2="514.5" y2="341.7" stroke-width="1.75"/>
<line x1="534.7" y1="335.9" x2="534.7" y2="345.5" stroke-width="1.75"/>
<line x1="554.9" y1="335.9" x2="554.9" y2="341.7" stroke-width="1.75"/>
<line x1="575.1" y1="335.9" x2="575.1" y2="345.5" stroke-width="1.75"/>
<line x1="595.3" y1="335.9" x2="595.3" y2="341.7" stroke-width="1.75"/>
<line x1="615.5" y1="335.9" x2="615.5" y2="345.5" stroke-width="1.75"/>
<line x1="635.7" y1="335.9" x2="635.7" y2="341.7" stroke-width="1.75"/>
<line x1="655.9" y1="335.9" x2="655.9" y2="345.5" stroke-width="1.75"/>
<line x1="676.1" y1="335.9" x2="676.1" y2="341.7" stroke-width="1.75"/>
<line x1="696.3" y1="335.9" x2="696.3" y2="345.5" stroke-width="1.75"/>
<line x1="716.5" y1="335.9" x2="716.5" y2="341.7" stroke-width="1.75"/>
<line x1="736.7" y1="335.9" x2="736.7" y2="345.5" stroke-width="1.75"/>
<line x1="756.9" y1="335.9" x2="756.9" y2="341.7" stroke-width="1.75"/>
<line x1="777.1" y1="335.9" x2="777.1" y2="345.5" stroke-width="1.75"/>
<line x1="797.3" y1="335.9" x2="797.3" y2="341.7" stroke-width="1.75"/>
<line x1="817.5" y1="335.9" x2="817.5" y2="345.5" stroke-width="1.75"/>
<line x1="837.7" y1="335.9" x2="837.7" y2="341.7" stroke-width="1.75"/>
<line x1="857.9" y1="335.9" x2="857.9" y2="345.5" stroke-width="1.75"/>
<line x1="878.1" y1="335.9" x2="878.1" y2="341.7" stroke-width="1.75"/>
<line x1="503.7" y1="370.0" x2="907.6" y2="370.0"/>
<line x1="506.3" y1="370.0" x2="506.3" y2="374.6" stroke-width="1.75"/>
<line x1="522.1" y1="370.0" x2="522.1" y2="374.6" stroke-width="1.75"/>
<line x1="537.9" y1="370.0" x2="537.9" y2="374.6" stroke-width="1.75"/>
<line x1="553.7" y1="370.0" x2="553.7" y2="374.6" stroke-width="1.75"/>
<line x1="569.5" y1="370.0" x2="569.5" y2="378.4" stroke-width="1.75"/>
<line x1="585.2" y1="370.0" x2="585.2" y2="374.6" stroke-width="1.75"/>
<line x1="601.0" y1="370.0" x2="601.0" y2="374.6" stroke-width="1.75"/>
<line x1="616.8" y1="370.0" x2="616.8" y2="374.6" stroke-width="1.75"/>
<line x1="632.6" y1="370.0" x2="632.6" y2="378.4" stroke-width="1.75"/>
<line x1="648.4" y1="370.0" x2="648.4" y2="374.6" stroke-width="1.75"/>
<line x1="664.1" y1="370.0" x2="664.1" y2="374.6" stroke-width="1.75"/>
<line x1="679.9" y1="370.0" x2="679.9" y2="374.6" stroke-width="1.75"/>
<line x1="695.7" y1="370.0" x2="695.7" y2="378.4" stroke-width="1.75"/>
<line x1="711.5" y1="370.0" x2="711.5" y2="374.6" stroke-width="1.75"/>
<line x1="727.3" y1="370.0" x2="727.3" y2="374.6" stroke-width="1.75"/>
<line x1="743.0" y1="370.0" x2="743.0" y2="374.6" stroke-width="1.75"/>
<line x1="758.8" y1="370.0" x2="758.8" y2="378.4" stroke-width="1.75"/>
<line x1="774.6" y1="370.0" x2="774.6" y2="374.6" stroke-width="1.75"/>
<line x1="790.4" y1="370.0" x2="790.4" y2="374.6" stroke-width="1.75"/>
<line x1="806.2" y1="370.0" x2="806.2" y2="374.6" stroke-width="1.75"/>
<line x1="821.9" y1="370.0" x2="821.9" y2="378.4" stroke-width="1.75"/>
<line x1="837.7" y1="370.0" x2="837.7" y2="374.6" stroke-width="1.75"/>
<line x1="853.5" y1="370.0" x2="853.5" y2="374.6" stroke-width="1.75"/>
<line x1="869.3" y1="370.0" x2="869.3" y2="374.6" stroke-width="1.75"/>
<line x1="885.1" y1="370.0" x2="885.1" y2="378.4" stroke-width="1.75"/>
</g>
<text transform="translate(517.25,364.50) scale(0.9893,1)" font-size="22.20" stroke="#231f20" stroke-width="0.3" stroke-linejoin="round">200</text>
<text transform="translate(598.06,364.50) scale(0.9545,1)" font-size="22.20" stroke="#231f20" stroke-width="0.3" stroke-linejoin="round">100</text>
<text transform="translate(690.13,364.50) scale(0.9807,1)" font-size="22.20" stroke="#231f20" stroke-width="0.3" stroke-linejoin="round">0</text>
<text transform="translate(750.65,364.50) scale(0.9456,1)" font-size="22.20" stroke="#231f20" stroke-width="0.3" stroke-linejoin="round">−100</text>
<text transform="translate(834.01,364.50) scale(0.9404,1)" font-size="22.20" stroke="#231f20" stroke-width="0.3" stroke-linejoin="round">−200</text>
<text transform="translate(891.78,361.80) scale(1.0011,1)" font-size="23.40" stroke="#231f20" stroke-width="0.3" stroke-linejoin="round">kHz</text>
<text transform="translate(546.00,397.60) scale(1.0234,1)" font-size="22.20" stroke="#231f20" stroke-width="0.3" stroke-linejoin="round">4000</text>
<text transform="translate(689.51,397.60) scale(0.9478,1)" font-size="22.20" stroke="#231f20" stroke-width="0.3" stroke-linejoin="round">0</text>
<text transform="translate(788.15,397.60) scale(0.9902,1)" font-size="22.20" stroke="#231f20" stroke-width="0.3" stroke-linejoin="round">−4000</text>
<text transform="translate(889.07,397.80) scale(0.9736,1)" font-size="23.40" stroke="#231f20" stroke-width="0.3" stroke-linejoin="round">ppm</text>
<text transform="translate(604.88,424.50) scale(1.0236,1)" font-size="13.80" stroke="#231f20" stroke-width="0.2" stroke-linejoin="round">35</text>
<text transform="translate(620.93,432.60) scale(1.0059,1)" font-size="24.20" stroke="#231f20" stroke-width="0.3" stroke-linejoin="round">Cl Chemical Shift</text>
<text transform="translate(5.93,56.60) scale(1.0163,1)" font-size="31.00" stroke="#231f20" stroke-width="0.5" stroke-linejoin="round">Ranitidine HCl (Form II)</text>
<text transform="translate(6.42,94.50) scale(1.0095,1)" font-size="31.00" stroke="#231f20" stroke-width="0.5" stroke-linejoin="round">purchased: ca. 2010</text>
<text transform="translate(5.93,288.85) scale(1.0161,1)" font-size="31.00" stroke="#231f20" stroke-width="0.5" stroke-linejoin="round">Ranitidine HCl (Form I)</text>
<text transform="translate(6.41,326.40) scale(1.0101,1)" font-size="31.00" stroke="#231f20" stroke-width="0.5" stroke-linejoin="round">purchased: ca. 2006</text>
<text transform="translate(496.26,146.60) scale(1.0134,1)" font-size="31.00" stroke="#231f20" stroke-width="0.5" stroke-linejoin="round">Zantac</text>
<text transform="translate(496.96,184.50) scale(1.0150,1)" font-size="31.00" stroke="#231f20" stroke-width="0.5" stroke-linejoin="round">(150 mg Ranitidine HCl)</text>
<g fill="none" stroke="#231f20" stroke-width="5.8" stroke-linejoin="miter">
<path d="M389,156 H446.9 V477 H387"/>
<path d="M446.9,315.8 H480"/>
</g>
<path d="M489.4,315.8 L475.2,307.5 L479,315.8 L475.2,324.1 Z" fill="#231f20"/>
<g stroke="#d6312f" stroke-width="4.6"><line x1="425.5" y1="398.5" x2="469.1" y2="442.1"/><line x1="469.1" y1="398.5" x2="425.5" y2="442.1"/></g>
<defs>
<filter id="blur1" x="-50%" y="-50%" width="200%" height="200%"><feGaussianBlur stdDeviation="1.6"/></filter>
<filter id="blur2" x="-50%" y="-50%" width="200%" height="200%"><feGaussianBlur stdDeviation="0.8"/></filter>
<filter id="blur3" x="-50%" y="-50%" width="200%" height="200%"><feGaussianBlur stdDeviation="2.6"/></filter>
<filter id="frost" x="0" y="0" width="100%" height="100%"><feTurbulence type="fractalNoise" baseFrequency="0.9" numOctaves="2" seed="4" result="n"/><feColorMatrix in="n" type="matrix" values="0 0 0 0 1  0 0 0 0 1  0 0 0 0 1  1.6 0 0 0 -0.55"/><feComposite operator="in" in2="SourceGraphic"/></filter>
<linearGradient id="lid" x1="0" y1="0" x2="0" y2="1"><stop offset="0" stop-color="#4a4585"/><stop offset="0.25" stop-color="#5f5ea6"/><stop offset="1" stop-color="#6a6bb2"/></linearGradient>
<radialGradient id="glow" cx="0.5" cy="0.5" r="0.5"><stop offset="0" stop-color="#ffffff" stop-opacity="1"/><stop offset="0.5" stop-color="#e3f1fa" stop-opacity="0.92"/><stop offset="0.82" stop-color="#c3dcf0" stop-opacity="0.6"/><stop offset="1" stop-color="#a9c8e6" stop-opacity="0"/></radialGradient>
<clipPath id="front"><rect x="782.6" y="19.4" width="142.2" height="132.5"/></clipPath>
</defs>
<g id="zantac-box">
<path d="M788,150 H925 V142 L930.5,146 V156.5 H792 Z" fill="#8f90a8" opacity="0.6" filter="url(#blur1)"/>
<path d="M789.3,8.6 H917.3 L924.8,19.6 H782.6 Z" fill="url(#lid)"/>
<path d="M789.3,8.6 H917.3 L918,9.6 H788.7 Z" fill="#5a3a55" opacity="0.6"/>
<path d="M789.3,8.6 H917.3 L924.8,19.6 H782.6 Z" fill="#fff" opacity="0.28" filter="url(#frost)"/>
<path d="M783.4,18.3 H924 L924.8,19.6 H782.6 Z" fill="#a9abd8" opacity="0.7"/>
<rect x="782.6" y="19.4" width="142.2" height="132.5" fill="#2d2b80"/>
<g clip-path="url(#front)">
<rect x="782.6" y="32" width="16" height="26" fill="#9aa0d8" opacity="0.38" filter="url(#frost)"/>
<rect x="911" y="32" width="14" height="22" fill="#9aa0d8" opacity="0.35" filter="url(#frost)"/>
<rect x="782.6" y="83.9" width="142.2" height="68.1" fill="#a2a2a7"/>
<rect x="782.6" y="19.4" width="142.2" height="12.4" fill="#cfe5f2"/>
<rect x="818" y="19.4" width="107" height="12.4" fill="#ffffff" opacity="0.55" filter="url(#frost)"/>
<path d="M782.6,19.4 H820.5 L816.8,31.8 H782.6 Z" fill="#f8e51f"/>
<path d="M873.4,83.9 V97.5 C873,101 871,103 868,104.5 C862,107.5 855,110 851.5,114 C849,117.5 848.4,121 848.4,126 V152 H913 V126 C913,121 912.4,117.5 909.5,114 C906,110 899,107.5 893.5,104.5 C890.5,103 888.8,101 888.6,97.5 V83.9 Z" fill="#6b6988"/>
<path d="M862.2,140 V152 M900.8,138 V152" stroke="#8a889f" stroke-width="0.7" fill="none"/>
<ellipse cx="881.3" cy="131" rx="22.5" ry="13.2" fill="url(#glow)" transform="rotate(-12 881.3 130.6)"/>
<ellipse cx="881.3" cy="130.6" rx="15.5" ry="7.6" fill="none" stroke="#ffffff" stroke-width="1.1" opacity="0.75" transform="rotate(-14 881.3 130.6)" filter="url(#blur2)"/>
<ellipse cx="881.3" cy="130.9" rx="10.5" ry="5" fill="none" stroke="#ffffff" stroke-width="0.9" opacity="0.7" transform="rotate(-14 881.3 130.9)" filter="url(#blur2)"/>
<path d="M879.3,104 Q881.2,102 883.1,104 L884.4,122 H878 Z" fill="#ffffff" opacity="0.95" filter="url(#blur2)"/>
<path d="M877.5,106 L885,106 L887.5,126 H875 Z" fill="#cfe4f6" opacity="0.6" filter="url(#blur1)"/>
<g transform="translate(881.6,128.8) rotate(-22) scale(1.18)">
<path d="M-5.6,-3.2 L0,-5.6 L5.6,-3.2 L5.6,3.6 Q5.6,4.8 4.4,4.8 H-4.4 Q-5.6,4.8 -5.6,3.6 Z" fill="#5f9fd6"/>
<path d="M-5.2,-3.6 L0.3,-6 L5.9,-3.6 L5.9,2.4 Q5.9,3.6 4.7,3.6 H-4 Q-5.2,3.6 -5.2,2.4 Z" fill="#93c4ea"/>
<text x="0.2" y="1.4" font-size="5" font-weight="bold" font-style="italic" text-anchor="middle" style="fill:#6aa6da">Z</text>
</g>
<path d="M782.6,86.8 H848.2 A5.05,5.05 0 0 1 848.2,96.9 H782.6 Z" fill="#c63a3c"/>
<path d="M782.6,136.5 H823.4 A6.35,6.35 0 0 1 823.4,149.2 H782.6 Z" fill="#d3e7f5"/>
<path d="M782.6,136.5 H823.4 A6.35,6.35 0 0 1 823.4,149.2 H782.6 Z" fill="#ffffff" opacity="0.6" filter="url(#frost)"/>
</g>
<rect x="923.6" y="19.4" width="1.4" height="132.5" fill="#55548c" opacity="0.55"/>
<text transform="translate(786.97,29.30) scale(1.3164,1)" font-size="8.60" font-weight="bold" font-style="italic" style="fill:#c4202c" stroke="#c4202c" stroke-width="0.3">NEW</text>
<text transform="translate(826.08,29.00) scale(1.3088,1)" font-size="7.90" font-weight="bold" font-style="italic" style="fill:#3f79b6">Cooling Sensation</text>
<text transform="translate(822.03,40.80) scale(1.0336,1)" font-size="8.40" font-weight="bold" font-style="italic" style="fill:#ffffff" stroke="#ffffff" stroke-width="0.25">MAXIMUM STRENGTH</text>
<text transform="translate(876.39,44.60) scale(1.3099,1)" font-size="2.90" font-style="italic" style="fill:#6b6cb8">NON-PRESCRIPTION</text>
<text transform="translate(793.35,65.70) scale(1.0354,1)" font-size="36.60" font-weight="bold" font-style="italic" style="fill:#ffffff" stroke="#ffffff" stroke-width="1.1" stroke-linejoin="round">Zantac</text>
<text transform="translate(915.54,50.50) scale(0.9929,1)" font-size="4.00" style="fill:#ffffff">®</text>
<text transform="translate(790.83,77.40) scale(1.2719,1)" font-size="4.40" font-style="italic" style="fill:#5c5fb0">RANITIDINE TABLETS USP</text>
<text transform="translate(871.93,92.80) scale(0.8736,1)" font-size="28.20" font-weight="bold" font-style="italic" style="fill:#ffffff" stroke="#ffffff" stroke-width="0.9" stroke-linejoin="round">150</text>
<text transform="translate(914.54,74.60) scale(0.9929,1)" font-size="4.00" style="fill:#ffffff">®</text>
<text transform="translate(911.53,93.20) scale(0.9070,1)" font-size="4.80" font-weight="bold" font-style="italic" style="fill:#ffffff">mg</text>
<text transform="translate(793.11,94.40) scale(0.7313,1)" font-size="6.40" font-weight="bold" font-style="italic" style="fill:#ffffff">RELIEVES &amp; PREVENTS</text>
<text transform="translate(791.64,107.10) scale(0.9151,1)" font-size="8.60" font-weight="bold" font-style="italic" style="fill:#ffffff">HEARTBURN</text>
<text transform="translate(796.09,113.50) scale(0.9438,1)" font-size="5.60" font-style="italic" style="fill:#e9e9f0">acid indigestion</text>
<text transform="translate(795.99,119.80) scale(0.9186,1)" font-size="5.60" font-style="italic" style="fill:#e9e9f0">upset stomach</text>
<text transform="translate(791.68,126.90) scale(0.9511,1)" font-size="6.40" font-weight="bold" font-style="italic" style="fill:#2d2b86" text-decoration="underline">Fast</text>
<text transform="translate(806.33,126.90) scale(0.8551,1)" font-size="5.40" font-style="italic" style="fill:#2d2b86">relief that lasts</text>
<text transform="translate(791.69,132.80) scale(1.0157,1)" font-size="5.40" font-style="italic" style="fill:#2d2b86">a full</text>
<text transform="translate(805.52,132.80) scale(0.8424,1)" font-size="6.40" font-weight="bold" font-style="italic" style="fill:#2d2b86" text-decoration="underline">12 hours!</text>
<text transform="translate(788.36,146.20) scale(1.1204,1)" font-size="9.60" font-weight="bold" font-style="italic" style="fill:#2d2b86">48</text>
<text transform="translate(801.78,142.50) scale(0.8876,1)" font-size="4.90" font-weight="bold" font-style="italic" style="fill:#3a6fb8">COOL MINT</text>
<text transform="translate(801.96,146.60) scale(0.7516,1)" font-size="2.40" font-weight="bold" font-style="italic" style="fill:#3a6fb8">EASY TO SWALLOW TABLETS</text>
<rect x="834" y="145.3" width="7.6" height="1.3" fill="#6b6988" opacity="0.55"/>
<text transform="translate(914.76,149.40) scale(1.0911,1)" font-size="2.60" style="fill:#3d3c86">®</text>
</g>
</svg></body></html>
